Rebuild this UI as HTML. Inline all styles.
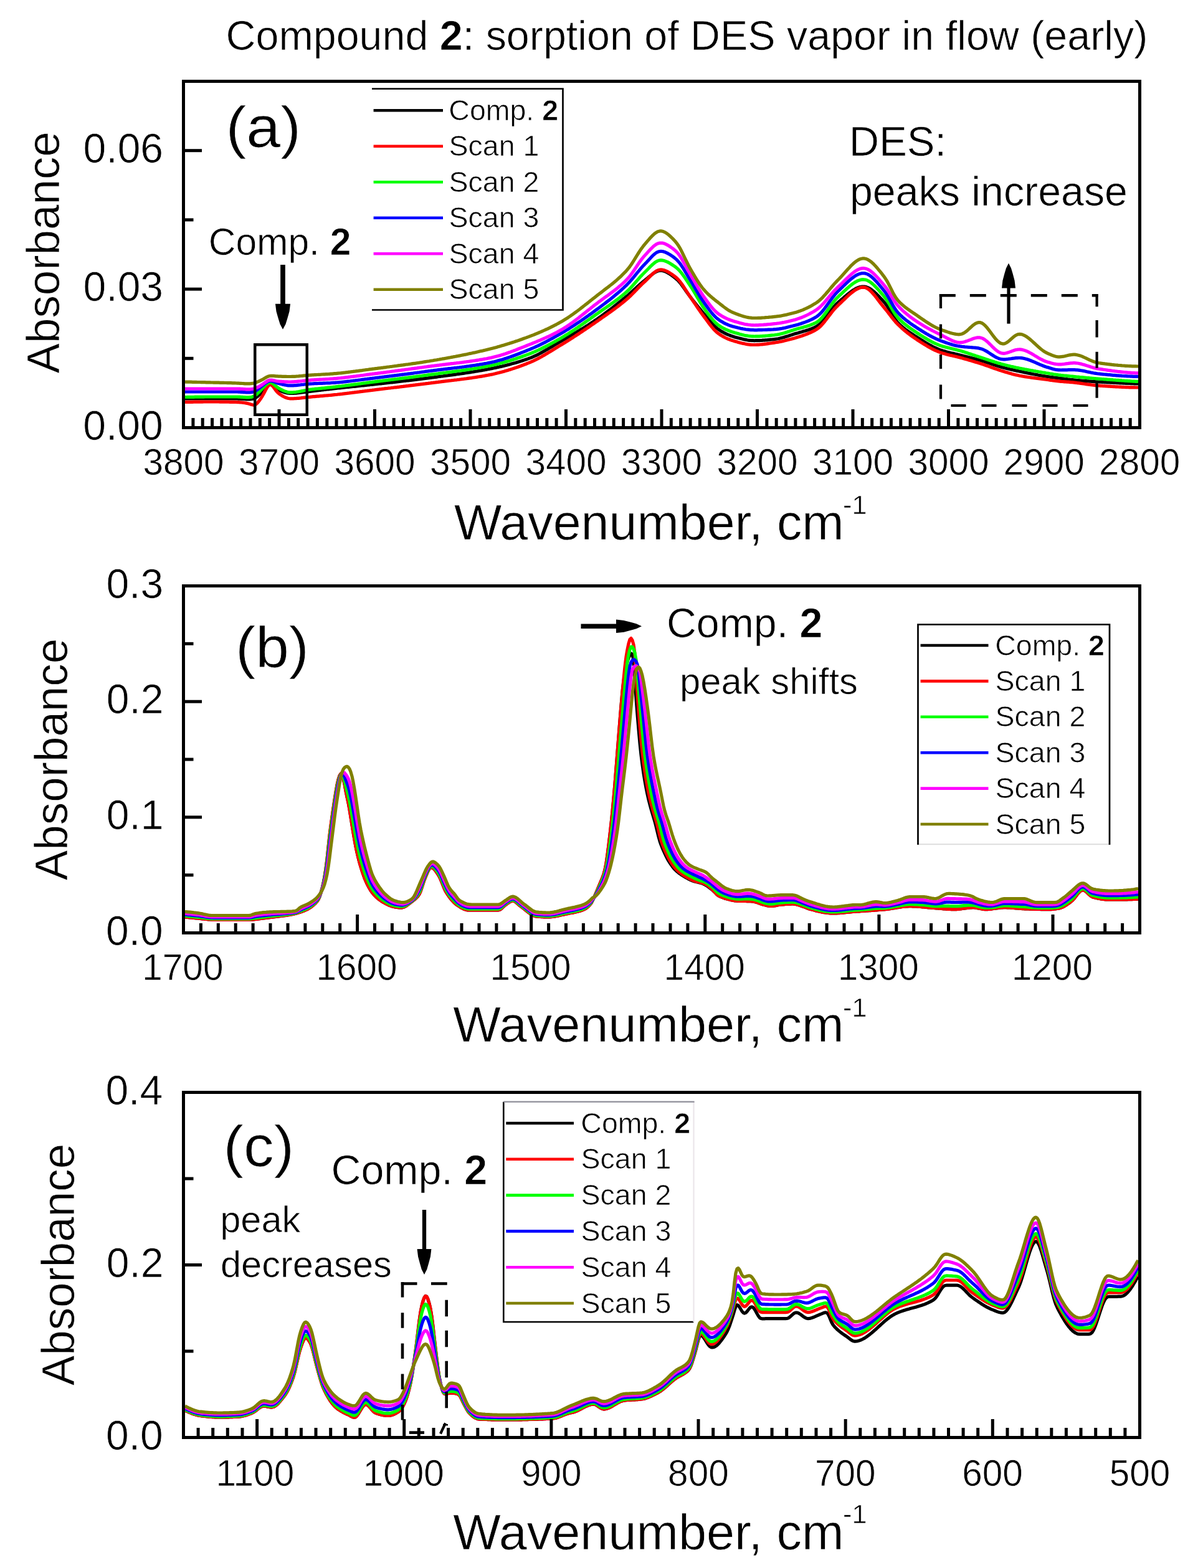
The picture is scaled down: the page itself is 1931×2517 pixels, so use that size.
<!DOCTYPE html><html><head><meta charset="utf-8"><title>Compound 2: sorption of DES vapor in flow (early)</title>
<style>html,body{margin:0;padding:0;background:#fff;width:1931px;height:2517px;overflow:hidden}svg{display:block}text{font-family:'Liberation Sans', Arial, sans-serif;fill:#000;stroke:#fff;stroke-width:0.7px}</style></head><body>
<svg width="1931" height="2517" viewBox="0 0 1931 2517">
<rect width="1931" height="2517" fill="#fff"/>
<text x="362.6" y="80" font-size="66.4">Compound <tspan font-weight="bold">2</tspan>: sorption of DES vapor in flow (early)</text>
<polyline points="297,640 299,640 301,640 303,640 305,640 307,640 309,640 311,640 313,640 315,640 317,640 319,640 321,640 323,640 325,640 327,640 329,640 331,640 333,640 335,640 337,640 339,640 341,640 343,640 345,640 347,640 349,640 351,640 353,640 355,640 357,640 359,640 361,640 363,640 365,640 367,640 369,640 371,640 373,640 375,640 377,640 379,640 381,640 383,640.1 385,640.2 387,640.3 389,640.4 391,640.6 393,640.7 395,640.8 397,640.9 399,640.9 401,640.9 403,640.7 405,640.4 407,639.9 409,639.2 411,638.1 413,636.7 415,634.9 417,633 419,630.9 421,628.6 423,626.2 425,623.7 427,621.2 429,618.9 431,617.3 433,616.4 435,616.4 437,617.4 439,619.1 441,621 443,622.9 445,624.5 447,625.8 449,626.8 451,627.7 453,628.5 455,629.3 457,629.9 459,630.4 461,630.9 463,631.2 465,631.3 467,631.4 469,631.4 471,631.3 473,631.2 475,631.1 477,630.9 479,630.7 481,630.4 483,630.2 485,629.9 487,629.7 489,629.4 491,629.1 493,628.9 495,628.6 497,628.4 499,628.1 501,627.9 503,627.7 505,627.4 507,627.2 509,627 511,626.7 513,626.5 515,626.3 517,626 519,625.8 521,625.5 523,625.3 525,625 527,624.8 529,624.6 531,624.3 533,624.1 535,623.9 537,623.7 539,623.4 541,623.2 543,623 545,622.8 547,622.6 549,622.4 551,622.2 553,621.9 555,621.7 557,621.5 559,621.3 561,621.1 563,620.9 565,620.7 567,620.5 569,620.3 571,620.1 573,619.9 575,619.7 577,619.5 579,619.2 581,619 583,618.8 585,618.6 587,618.4 589,618.2 591,618 593,617.8 595,617.5 597,617.3 599,617.1 601,616.9 603,616.7 605,616.4 607,616.2 609,616 611,615.8 613,615.6 615,615.3 617,615.1 619,614.9 621,614.7 623,614.5 625,614.2 627,614 629,613.8 631,613.6 633,613.3 635,613.1 637,612.9 639,612.7 641,612.4 643,612.2 645,612 647,611.7 649,611.5 651,611.3 653,611 655,610.8 657,610.6 659,610.3 661,610.1 663,609.9 665,609.6 667,609.4 669,609.1 671,608.9 673,608.7 675,608.4 677,608.2 679,607.9 681,607.7 683,607.4 685,607.1 687,606.9 689,606.6 691,606.4 693,606.1 695,605.8 697,605.6 699,605.3 701,605.1 703,604.8 705,604.5 707,604.3 709,604 711,603.8 713,603.5 715,603.2 717,603 719,602.7 721,602.4 723,602.2 725,601.9 727,601.6 729,601.4 731,601.1 733,600.8 735,600.5 737,600.3 739,600 741,599.7 743,599.4 745,599.1 747,598.8 749,598.5 751,598.2 753,597.9 755,597.6 757,597.3 759,597 761,596.6 763,596.3 765,596 767,595.6 769,595.3 771,595 773,594.6 775,594.2 777,593.9 779,593.5 781,593.1 783,592.8 785,592.4 787,592 789,591.6 791,591.2 793,590.8 795,590.4 797,589.9 799,589.5 801,589.1 803,588.6 805,588.2 807,587.7 809,587.2 811,586.7 813,586.2 815,585.7 817,585.2 819,584.7 821,584.1 823,583.6 825,583 827,582.5 829,581.9 831,581.3 833,580.7 835,580.1 837,579.4 839,578.8 841,578.1 843,577.4 845,576.8 847,576.1 849,575.3 851,574.6 853,573.8 855,573 857,572.1 859,571.2 861,570.3 863,569.3 865,568.3 867,567.2 869,566.1 871,565 873,563.9 875,562.8 877,561.6 879,560.5 881,559.3 883,558.1 885,556.9 887,555.7 889,554.5 891,553.3 893,552.1 895,550.9 897,549.8 899,548.6 901,547.4 903,546.3 905,545.1 907,544 909,542.8 911,541.7 913,540.5 915,539.3 917,538.2 919,537 921,535.8 923,534.6 925,533.5 927,532.3 929,531.1 931,529.8 933,528.6 935,527.4 937,526.2 939,524.9 941,523.6 943,522.4 945,521.1 947,519.8 949,518.5 951,517.2 953,515.9 955,514.5 957,513.2 959,511.8 961,510.4 963,509 965,507.6 967,506.1 969,504.7 971,503.2 973,501.7 975,500.2 977,498.7 979,497.2 981,495.6 983,494.1 985,492.5 987,490.9 989,489.3 991,487.7 993,486.1 995,484.5 997,482.9 999,481.3 1001,479.6 1003,478 1005,476.3 1007,474.7 1009,473 1011,471.2 1013,469.4 1015,467.6 1017,465.8 1019,463.9 1021,462.1 1023,460.2 1025,458.4 1027,456.6 1029,454.9 1031,453.2 1033,451.6 1035,450 1037,448.4 1039,446.8 1041,445.1 1043,443.4 1045,441.8 1047,440.2 1049,438.7 1051,437.4 1053,436.3 1055,435.4 1057,434.7 1059,434.4 1061,434.3 1063,434.5 1065,435 1067,435.6 1069,436.5 1071,437.5 1073,438.6 1075,439.8 1077,441.2 1079,442.6 1081,444 1083,445.6 1085,447.2 1087,449 1089,451 1091,453.3 1093,455.7 1095,458.4 1097,461.2 1099,464 1101,466.9 1103,469.8 1105,472.6 1107,475.3 1109,477.9 1111,480.5 1113,483 1115,485.5 1117,488 1119,490.5 1121,493 1123,495.4 1125,497.9 1127,500.3 1129,502.6 1131,505 1133,507.4 1135,509.8 1137,512.2 1139,514.6 1141,517 1143,519.2 1145,521.4 1147,523.4 1149,525.3 1151,527 1153,528.5 1155,529.9 1157,531.2 1159,532.4 1161,533.5 1163,534.6 1165,535.6 1167,536.6 1169,537.4 1171,538.2 1173,539 1175,539.6 1177,540.3 1179,540.9 1181,541.5 1183,542 1185,542.6 1187,543.1 1189,543.6 1191,544.1 1193,544.6 1195,545 1197,545.4 1199,545.8 1201,546.1 1203,546.3 1205,546.5 1207,546.7 1209,546.7 1211,546.8 1213,546.7 1215,546.7 1217,546.7 1219,546.6 1221,546.5 1223,546.4 1225,546.2 1227,546.1 1229,545.9 1231,545.8 1233,545.6 1235,545.4 1237,545.2 1239,545 1241,544.8 1243,544.6 1245,544.3 1247,544 1249,543.7 1251,543.3 1253,542.8 1255,542.3 1257,541.8 1259,541.2 1261,540.6 1263,540 1265,539.4 1267,538.7 1269,538.1 1271,537.4 1273,536.8 1275,536.1 1277,535.5 1279,534.9 1281,534.4 1283,533.8 1285,533.2 1287,532.7 1289,532.1 1291,531.5 1293,531 1295,530.3 1297,529.7 1299,529 1301,528.3 1303,527.6 1305,526.7 1307,525.9 1309,524.9 1311,523.8 1313,522.5 1315,520.9 1317,519.2 1319,517.1 1321,514.9 1323,512.5 1325,510 1327,507.4 1329,504.7 1331,502.1 1333,499.4 1335,496.8 1337,494.3 1339,491.9 1341,489.7 1343,487.7 1345,485.8 1347,484.1 1349,482.3 1351,480.6 1353,478.9 1355,477.1 1357,475.4 1359,473.7 1361,472.1 1363,470.5 1365,469 1367,467.5 1369,466.1 1371,464.9 1373,463.7 1375,462.7 1377,461.8 1379,461.1 1381,460.5 1383,460.2 1385,460 1387,460 1389,460.3 1391,460.8 1393,461.6 1395,462.6 1397,463.8 1399,465.1 1401,466.7 1403,468.3 1405,470.1 1407,472 1409,474 1411,476.1 1413,478.2 1415,480.3 1417,482.5 1419,484.8 1421,487.2 1423,489.9 1425,492.9 1427,496.2 1429,499.6 1431,503.1 1433,506.5 1435,509.8 1437,512.8 1439,515.4 1441,517.8 1443,519.9 1445,521.8 1447,523.6 1449,525.3 1451,526.9 1453,528.5 1455,530 1457,531.4 1459,532.8 1461,534.1 1463,535.5 1465,536.8 1467,538.1 1469,539.4 1471,540.6 1473,541.9 1475,543.2 1477,544.5 1479,545.8 1481,547 1483,548.3 1485,549.5 1487,550.7 1489,551.9 1491,553 1493,554.2 1495,555.2 1497,556.3 1499,557.3 1501,558.2 1503,559.2 1505,560 1507,560.8 1509,561.6 1511,562.3 1513,562.9 1515,563.6 1517,564.1 1519,564.7 1521,565.2 1523,565.7 1525,566.2 1527,566.7 1529,567.1 1531,567.6 1533,568.1 1535,568.5 1537,569 1539,569.5 1541,570 1543,570.5 1545,571 1547,571.5 1549,572 1551,572.5 1553,573 1555,573.5 1557,574 1559,574.5 1561,575.1 1563,575.6 1565,576.1 1567,576.6 1569,577.2 1571,577.7 1573,578.3 1575,578.9 1577,579.5 1579,580.1 1581,580.8 1583,581.4 1585,582.1 1587,582.7 1589,583.4 1591,584.1 1593,584.8 1595,585.4 1597,586.1 1599,586.7 1601,587.4 1603,588 1605,588.6 1607,589.2 1609,589.7 1611,590.2 1613,590.8 1615,591.3 1617,591.8 1619,592.2 1621,592.7 1623,593.2 1625,593.6 1627,594.1 1629,594.5 1631,594.9 1633,595.4 1635,595.8 1637,596.2 1639,596.6 1641,597 1643,597.5 1645,597.9 1647,598.3 1649,598.7 1651,599.1 1653,599.5 1655,599.9 1657,600.3 1659,600.7 1661,601 1663,601.4 1665,601.8 1667,602.2 1669,602.5 1671,602.9 1673,603.2 1675,603.5 1677,603.9 1679,604.2 1681,604.5 1683,604.8 1685,605.1 1687,605.3 1689,605.6 1691,605.9 1693,606.1 1695,606.4 1697,606.6 1699,606.9 1701,607.1 1703,607.4 1705,607.7 1707,607.9 1709,608.2 1711,608.5 1713,608.7 1715,609 1717,609.2 1719,609.5 1721,609.7 1723,609.9 1725,610.1 1727,610.3 1729,610.5 1731,610.6 1733,610.8 1735,611 1737,611.2 1739,611.3 1741,611.5 1743,611.6 1745,611.8 1747,611.9 1749,612.1 1751,612.2 1753,612.4 1755,612.5 1757,612.6 1759,612.8 1761,612.9 1763,613 1765,613.1 1767,613.2 1769,613.3 1771,613.5 1773,613.6 1775,613.7 1777,613.8 1779,613.9 1781,614 1783,614.1 1785,614.2 1787,614.3 1789,614.4 1791,614.5 1793,614.6 1795,614.7 1797,614.8 1799,614.9 1801,615 1803,615.1 1805,615.2 1807,615.3 1809,615.3 1811,615.4 1813,615.5 1815,615.6 1817,615.6 1819,615.7 1821,615.8 1823,615.8 1825,615.9 1827,615.9" fill="none" stroke="#000000" stroke-width="5.2" stroke-linejoin="round" stroke-linecap="butt"/>
<polyline points="297,645.5 299,645.4 301,645.4 303,645.4 305,645.3 307,645.3 309,645.3 311,645.2 313,645.2 315,645.2 317,645.1 319,645.1 321,645.1 323,645.1 325,645.1 327,645 329,645 331,645 333,645 335,645 337,645 339,645 341,645 343,645 345,645 347,645 349,645 351,645 353,645.1 355,645.1 357,645.1 359,645.1 361,645.1 363,645.2 365,645.2 367,645.2 369,645.3 371,645.3 373,645.3 375,645.4 377,645.4 379,645.5 381,645.6 383,645.7 385,645.8 387,646 389,646.2 391,646.5 393,646.8 395,647.1 397,647.5 399,648 401,648.5 403,649.2 405,649.8 407,650.1 409,649.8 411,648.8 413,647 415,644.7 417,642.1 419,639.2 421,636 423,632.5 425,628.7 427,624.9 429,621.5 431,618.9 433,617.6 435,617.6 437,619 439,621.4 441,624.2 443,627 445,629.3 447,631.2 449,632.8 451,634.1 453,635.4 455,636.5 457,637.5 459,638.3 461,639 463,639.5 465,639.8 467,639.9 469,639.9 471,639.8 473,639.7 475,639.6 477,639.4 479,639.3 481,639.1 483,638.9 485,638.6 487,638.4 489,638.2 491,638 493,637.7 495,637.5 497,637.3 499,637.1 501,636.9 503,636.7 505,636.6 507,636.4 509,636.2 511,636.1 513,635.9 515,635.7 517,635.6 519,635.4 521,635.2 523,635 525,634.8 527,634.7 529,634.5 531,634.3 533,634.1 535,633.9 537,633.7 539,633.5 541,633.3 543,633 545,632.8 547,632.6 549,632.4 551,632.1 553,631.9 555,631.7 557,631.4 559,631.2 561,630.9 563,630.7 565,630.4 567,630.2 569,629.9 571,629.7 573,629.4 575,629.2 577,628.9 579,628.6 581,628.4 583,628.1 585,627.9 587,627.6 589,627.4 591,627.1 593,626.9 595,626.6 597,626.4 599,626.1 601,625.9 603,625.6 605,625.4 607,625.2 609,624.9 611,624.7 613,624.4 615,624.2 617,623.9 619,623.7 621,623.5 623,623.2 625,623 627,622.8 629,622.5 631,622.3 633,622 635,621.8 637,621.6 639,621.3 641,621.1 643,620.8 645,620.6 647,620.4 649,620.1 651,619.9 653,619.6 655,619.4 657,619.1 659,618.9 661,618.7 663,618.4 665,618.2 667,617.9 669,617.7 671,617.4 673,617.2 675,616.9 677,616.7 679,616.4 681,616.2 683,615.9 685,615.6 687,615.4 689,615.1 691,614.9 693,614.6 695,614.4 697,614.1 699,613.9 701,613.6 703,613.4 705,613.1 707,612.9 709,612.6 711,612.4 713,612.2 715,611.9 717,611.7 719,611.4 721,611.2 723,611 725,610.7 727,610.5 729,610.2 731,610 733,609.8 735,609.5 737,609.3 739,609 741,608.7 743,608.5 745,608.2 747,608 749,607.7 751,607.4 753,607.1 755,606.8 757,606.6 759,606.3 761,606 763,605.7 765,605.4 767,605 769,604.7 771,604.4 773,604.1 775,603.7 777,603.4 779,603 781,602.6 783,602.3 785,601.9 787,601.5 789,601.1 791,600.7 793,600.2 795,599.8 797,599.3 799,598.8 801,598.3 803,597.8 805,597.3 807,596.7 809,596.2 811,595.6 813,595 815,594.4 817,593.8 819,593.2 821,592.6 823,591.9 825,591.2 827,590.6 829,589.9 831,589.2 833,588.5 835,587.8 837,587 839,586.3 841,585.5 843,584.8 845,584 847,583.2 849,582.4 851,581.6 853,580.7 855,579.8 857,578.9 859,577.9 861,576.9 863,575.9 865,574.9 867,573.8 869,572.7 871,571.5 873,570.4 875,569.2 877,568 879,566.9 881,565.6 883,564.4 885,563.2 887,562 889,560.7 891,559.5 893,558.3 895,557 897,555.8 899,554.6 901,553.4 903,552.2 905,551 907,549.7 909,548.5 911,547.2 913,546 915,544.7 917,543.4 919,542.2 921,540.9 923,539.6 925,538.3 927,537 929,535.7 931,534.4 933,533 935,531.7 937,530.4 939,529 941,527.7 943,526.3 945,525 947,523.6 949,522.2 951,520.8 953,519.5 955,518.1 957,516.7 959,515.3 961,513.9 963,512.5 965,511.1 967,509.7 969,508.3 971,506.9 973,505.5 975,504.1 977,502.7 979,501.3 981,499.9 983,498.4 985,496.9 987,495.5 989,494 991,492.5 993,490.9 995,489.4 997,487.8 999,486.2 1001,484.6 1003,482.9 1005,481.3 1007,479.5 1009,477.7 1011,475.9 1013,474 1015,472 1017,470 1019,467.9 1021,465.8 1023,463.8 1025,461.7 1027,459.7 1029,457.7 1031,455.7 1033,453.8 1035,452 1037,450.1 1039,448.1 1041,446.1 1043,444.1 1045,442.1 1047,440.2 1049,438.4 1051,436.8 1053,435.4 1055,434.3 1057,433.5 1059,433.1 1061,432.9 1063,433.1 1065,433.5 1067,434.1 1069,434.9 1071,435.8 1073,436.9 1075,438.1 1077,439.4 1079,440.7 1081,442.1 1083,443.6 1085,445.2 1087,447 1089,449.1 1091,451.4 1093,454 1095,456.8 1097,459.8 1099,462.9 1101,466 1103,469.1 1105,472.2 1107,475.2 1109,478.1 1111,481 1113,483.9 1115,486.9 1117,489.8 1119,492.8 1121,495.7 1123,498.6 1125,501.4 1127,504.2 1129,506.9 1131,509.6 1133,512.3 1135,515 1137,517.7 1139,520.3 1141,522.9 1143,525.4 1145,527.7 1147,529.9 1149,531.9 1151,533.7 1153,535.3 1155,536.7 1157,538 1159,539.3 1161,540.4 1163,541.5 1165,542.5 1167,543.4 1169,544.3 1171,545 1173,545.8 1175,546.4 1177,547.1 1179,547.7 1181,548.3 1183,548.8 1185,549.4 1187,549.9 1189,550.4 1191,550.9 1193,551.4 1195,551.8 1197,552.2 1199,552.6 1201,552.9 1203,553.1 1205,553.3 1207,553.5 1209,553.5 1211,553.5 1213,553.5 1215,553.4 1217,553.3 1219,553.2 1221,553 1223,552.8 1225,552.6 1227,552.4 1229,552.2 1231,551.9 1233,551.6 1235,551.3 1237,551 1239,550.7 1241,550.4 1243,550.1 1245,549.8 1247,549.5 1249,549.2 1251,548.8 1253,548.4 1255,548 1257,547.6 1259,547.1 1261,546.6 1263,546.1 1265,545.6 1267,545.1 1269,544.6 1271,544 1273,543.4 1275,542.9 1277,542.3 1279,541.7 1281,541.1 1283,540.5 1285,539.8 1287,539.2 1289,538.5 1291,537.8 1293,537.1 1295,536.3 1297,535.5 1299,534.7 1301,533.8 1303,532.9 1305,531.9 1307,530.9 1309,529.7 1311,528.5 1313,527.1 1315,525.5 1317,523.7 1319,521.6 1321,519.4 1323,517 1325,514.5 1327,512 1329,509.3 1331,506.7 1333,504.1 1335,501.5 1337,499 1339,496.6 1341,494.4 1343,492.3 1345,490.3 1347,488.4 1349,486.5 1351,484.6 1353,482.7 1355,480.8 1357,478.8 1359,476.9 1361,475.1 1363,473.2 1365,471.5 1367,469.8 1369,468.3 1371,466.8 1373,465.5 1375,464.3 1377,463.3 1379,462.4 1381,461.8 1383,461.3 1385,461.2 1387,461.3 1389,461.7 1391,462.5 1393,463.6 1395,465 1397,466.8 1399,468.7 1401,470.9 1403,473.2 1405,475.7 1407,478.2 1409,480.8 1411,483.5 1413,486.1 1415,488.7 1417,491.2 1419,493.6 1421,496 1423,498.5 1425,501 1427,503.6 1429,506.2 1431,508.8 1433,511.3 1435,513.8 1437,516.2 1439,518.4 1441,520.5 1443,522.4 1445,524.3 1447,526.2 1449,528 1451,529.7 1453,531.4 1455,533 1457,534.6 1459,536.1 1461,537.6 1463,539.1 1465,540.5 1467,541.9 1469,543.3 1471,544.6 1473,546 1475,547.3 1477,548.6 1479,549.9 1481,551.1 1483,552.4 1485,553.6 1487,554.8 1489,556 1491,557.1 1493,558.2 1495,559.3 1497,560.3 1499,561.3 1501,562.3 1503,563.2 1505,564 1507,564.8 1509,565.6 1511,566.3 1513,566.9 1515,567.5 1517,568.1 1519,568.7 1521,569.2 1523,569.7 1525,570.2 1527,570.6 1529,571.1 1531,571.5 1533,572 1535,572.5 1537,573 1539,573.5 1541,574 1543,574.6 1545,575.1 1547,575.7 1549,576.2 1551,576.8 1553,577.3 1555,577.9 1557,578.5 1559,579.1 1561,579.7 1563,580.3 1565,580.9 1567,581.5 1569,582.1 1571,582.7 1573,583.3 1575,584 1577,584.6 1579,585.3 1581,586 1583,586.7 1585,587.4 1587,588.1 1589,588.8 1591,589.6 1593,590.3 1595,591 1597,591.7 1599,592.4 1601,593.1 1603,593.8 1605,594.4 1607,595.1 1609,595.7 1611,596.3 1613,596.9 1615,597.5 1617,598.1 1619,598.7 1621,599.3 1623,599.8 1625,600.4 1627,600.9 1629,601.4 1631,601.9 1633,602.3 1635,602.8 1637,603.2 1639,603.5 1641,603.9 1643,604.2 1645,604.6 1647,604.9 1649,605.2 1651,605.5 1653,605.8 1655,606.1 1657,606.4 1659,606.6 1661,606.9 1663,607.2 1665,607.4 1667,607.7 1669,607.9 1671,608.2 1673,608.4 1675,608.7 1677,609 1679,609.2 1681,609.5 1683,609.8 1685,610.1 1687,610.3 1689,610.6 1691,610.9 1693,611.2 1695,611.4 1697,611.6 1699,611.9 1701,612.1 1703,612.3 1705,612.5 1707,612.6 1709,612.8 1711,612.9 1713,613.1 1715,613.2 1717,613.4 1719,613.6 1721,613.7 1723,613.9 1725,614.1 1727,614.3 1729,614.6 1731,614.8 1733,615.1 1735,615.4 1737,615.7 1739,616 1741,616.3 1743,616.6 1745,616.9 1747,617.2 1749,617.4 1751,617.7 1753,618 1755,618.2 1757,618.4 1759,618.6 1761,618.8 1763,619 1765,619.1 1767,619.3 1769,619.4 1771,619.6 1773,619.7 1775,619.8 1777,620 1779,620.1 1781,620.2 1783,620.3 1785,620.5 1787,620.6 1789,620.7 1791,620.8 1793,620.9 1795,621 1797,621.1 1799,621.2 1801,621.3 1803,621.4 1805,621.5 1807,621.6 1809,621.6 1811,621.7 1813,621.8 1815,621.8 1817,621.9 1819,621.9 1821,621.9 1823,622 1825,622 1827,622" fill="none" stroke="#ff0000" stroke-width="5.2" stroke-linejoin="round" stroke-linecap="butt"/>
<polyline points="297,637.5 299,637.5 301,637.4 303,637.4 305,637.4 307,637.3 309,637.3 311,637.3 313,637.2 315,637.2 317,637.2 319,637.2 321,637.1 323,637.1 325,637.1 327,637.1 329,637 331,637 333,637 335,637 337,637 339,637 341,637 343,637 345,637 347,637 349,637 351,637 353,637 355,637 357,637 359,637 361,637 363,637 365,637 367,637 369,637 371,637 373,637 375,637 377,637 379,637 381,637 383,637.1 385,637.2 387,637.3 389,637.4 391,637.6 393,637.7 395,637.8 397,637.9 399,637.9 401,637.7 403,637.4 405,636.9 407,636.1 409,635.1 411,633.7 413,632 415,630.1 417,628.1 419,626 421,623.9 423,621.8 425,619.7 427,617.7 429,616 431,614.7 433,614.1 435,614.2 437,615.1 439,616.6 441,618.3 443,620.1 445,621.6 447,623 449,624.1 451,625.2 453,626.2 455,627.1 457,627.9 459,628.6 461,629.2 463,629.6 465,629.8 467,629.9 469,629.8 471,629.7 473,629.5 475,629.3 477,629 479,628.7 481,628.4 483,628 485,627.6 487,627.2 489,626.8 491,626.5 493,626.1 495,625.8 497,625.4 499,625.2 501,624.9 503,624.7 505,624.4 507,624.2 509,624 511,623.8 513,623.6 515,623.4 517,623.2 519,623 521,622.8 523,622.6 525,622.4 527,622.2 529,622 531,621.8 533,621.6 535,621.4 537,621.2 539,620.9 541,620.7 543,620.4 545,620.2 547,620 549,619.7 551,619.5 553,619.2 555,618.9 557,618.7 559,618.4 561,618.2 563,617.9 565,617.6 567,617.4 569,617.1 571,616.8 573,616.6 575,616.3 577,616 579,615.8 581,615.5 583,615.2 585,615 587,614.7 589,614.4 591,614.2 593,613.9 595,613.6 597,613.4 599,613.1 601,612.9 603,612.6 605,612.4 607,612.1 609,611.9 611,611.6 613,611.4 615,611.1 617,610.8 619,610.6 621,610.3 623,610.1 625,609.8 627,609.6 629,609.3 631,609.1 633,608.9 635,608.6 637,608.4 639,608.1 641,607.9 643,607.6 645,607.4 647,607.1 649,606.9 651,606.6 653,606.3 655,606.1 657,605.8 659,605.6 661,605.3 663,605.1 665,604.8 667,604.6 669,604.3 671,604 673,603.8 675,603.5 677,603.3 679,603 681,602.7 683,602.5 685,602.2 687,601.9 689,601.6 691,601.4 693,601.1 695,600.8 697,600.6 699,600.3 701,600 703,599.8 705,599.5 707,599.2 709,599 711,598.7 713,598.5 715,598.2 717,597.9 719,597.7 721,597.4 723,597.1 725,596.9 727,596.6 729,596.4 731,596.1 733,595.8 735,595.5 737,595.3 739,595 741,594.7 743,594.4 745,594.1 747,593.9 749,593.6 751,593.3 753,593 755,592.7 757,592.3 759,592 761,591.7 763,591.4 765,591.1 767,590.7 769,590.4 771,590 773,589.7 775,589.3 777,588.9 779,588.6 781,588.2 783,587.8 785,587.4 787,587 789,586.6 791,586.1 793,585.7 795,585.2 797,584.8 799,584.3 801,583.8 803,583.3 805,582.7 807,582.2 809,581.6 811,581.1 813,580.5 815,579.9 817,579.3 819,578.7 821,578.1 823,577.5 825,576.8 827,576.2 829,575.5 831,574.8 833,574.1 835,573.5 837,572.8 839,572 841,571.3 843,570.6 845,569.9 847,569.1 849,568.4 851,567.6 853,566.8 855,566 857,565.2 859,564.3 861,563.4 863,562.5 865,561.6 867,560.6 869,559.7 871,558.7 873,557.7 875,556.7 877,555.6 879,554.6 881,553.5 883,552.5 885,551.4 887,550.3 889,549.2 891,548.1 893,547 895,545.8 897,544.7 899,543.6 901,542.4 903,541.2 905,540.1 907,538.8 909,537.6 911,536.4 913,535.1 915,533.8 917,532.5 919,531.2 921,529.9 923,528.6 925,527.2 927,525.9 929,524.5 931,523.1 933,521.7 935,520.3 937,518.9 939,517.5 941,516.1 943,514.7 945,513.3 947,511.8 949,510.4 951,509 953,507.6 955,506.1 957,504.7 959,503.3 961,501.9 963,500.5 965,499.1 967,497.7 969,496.3 971,494.9 973,493.6 975,492.2 977,490.8 979,489.4 981,487.9 983,486.5 985,485 987,483.6 989,482.1 991,480.6 993,479 995,477.5 997,475.9 999,474.2 1001,472.6 1003,470.9 1005,469.1 1007,467.3 1009,465.4 1011,463.4 1013,461.3 1015,459.1 1017,456.8 1019,454.5 1021,452.2 1023,449.9 1025,447.6 1027,445.3 1029,443.1 1031,441 1033,439 1035,437 1037,435 1039,433 1041,431 1043,428.9 1045,426.9 1047,425 1049,423.2 1051,421.6 1053,420.2 1055,419.1 1057,418.3 1059,417.9 1061,417.7 1063,417.9 1065,418.3 1067,418.8 1069,419.6 1071,420.4 1073,421.4 1075,422.5 1077,423.7 1079,425 1081,426.3 1083,427.7 1085,429.2 1087,430.8 1089,432.7 1091,434.8 1093,437.2 1095,439.7 1097,442.5 1099,445.3 1101,448.2 1103,451.2 1105,454.2 1107,457.2 1109,460.2 1111,463.3 1113,466.6 1115,470 1117,473.4 1119,476.9 1121,480.3 1123,483.7 1125,487 1127,490.2 1129,493.2 1131,496.1 1133,498.9 1135,501.7 1137,504.4 1139,507.1 1141,509.6 1143,512.1 1145,514.4 1147,516.6 1149,518.5 1151,520.3 1153,521.8 1155,523.2 1157,524.5 1159,525.7 1161,526.8 1163,527.8 1165,528.8 1167,529.7 1169,530.5 1171,531.3 1173,532 1175,532.7 1177,533.3 1179,533.9 1181,534.5 1183,535.1 1185,535.6 1187,536.2 1189,536.7 1191,537.2 1193,537.7 1195,538.2 1197,538.6 1199,538.9 1201,539.2 1203,539.5 1205,539.7 1207,539.8 1209,539.9 1211,540 1213,539.9 1215,539.9 1217,539.9 1219,539.8 1221,539.7 1223,539.6 1225,539.4 1227,539.3 1229,539.1 1231,539 1233,538.8 1235,538.6 1237,538.4 1239,538.2 1241,538 1243,537.8 1245,537.5 1247,537.2 1249,536.9 1251,536.5 1253,536 1255,535.5 1257,535 1259,534.4 1261,533.8 1263,533.2 1265,532.5 1267,531.9 1269,531.2 1271,530.6 1273,530 1275,529.3 1277,528.7 1279,528.1 1281,527.6 1283,527 1285,526.5 1287,525.9 1289,525.4 1291,524.8 1293,524.3 1295,523.7 1297,523 1299,522.4 1301,521.7 1303,520.9 1305,520.1 1307,519.2 1309,518.3 1311,517.2 1313,515.8 1315,514.3 1317,512.4 1319,510.3 1321,507.9 1323,505.4 1325,502.7 1327,500 1329,497.1 1331,494.3 1333,491.4 1335,488.6 1337,485.9 1339,483.4 1341,481 1343,478.8 1345,476.8 1347,474.9 1349,473 1351,471.2 1353,469.3 1355,467.4 1357,465.6 1359,463.7 1361,461.9 1363,460.2 1365,458.5 1367,456.9 1369,455.4 1371,454.1 1373,452.8 1375,451.7 1377,450.7 1379,449.9 1381,449.3 1383,448.9 1385,448.7 1387,448.8 1389,449.1 1391,449.6 1393,450.5 1395,451.6 1397,452.9 1399,454.4 1401,456.1 1403,457.9 1405,459.9 1407,462 1409,464.1 1411,466.4 1413,468.7 1415,471 1417,473.3 1419,475.7 1421,478.3 1423,481.1 1425,484.1 1427,487.5 1429,491 1431,494.5 1433,498 1435,501.3 1437,504.4 1439,507.1 1441,509.5 1443,511.7 1445,513.7 1447,515.6 1449,517.5 1451,519.2 1453,520.8 1455,522.4 1457,524 1459,525.4 1461,526.9 1463,528.3 1465,529.6 1467,531 1469,532.3 1471,533.7 1473,535 1475,536.3 1477,537.6 1479,538.9 1481,540.1 1483,541.4 1485,542.6 1487,543.8 1489,545 1491,546.1 1493,547.2 1495,548.3 1497,549.3 1499,550.3 1501,551.3 1503,552.2 1505,553 1507,553.8 1509,554.6 1511,555.3 1513,555.9 1515,556.5 1517,557.1 1519,557.6 1521,558.1 1523,558.6 1525,559.1 1527,559.6 1529,560 1531,560.5 1533,561 1535,561.4 1537,561.9 1539,562.5 1541,563 1543,563.6 1545,564.2 1547,564.8 1549,565.4 1551,566.1 1553,566.7 1555,567.4 1557,568 1559,568.7 1561,569.4 1563,570 1565,570.7 1567,571.4 1569,572 1571,572.7 1573,573.3 1575,574 1577,574.6 1579,575.3 1581,575.9 1583,576.6 1585,577.3 1587,577.9 1589,578.6 1591,579.3 1593,579.9 1595,580.5 1597,581.2 1599,581.8 1601,582.4 1603,583 1605,583.6 1607,584.2 1609,584.7 1611,585.2 1613,585.8 1615,586.3 1617,586.8 1619,587.2 1621,587.7 1623,588.2 1625,588.6 1627,589.1 1629,589.5 1631,590 1633,590.4 1635,590.8 1637,591.2 1639,591.6 1641,592 1643,592.4 1645,592.8 1647,593.1 1649,593.5 1651,593.9 1653,594.2 1655,594.6 1657,594.9 1659,595.3 1661,595.6 1663,596 1665,596.3 1667,596.7 1669,597 1671,597.3 1673,597.7 1675,598 1677,598.3 1679,598.7 1681,599 1683,599.3 1685,599.7 1687,600 1689,600.3 1691,600.7 1693,601 1695,601.3 1697,601.6 1699,601.9 1701,602.1 1703,602.4 1705,602.6 1707,602.8 1709,603 1711,603.2 1713,603.4 1715,603.6 1717,603.8 1719,604 1721,604.2 1723,604.4 1725,604.6 1727,604.8 1729,605 1731,605.2 1733,605.4 1735,605.5 1737,605.7 1739,605.9 1741,606.1 1743,606.3 1745,606.5 1747,606.6 1749,606.8 1751,607 1753,607.2 1755,607.3 1757,607.5 1759,607.7 1761,607.8 1763,608 1765,608.2 1767,608.3 1769,608.5 1771,608.6 1773,608.8 1775,608.9 1777,609.1 1779,609.3 1781,609.4 1783,609.6 1785,609.7 1787,609.9 1789,610 1791,610.2 1793,610.3 1795,610.4 1797,610.6 1799,610.7 1801,610.9 1803,611 1805,611.2 1807,611.3 1809,611.4 1811,611.6 1813,611.7 1815,611.8 1817,612 1819,612.1 1821,612.2 1823,612.3 1825,612.4 1827,612.5" fill="none" stroke="#00ff00" stroke-width="5.2" stroke-linejoin="round" stroke-linecap="butt"/>
<polyline points="297,629 299,629 301,629 303,629 305,629 307,629 309,629 311,629 313,629 315,629 317,629 319,629 321,629 323,629 325,629 327,629 329,629 331,629 333,629 335,629 337,629 339,629 341,629 343,629 345,629 347,629 349,629 351,629 353,629 355,629 357,629 359,629 361,629 363,629 365,629 367,629 369,629 371,629 373,629 375,629 377,629 379,629 381,629 383,629.1 385,629.2 387,629.3 389,629.4 391,629.6 393,629.7 395,629.8 397,629.9 399,629.9 401,629.9 403,629.7 405,629.4 407,628.9 409,628.2 411,627.2 413,625.8 415,624.2 417,622.6 419,620.9 421,619.2 423,617.6 425,616 427,614.5 429,613.2 431,612.2 433,611.7 435,611.6 437,611.9 439,612.6 441,613.3 443,614.1 445,614.9 447,615.5 449,616 451,616.6 453,617.1 455,617.5 457,617.9 459,618.3 461,618.6 463,618.8 465,618.9 467,618.9 469,618.9 471,618.8 473,618.7 475,618.6 477,618.4 479,618.2 481,618 483,617.7 485,617.5 487,617.3 489,617 491,616.8 493,616.6 495,616.4 497,616.2 499,616.1 501,616 503,615.8 505,615.7 507,615.7 509,615.6 511,615.5 513,615.4 515,615.3 517,615.3 519,615.2 521,615.1 523,615 525,614.9 527,614.9 529,614.8 531,614.7 533,614.5 535,614.4 537,614.3 539,614.1 541,614 543,613.8 545,613.7 547,613.5 549,613.3 551,613.1 553,612.9 555,612.7 557,612.4 559,612.2 561,612 563,611.7 565,611.5 567,611.2 569,611 571,610.7 573,610.5 575,610.2 577,610 579,609.7 581,609.4 583,609.2 585,608.9 587,608.6 589,608.4 591,608.1 593,607.9 595,607.6 597,607.4 599,607.1 601,606.9 603,606.6 605,606.4 607,606.2 609,605.9 611,605.7 613,605.4 615,605.2 617,604.9 619,604.7 621,604.4 623,604.2 625,603.9 627,603.7 629,603.4 631,603.2 633,602.9 635,602.7 637,602.4 639,602.2 641,601.9 643,601.7 645,601.4 647,601.1 649,600.9 651,600.6 653,600.4 655,600.1 657,599.8 659,599.6 661,599.3 663,599.1 665,598.8 667,598.5 669,598.3 671,598 673,597.8 675,597.5 677,597.2 679,597 681,596.7 683,596.4 685,596.2 687,595.9 689,595.6 691,595.4 693,595.1 695,594.9 697,594.6 699,594.3 701,594.1 703,593.8 705,593.6 707,593.4 709,593.1 711,592.9 713,592.6 715,592.4 717,592.2 719,591.9 721,591.7 723,591.5 725,591.2 727,591 729,590.7 731,590.5 733,590.3 735,590 737,589.8 739,589.5 741,589.3 743,589 745,588.8 747,588.5 749,588.2 751,588 753,587.7 755,587.4 757,587.1 759,586.8 761,586.5 763,586.2 765,585.9 767,585.6 769,585.3 771,584.9 773,584.6 775,584.2 777,583.9 779,583.5 781,583.2 783,582.8 785,582.4 787,582 789,581.6 791,581.1 793,580.7 795,580.2 797,579.7 799,579.1 801,578.6 803,578 805,577.5 807,576.9 809,576.2 811,575.6 813,575 815,574.3 817,573.6 819,572.9 821,572.2 823,571.5 825,570.8 827,570 829,569.3 831,568.5 833,567.8 835,567 837,566.2 839,565.4 841,564.6 843,563.8 845,563 847,562.2 849,561.4 851,560.6 853,559.7 855,558.9 857,558 859,557.1 861,556.2 863,555.3 865,554.3 867,553.3 869,552.3 871,551.3 873,550.3 875,549.3 877,548.3 879,547.2 881,546.1 883,545 885,544 887,542.9 889,541.7 891,540.6 893,539.5 895,538.4 897,537.2 899,536.1 901,534.9 903,533.7 905,532.6 907,531.4 909,530.1 911,528.9 913,527.7 915,526.4 917,525.1 919,523.9 921,522.6 923,521.3 925,519.9 927,518.6 929,517.3 931,515.9 933,514.6 935,513.2 937,511.8 939,510.4 941,509 943,507.6 945,506.2 947,504.7 949,503.3 951,501.8 953,500.4 955,498.9 957,497.4 959,496 961,494.5 963,493 965,491.5 967,490 969,488.5 971,487 973,485.4 975,483.9 977,482.3 979,480.8 981,479.2 983,477.6 985,475.9 987,474.3 989,472.6 991,470.9 993,469.2 995,467.5 997,465.7 999,463.9 1001,462.1 1003,460.2 1005,458.3 1007,456.3 1009,454.2 1011,452.1 1013,449.8 1015,447.5 1017,445.1 1019,442.6 1021,440.2 1023,437.7 1025,435.3 1027,432.9 1029,430.5 1031,428.3 1033,426.1 1035,424 1037,421.9 1039,419.7 1041,417.6 1043,415.4 1045,413.2 1047,411.1 1049,409.2 1051,407.5 1053,406 1055,404.8 1057,404 1059,403.5 1061,403.4 1063,403.5 1065,403.9 1067,404.5 1069,405.3 1071,406.3 1073,407.4 1075,408.6 1077,409.8 1079,411.2 1081,412.7 1083,414.2 1085,415.8 1087,417.7 1089,419.9 1091,422.3 1093,425.1 1095,428.1 1097,431.2 1099,434.5 1101,437.9 1103,441.2 1105,444.6 1107,447.9 1109,451.1 1111,454.4 1113,457.8 1115,461.2 1117,464.6 1119,468.1 1121,471.5 1123,474.8 1125,478 1127,481.2 1129,484.1 1131,487 1133,489.8 1135,492.6 1137,495.3 1139,498 1141,500.5 1143,503 1145,505.3 1147,507.4 1149,509.4 1151,511.2 1153,512.7 1155,514.1 1157,515.4 1159,516.6 1161,517.8 1163,518.8 1165,519.8 1167,520.7 1169,521.6 1171,522.4 1173,523 1175,523.7 1177,524.2 1179,524.8 1181,525.3 1183,525.8 1185,526.3 1187,526.7 1189,527.2 1191,527.6 1193,528 1195,528.3 1197,528.7 1199,529 1201,529.2 1203,529.4 1205,529.6 1207,529.7 1209,529.7 1211,529.8 1213,529.8 1215,529.8 1217,529.7 1219,529.7 1221,529.7 1223,529.6 1225,529.5 1227,529.5 1229,529.4 1231,529.3 1233,529.2 1235,529.2 1237,529.1 1239,529 1241,528.9 1243,528.7 1245,528.6 1247,528.4 1249,528.2 1251,527.9 1253,527.6 1255,527.3 1257,526.9 1259,526.5 1261,526.1 1263,525.6 1265,525.1 1267,524.6 1269,524.1 1271,523.6 1273,523.1 1275,522.5 1277,522 1279,521.4 1281,520.9 1283,520.3 1285,519.7 1287,519 1289,518.3 1291,517.6 1293,516.9 1295,516.1 1297,515.3 1299,514.5 1301,513.5 1303,512.6 1305,511.6 1307,510.5 1309,509.4 1311,508.1 1313,506.6 1315,504.9 1317,503 1319,500.9 1321,498.5 1323,496 1325,493.3 1327,490.6 1329,487.8 1331,485 1333,482.2 1335,479.4 1337,476.8 1339,474.3 1341,471.9 1343,469.8 1345,467.7 1347,465.8 1349,463.8 1351,461.9 1353,460 1355,458 1357,456.1 1359,454.2 1361,452.3 1363,450.5 1365,448.8 1367,447.1 1369,445.6 1371,444.1 1373,442.8 1375,441.6 1377,440.6 1379,439.8 1381,439.2 1383,438.7 1385,438.5 1387,438.6 1389,438.9 1391,439.5 1393,440.4 1395,441.5 1397,442.9 1399,444.4 1401,446.2 1403,448.1 1405,450.2 1407,452.3 1409,454.6 1411,456.9 1413,459.3 1415,461.6 1417,464.1 1419,466.6 1421,469.2 1423,472.1 1425,475.3 1427,478.7 1429,482.3 1431,486 1433,489.6 1435,493 1437,496.1 1439,498.9 1441,501.3 1443,503.6 1445,505.6 1447,507.5 1449,509.4 1451,511.1 1453,512.8 1455,514.4 1457,515.9 1459,517.4 1461,518.9 1463,520.3 1465,521.6 1467,523 1469,524.3 1471,525.6 1473,527 1475,528.3 1477,529.5 1479,530.8 1481,532.1 1483,533.3 1485,534.5 1487,535.7 1489,536.8 1491,538 1493,539.1 1495,540.1 1497,541.2 1499,542.2 1501,543.1 1503,544.1 1505,544.9 1507,545.8 1509,546.6 1511,547.4 1513,548.1 1515,548.8 1517,549.5 1519,550.2 1521,550.9 1523,551.6 1525,552.2 1527,552.8 1529,553.4 1531,553.9 1533,554.4 1535,554.9 1537,555.3 1539,555.6 1541,556 1543,556.2 1545,556.5 1547,556.7 1549,556.9 1551,557 1553,557.2 1555,557.3 1557,557.5 1559,557.6 1561,557.8 1563,558 1565,558.2 1567,558.4 1569,558.6 1571,558.9 1573,559.4 1575,559.9 1577,560.6 1579,561.5 1581,562.5 1583,563.6 1585,564.8 1587,566.1 1589,567.4 1591,568.7 1593,570 1595,571.3 1597,572.5 1599,573.6 1601,574.5 1603,575.4 1605,576 1607,576.5 1609,576.7 1611,576.8 1613,576.8 1615,576.7 1617,576.5 1619,576.2 1621,576 1623,575.7 1625,575.4 1627,575.2 1629,574.9 1631,574.7 1633,574.6 1635,574.5 1637,574.5 1639,574.7 1641,574.9 1643,575.2 1645,575.7 1647,576.2 1649,576.8 1651,577.5 1653,578.2 1655,579 1657,579.8 1659,580.7 1661,581.5 1663,582.4 1665,583.3 1667,584.2 1669,585.1 1671,585.9 1673,586.7 1675,587.5 1677,588.2 1679,588.9 1681,589.5 1683,590.1 1685,590.7 1687,591.3 1689,591.9 1691,592.5 1693,593 1695,593.4 1697,593.7 1699,593.8 1701,593.9 1703,594 1705,593.9 1707,593.9 1709,593.9 1711,593.8 1713,593.8 1715,593.7 1717,593.7 1719,593.7 1721,593.6 1723,593.6 1725,593.7 1727,593.8 1729,593.9 1731,594.1 1733,594.4 1735,594.7 1737,595 1739,595.4 1741,595.8 1743,596.2 1745,596.7 1747,597.1 1749,597.5 1751,598 1753,598.4 1755,598.8 1757,599.1 1759,599.4 1761,599.7 1763,600 1765,600.2 1767,600.4 1769,600.6 1771,600.8 1773,601 1775,601.2 1777,601.4 1779,601.6 1781,601.7 1783,601.9 1785,602.1 1787,602.3 1789,602.4 1791,602.6 1793,602.8 1795,602.9 1797,603.1 1799,603.2 1801,603.4 1803,603.5 1805,603.6 1807,603.7 1809,603.8 1811,604 1813,604 1815,604.1 1817,604.2 1819,604.3 1821,604.3 1823,604.4 1825,604.4 1827,604.5" fill="none" stroke="#0000ff" stroke-width="5.2" stroke-linejoin="round" stroke-linecap="butt"/>
<polyline points="297,624 299,624 301,624 303,624 305,624 307,624 309,624 311,624 313,624 315,624 317,624 319,624 321,624 323,624 325,624 327,624 329,624 331,624 333,624 335,624 337,624 339,624 341,624 343,624 345,624 347,624 349,624 351,624 353,624 355,624 357,624 359,624 361,624 363,624 365,624 367,624 369,624 371,624 373,624 375,624 377,624 379,624 381,624 383,624.1 385,624.2 387,624.3 389,624.4 391,624.6 393,624.7 395,624.8 397,624.9 399,624.9 401,624.8 403,624.7 405,624.4 407,624 409,623.5 411,622.8 413,621.9 415,620.9 417,619.7 419,618.5 421,617.2 423,615.8 425,614.4 427,613 429,611.7 431,610.7 433,610.1 435,610 437,610.2 439,610.6 441,611 443,611.5 445,611.9 447,612.1 449,612.3 451,612.4 453,612.6 455,612.7 457,612.8 459,612.9 461,612.9 463,613 465,613 467,613 469,612.9 471,612.8 473,612.7 475,612.6 477,612.4 479,612.2 481,612 483,611.8 485,611.6 487,611.3 489,611.1 491,610.9 493,610.7 495,610.5 497,610.3 499,610.1 501,609.9 503,609.8 505,609.7 507,609.6 509,609.4 511,609.3 513,609.2 515,609.1 517,609 519,608.9 521,608.8 523,608.7 525,608.6 527,608.5 529,608.3 531,608.2 533,608.1 535,607.9 537,607.7 539,607.6 541,607.4 543,607.2 545,607 547,606.8 549,606.6 551,606.4 553,606.1 555,605.9 557,605.7 559,605.4 561,605.2 563,604.9 565,604.7 567,604.4 569,604.1 571,603.9 573,603.6 575,603.3 577,603.1 579,602.8 581,602.5 583,602.3 585,602 587,601.7 589,601.4 591,601.2 593,600.9 595,600.6 597,600.4 599,600.1 601,599.9 603,599.6 605,599.4 607,599.1 609,598.8 611,598.6 613,598.3 615,598.1 617,597.8 619,597.6 621,597.3 623,597 625,596.8 627,596.5 629,596.2 631,596 633,595.7 635,595.4 637,595.2 639,594.9 641,594.6 643,594.4 645,594.1 647,593.8 649,593.6 651,593.3 653,593 655,592.8 657,592.5 659,592.2 661,591.9 663,591.7 665,591.4 667,591.1 669,590.9 671,590.6 673,590.3 675,590 677,589.8 679,589.5 681,589.2 683,589 685,588.7 687,588.4 689,588.1 691,587.9 693,587.6 695,587.3 697,587.1 699,586.8 701,586.6 703,586.3 705,586.1 707,585.8 709,585.6 711,585.3 713,585.1 715,584.9 717,584.6 719,584.4 721,584.2 723,583.9 725,583.7 727,583.5 729,583.2 731,583 733,582.7 735,582.5 737,582.3 739,582 741,581.8 743,581.5 745,581.2 747,581 749,580.7 751,580.5 753,580.2 755,579.9 757,579.6 759,579.3 761,579 763,578.7 765,578.4 767,578.1 769,577.8 771,577.4 773,577.1 775,576.8 777,576.4 779,576 781,575.7 783,575.3 785,574.9 787,574.5 789,574.1 791,573.6 793,573.1 795,572.6 797,572.1 799,571.6 801,571 803,570.4 805,569.8 807,569.2 809,568.5 811,567.9 813,567.2 815,566.5 817,565.8 819,565.1 821,564.3 823,563.6 825,562.8 827,562.1 829,561.3 831,560.5 833,559.7 835,558.9 837,558.2 839,557.4 841,556.6 843,555.8 845,555 847,554.2 849,553.4 851,552.6 853,551.8 855,551 857,550.2 859,549.4 861,548.6 863,547.7 865,546.9 867,546.1 869,545.2 871,544.3 873,543.4 875,542.5 877,541.6 879,540.7 881,539.8 883,538.8 885,537.9 887,536.9 889,535.9 891,534.8 893,533.8 895,532.7 897,531.6 899,530.5 901,529.4 903,528.2 905,527 907,525.7 909,524.5 911,523.1 913,521.8 915,520.4 917,519 919,517.5 921,516 923,514.6 925,513 927,511.5 929,510 931,508.4 933,506.8 935,505.2 937,503.7 939,502.1 941,500.5 943,498.9 945,497.3 947,495.7 949,494.1 951,492.5 953,490.9 955,489.3 957,487.8 959,486.3 961,484.7 963,483.3 965,481.8 967,480.3 969,478.9 971,477.4 973,476 975,474.6 977,473.1 979,471.7 981,470.2 983,468.7 985,467.2 987,465.6 989,464.1 991,462.5 993,460.8 995,459.1 997,457.4 999,455.6 1001,453.8 1003,451.9 1005,449.9 1007,447.8 1009,445.6 1011,443.2 1013,440.5 1015,437.8 1017,434.9 1019,432 1021,429 1023,426 1025,423 1027,420.1 1029,417.4 1031,414.8 1033,412.4 1035,410.1 1037,407.9 1039,405.7 1041,403.5 1043,401.4 1045,399.3 1047,397.3 1049,395.4 1051,393.8 1053,392.4 1055,391.3 1057,390.5 1059,390.1 1061,390 1063,390.1 1065,390.6 1067,391.2 1069,392.1 1071,393.1 1073,394.2 1075,395.5 1077,396.9 1079,398.3 1081,399.9 1083,401.5 1085,403.3 1087,405.3 1089,407.7 1091,410.5 1093,413.6 1095,416.9 1097,420.4 1099,424.1 1101,427.8 1103,431.5 1105,435.2 1107,438.7 1109,442.1 1111,445.6 1113,449 1115,452.4 1117,455.9 1119,459.3 1121,462.6 1123,465.9 1125,469.1 1127,472.2 1129,475.2 1131,478 1133,480.8 1135,483.6 1137,486.3 1139,488.9 1141,491.5 1143,493.9 1145,496.2 1147,498.3 1149,500.3 1151,502.1 1153,503.6 1155,505 1157,506.3 1159,507.5 1161,508.6 1163,509.7 1165,510.7 1167,511.6 1169,512.5 1171,513.2 1173,514 1175,514.6 1177,515.3 1179,515.9 1181,516.5 1183,517.1 1185,517.6 1187,518.2 1189,518.7 1191,519.2 1193,519.7 1195,520.2 1197,520.6 1199,520.9 1201,521.2 1203,521.5 1205,521.7 1207,521.8 1209,521.9 1211,522 1213,521.9 1215,521.9 1217,521.8 1219,521.7 1221,521.6 1223,521.5 1225,521.4 1227,521.2 1229,521.1 1231,520.9 1233,520.7 1235,520.5 1237,520.3 1239,520.1 1241,519.9 1243,519.7 1245,519.5 1247,519.2 1249,519 1251,518.7 1253,518.4 1255,518 1257,517.6 1259,517.3 1261,516.9 1263,516.4 1265,516 1267,515.5 1269,515 1271,514.5 1273,514 1275,513.4 1277,512.9 1279,512.3 1281,511.6 1283,511 1285,510.2 1287,509.5 1289,508.7 1291,507.8 1293,506.9 1295,506 1297,505 1299,504 1301,502.9 1303,501.8 1305,500.7 1307,499.5 1309,498.2 1311,496.9 1313,495.4 1315,493.8 1317,492 1319,490 1321,487.9 1323,485.7 1325,483.4 1327,481 1329,478.6 1331,476.2 1333,473.8 1335,471.5 1337,469.1 1339,466.9 1341,464.8 1343,462.8 1345,460.8 1347,459 1349,457.1 1351,455.1 1353,453.2 1355,451.2 1357,449.2 1359,447.2 1361,445.3 1363,443.4 1365,441.6 1367,439.8 1369,438.2 1371,436.6 1373,435.2 1375,434 1377,432.9 1379,432 1381,431.3 1383,430.9 1385,430.6 1387,430.7 1389,431 1391,431.6 1393,432.4 1395,433.5 1397,434.8 1399,436.3 1401,438 1403,439.9 1405,441.9 1407,443.9 1409,446.1 1411,448.3 1413,450.6 1415,452.9 1417,455.2 1419,457.6 1421,460.1 1423,462.8 1425,465.8 1427,469 1429,472.3 1431,475.7 1433,479.1 1435,482.3 1437,485.3 1439,488 1441,490.4 1443,492.6 1445,494.7 1447,496.7 1449,498.6 1451,500.4 1453,502.1 1455,503.8 1457,505.4 1459,507 1461,508.6 1463,510 1465,511.5 1467,512.9 1469,514.3 1471,515.6 1473,517 1475,518.3 1477,519.6 1479,520.8 1481,522 1483,523.2 1485,524.4 1487,525.6 1489,526.7 1491,527.8 1493,528.9 1495,529.9 1497,531 1499,532 1501,533 1503,534 1505,535 1507,536 1509,536.9 1511,537.9 1513,538.9 1515,540 1517,541 1519,542.1 1521,543.2 1523,544.2 1525,545.2 1527,546.2 1529,547 1531,547.8 1533,548.5 1535,549 1537,549.5 1539,549.7 1541,549.8 1543,549.7 1545,549.4 1547,549 1549,548.5 1551,547.8 1553,547.1 1555,546.3 1557,545.6 1559,544.8 1561,544 1563,543.3 1565,542.7 1567,542.3 1569,541.9 1571,541.8 1573,541.9 1575,542.4 1577,543.1 1579,544.1 1581,545.5 1583,547 1585,548.7 1587,550.6 1589,552.5 1591,554.5 1593,556.6 1595,558.5 1597,560.4 1599,562.1 1601,563.6 1603,565 1605,566 1607,566.7 1609,567.2 1611,567.3 1613,567.1 1615,566.8 1617,566.2 1619,565.6 1621,564.9 1623,564.2 1625,563.4 1627,562.7 1629,562.1 1631,561.5 1633,561.2 1635,561 1637,560.9 1639,561.1 1641,561.4 1643,561.9 1645,562.6 1647,563.3 1649,564.2 1651,565.1 1653,566.2 1655,567.3 1657,568.4 1659,569.6 1661,570.9 1663,572.1 1665,573.3 1667,574.5 1669,575.6 1671,576.7 1673,577.7 1675,578.7 1677,579.5 1679,580.3 1681,580.9 1683,581.5 1685,582.1 1687,582.7 1689,583.2 1691,583.7 1693,584.1 1695,584.5 1697,584.7 1699,584.8 1701,584.9 1703,584.8 1705,584.7 1707,584.5 1709,584.2 1711,583.9 1713,583.7 1715,583.4 1717,583.1 1719,582.9 1721,582.8 1723,582.7 1725,582.7 1727,582.8 1729,583 1731,583.3 1733,583.7 1735,584.1 1737,584.7 1739,585.2 1741,585.8 1743,586.4 1745,587.1 1747,587.7 1749,588.3 1751,589 1753,589.6 1755,590.2 1757,590.7 1759,591.2 1761,591.6 1763,592 1765,592.3 1767,592.6 1769,592.9 1771,593.2 1773,593.5 1775,593.8 1777,594.1 1779,594.4 1781,594.6 1783,594.9 1785,595.2 1787,595.5 1789,595.7 1791,596 1793,596.2 1795,596.5 1797,596.7 1799,596.9 1801,597.1 1803,597.3 1805,597.5 1807,597.7 1809,597.9 1811,598.1 1813,598.2 1815,598.3 1817,598.5 1819,598.6 1821,598.7 1823,598.8 1825,598.9 1827,598.9" fill="none" stroke="#ff00ff" stroke-width="5.2" stroke-linejoin="round" stroke-linecap="butt"/>
<polyline points="297,613 299,613.1 301,613.1 303,613.1 305,613.2 307,613.2 309,613.3 311,613.3 313,613.4 315,613.4 317,613.5 319,613.5 321,613.5 323,613.6 325,613.6 327,613.7 329,613.7 331,613.8 333,613.8 335,613.9 337,613.9 339,614 341,614 343,614.1 345,614.1 347,614.2 349,614.2 351,614.2 353,614.3 355,614.3 357,614.4 359,614.4 361,614.5 363,614.5 365,614.6 367,614.6 369,614.7 371,614.7 373,614.8 375,614.8 377,614.9 379,615 381,615.1 383,615.2 385,615.3 387,615.4 389,615.5 391,615.6 393,615.8 395,615.8 397,615.9 399,615.9 401,615.8 403,615.7 405,615.4 407,615.1 409,614.6 411,614 413,613.2 415,612.4 417,611.4 419,610.4 421,609.4 423,608.2 425,607 427,605.9 429,604.8 431,604 433,603.5 435,603.3 437,603.3 439,603.4 441,603.6 443,603.8 445,603.9 447,604.1 449,604.1 451,604.2 453,604.3 455,604.3 457,604.4 459,604.4 461,604.5 463,604.5 465,604.5 467,604.5 469,604.4 471,604.4 473,604.3 475,604.2 477,604 479,603.9 481,603.7 483,603.5 485,603.3 487,603.1 489,602.9 491,602.8 493,602.6 495,602.4 497,602.2 499,602.1 501,601.9 503,601.8 505,601.7 507,601.6 509,601.5 511,601.4 513,601.3 515,601.2 517,601 519,600.9 521,600.8 523,600.7 525,600.6 527,600.5 529,600.3 531,600.2 533,600.1 535,599.9 537,599.7 539,599.6 541,599.4 543,599.2 545,599 547,598.8 549,598.6 551,598.4 553,598.2 555,597.9 557,597.7 559,597.4 561,597.2 563,596.9 565,596.7 567,596.4 569,596.2 571,595.9 573,595.6 575,595.4 577,595.1 579,594.8 581,594.6 583,594.3 585,594 587,593.7 589,593.5 591,593.2 593,592.9 595,592.7 597,592.4 599,592.1 601,591.9 603,591.6 605,591.4 607,591.1 609,590.8 611,590.6 613,590.3 615,590.1 617,589.8 619,589.6 621,589.3 623,589 625,588.8 627,588.5 629,588.3 631,588 633,587.7 635,587.5 637,587.2 639,586.9 641,586.7 643,586.4 645,586.1 647,585.9 649,585.6 651,585.3 653,585 655,584.8 657,584.5 659,584.2 661,583.9 663,583.6 665,583.3 667,583.1 669,582.8 671,582.5 673,582.2 675,581.9 677,581.6 679,581.2 681,580.9 683,580.6 685,580.3 687,580 689,579.7 691,579.3 693,579 695,578.7 697,578.3 699,578 701,577.7 703,577.3 705,577 707,576.6 709,576.3 711,575.9 713,575.6 715,575.2 717,574.9 719,574.5 721,574.1 723,573.8 725,573.4 727,573 729,572.6 731,572.3 733,571.9 735,571.5 737,571.1 739,570.7 741,570.3 743,569.9 745,569.5 747,569.1 749,568.7 751,568.2 753,567.8 755,567.4 757,567 759,566.5 761,566.1 763,565.7 765,565.2 767,564.8 769,564.3 771,563.8 773,563.4 775,562.9 777,562.4 779,562 781,561.5 783,561 785,560.5 787,560 789,559.5 791,559 793,558.4 795,557.9 797,557.4 799,556.8 801,556.3 803,555.7 805,555.1 807,554.5 809,553.9 811,553.3 813,552.7 815,552.1 817,551.5 819,550.8 821,550.2 823,549.5 825,548.9 827,548.2 829,547.5 831,546.9 833,546.2 835,545.5 837,544.8 839,544 841,543.3 843,542.6 845,541.9 847,541.1 849,540.4 851,539.6 853,538.8 855,538.1 857,537.3 859,536.5 861,535.7 863,534.8 865,534 867,533.2 869,532.3 871,531.4 873,530.5 875,529.6 877,528.7 879,527.8 881,526.8 883,525.9 885,524.9 887,523.9 889,522.9 891,521.8 893,520.8 895,519.7 897,518.6 899,517.5 901,516.4 903,515.2 905,514 907,512.8 909,511.6 911,510.3 913,508.9 915,507.6 917,506.2 919,504.8 921,503.4 923,501.9 925,500.5 927,499 929,497.5 931,496 933,494.4 935,492.9 937,491.3 939,489.7 941,488.2 943,486.6 945,485 947,483.4 949,481.8 951,480.2 953,478.7 955,477.1 957,475.5 959,473.9 961,472.4 963,470.8 965,469.3 967,467.8 969,466.2 971,464.7 973,463.2 975,461.7 977,460.1 979,458.5 981,457 983,455.4 985,453.7 987,452.1 989,450.4 991,448.6 993,446.8 995,445 997,443.2 999,441.2 1001,439.2 1003,437.2 1005,435.1 1007,432.8 1009,430.4 1011,427.8 1013,425 1015,422 1017,418.9 1019,415.7 1021,412.4 1023,409.2 1025,406 1027,402.9 1029,399.9 1031,397.2 1033,394.5 1035,392.1 1037,389.8 1039,387.4 1041,385.1 1043,382.8 1045,380.6 1047,378.5 1049,376.6 1051,374.8 1053,373.4 1055,372.2 1057,371.4 1059,370.9 1061,370.9 1063,371.1 1065,371.8 1067,372.7 1069,373.8 1071,375.2 1073,376.8 1075,378.5 1077,380.4 1079,382.3 1081,384.4 1083,386.5 1085,388.8 1087,391.4 1089,394.3 1091,397.6 1093,401.3 1095,405.2 1097,409.3 1099,413.5 1101,417.6 1103,421.7 1105,425.7 1107,429.4 1109,433 1111,436.5 1113,439.9 1115,443.3 1117,446.6 1119,449.8 1121,453 1123,456 1125,458.8 1127,461.5 1129,464 1131,466.3 1133,468.5 1135,470.5 1137,472.5 1139,474.3 1141,476.1 1143,477.8 1145,479.4 1147,481 1149,482.6 1151,484.2 1153,485.7 1155,487.3 1157,488.9 1159,490.4 1161,492 1163,493.5 1165,495 1167,496.4 1169,497.7 1171,498.9 1173,500 1175,501 1177,501.8 1179,502.7 1181,503.5 1183,504.2 1185,505 1187,505.7 1189,506.4 1191,507.1 1193,507.7 1195,508.3 1197,508.8 1199,509.2 1201,509.6 1203,510 1205,510.2 1207,510.4 1209,510.5 1211,510.5 1213,510.5 1215,510.5 1217,510.4 1219,510.4 1221,510.3 1223,510.1 1225,510 1227,509.9 1229,509.7 1231,509.5 1233,509.4 1235,509.2 1237,509 1239,508.8 1241,508.6 1243,508.4 1245,508.2 1247,507.9 1249,507.7 1251,507.4 1253,507.1 1255,506.7 1257,506.3 1259,505.9 1261,505.5 1263,505.1 1265,504.6 1267,504.1 1269,503.6 1271,503.1 1273,502.6 1275,502 1277,501.5 1279,500.9 1281,500.2 1283,499.6 1285,498.8 1287,498.1 1289,497.3 1291,496.4 1293,495.5 1295,494.6 1297,493.7 1299,492.6 1301,491.6 1303,490.5 1305,489.3 1307,488.1 1309,486.9 1311,485.6 1313,484.1 1315,482.5 1317,480.7 1319,478.8 1321,476.8 1323,474.6 1325,472.4 1327,470 1329,467.7 1331,465.3 1333,462.9 1335,460.5 1337,458.2 1339,455.9 1341,453.7 1343,451.6 1345,449.5 1347,447.5 1349,445.4 1351,443.2 1353,441 1355,438.8 1357,436.6 1359,434.3 1361,432.1 1363,429.9 1365,427.7 1367,425.7 1369,423.8 1371,422 1373,420.3 1375,418.9 1377,417.6 1379,416.5 1381,415.7 1383,415.2 1385,414.9 1387,414.9 1389,415.2 1391,415.8 1393,416.7 1395,417.9 1397,419.3 1399,420.9 1401,422.7 1403,424.7 1405,426.8 1407,429 1409,431.4 1411,433.8 1413,436.2 1415,438.7 1417,441.3 1419,443.9 1421,446.8 1423,449.9 1425,453.4 1427,457.2 1429,461.2 1431,465.2 1433,469.2 1435,472.9 1437,476.3 1439,479.2 1441,481.8 1443,484.1 1445,486.1 1447,488 1449,489.8 1451,491.5 1453,493.1 1455,494.6 1457,496.1 1459,497.5 1461,498.9 1463,500.3 1465,501.6 1467,503 1469,504.3 1471,505.7 1473,507.1 1475,508.5 1477,509.9 1479,511.3 1481,512.6 1483,514 1485,515.4 1487,516.7 1489,518 1491,519.3 1493,520.5 1495,521.7 1497,522.9 1499,524 1501,525 1503,526 1505,526.9 1507,527.8 1509,528.6 1511,529.3 1513,530.1 1515,530.8 1517,531.5 1519,532.2 1521,532.9 1523,533.6 1525,534.2 1527,534.8 1529,535.3 1531,535.7 1533,536.1 1535,536.5 1537,536.7 1539,536.8 1541,536.7 1543,536.3 1545,535.7 1547,534.7 1549,533.4 1551,531.9 1553,530.2 1555,528.4 1557,526.5 1559,524.7 1561,522.9 1563,521.3 1565,519.9 1567,518.8 1569,518 1571,517.6 1573,517.6 1575,518.2 1577,519.2 1579,520.6 1581,522.4 1583,524.5 1585,526.8 1587,529.4 1589,532 1591,534.8 1593,537.5 1595,540.1 1597,542.7 1599,545 1601,547.1 1603,548.9 1605,550.3 1607,551.3 1609,551.8 1611,551.9 1613,551.4 1615,550.5 1617,549.3 1619,547.7 1621,546 1623,544.2 1625,542.5 1627,540.8 1629,539.2 1631,538 1633,537.1 1635,536.6 1637,536.4 1639,536.6 1641,537.1 1643,537.9 1645,538.8 1647,540 1649,541.3 1651,542.8 1653,544.4 1655,546.1 1657,547.9 1659,549.7 1661,551.5 1663,553.4 1665,555.2 1667,557.1 1669,558.8 1671,560.5 1673,562 1675,563.5 1677,564.8 1679,565.9 1681,566.9 1683,567.8 1685,568.7 1687,569.5 1689,570.3 1691,571.1 1693,571.7 1695,572.2 1697,572.6 1699,572.8 1701,572.8 1703,572.7 1705,572.4 1707,572.1 1709,571.7 1711,571.2 1713,570.8 1715,570.3 1717,569.9 1719,569.6 1721,569.3 1723,569.2 1725,569.2 1727,569.4 1729,569.7 1731,570.2 1733,570.7 1735,571.4 1737,572.2 1739,573.1 1741,574 1743,574.9 1745,575.9 1747,576.8 1749,577.8 1751,578.7 1753,579.5 1755,580.3 1757,581 1759,581.6 1761,582.1 1763,582.5 1765,582.8 1767,583.1 1769,583.4 1771,583.7 1773,583.9 1775,584.2 1777,584.4 1779,584.7 1781,584.9 1783,585.1 1785,585.4 1787,585.6 1789,585.8 1791,586 1793,586.2 1795,586.4 1797,586.5 1799,586.7 1801,586.9 1803,587 1805,587.1 1807,587.3 1809,587.4 1811,587.5 1813,587.6 1815,587.7 1817,587.8 1819,587.8 1821,587.9 1823,587.9 1825,588 1827,588" fill="none" stroke="#808000" stroke-width="5.2" stroke-linejoin="round" stroke-linecap="butt"/>
<line x1="1814.2" y1="686.5" x2="1814.2" y2="671" stroke="#000" stroke-width="5"/>
<line x1="1798.8" y1="686.5" x2="1798.8" y2="671" stroke="#000" stroke-width="5"/>
<line x1="1783.5" y1="686.5" x2="1783.5" y2="671" stroke="#000" stroke-width="5"/>
<line x1="1768.1" y1="686.5" x2="1768.1" y2="671" stroke="#000" stroke-width="5"/>
<line x1="1752.8" y1="686.5" x2="1752.8" y2="671" stroke="#000" stroke-width="5"/>
<line x1="1737.4" y1="686.5" x2="1737.4" y2="671" stroke="#000" stroke-width="5"/>
<line x1="1722.1" y1="686.5" x2="1722.1" y2="671" stroke="#000" stroke-width="5"/>
<line x1="1706.7" y1="686.5" x2="1706.7" y2="671" stroke="#000" stroke-width="5"/>
<line x1="1691.4" y1="686.5" x2="1691.4" y2="671" stroke="#000" stroke-width="5"/>
<line x1="1676" y1="686.5" x2="1676" y2="657" stroke="#000" stroke-width="5"/>
<line x1="1660.7" y1="686.5" x2="1660.7" y2="671" stroke="#000" stroke-width="5"/>
<line x1="1645.3" y1="686.5" x2="1645.3" y2="671" stroke="#000" stroke-width="5"/>
<line x1="1630" y1="686.5" x2="1630" y2="671" stroke="#000" stroke-width="5"/>
<line x1="1614.6" y1="686.5" x2="1614.6" y2="671" stroke="#000" stroke-width="5"/>
<line x1="1599.2" y1="686.5" x2="1599.2" y2="671" stroke="#000" stroke-width="5"/>
<line x1="1583.9" y1="686.5" x2="1583.9" y2="671" stroke="#000" stroke-width="5"/>
<line x1="1568.5" y1="686.5" x2="1568.5" y2="671" stroke="#000" stroke-width="5"/>
<line x1="1553.2" y1="686.5" x2="1553.2" y2="671" stroke="#000" stroke-width="5"/>
<line x1="1537.9" y1="686.5" x2="1537.9" y2="671" stroke="#000" stroke-width="5"/>
<line x1="1522.5" y1="686.5" x2="1522.5" y2="657" stroke="#000" stroke-width="5"/>
<line x1="1507.2" y1="686.5" x2="1507.2" y2="671" stroke="#000" stroke-width="5"/>
<line x1="1491.8" y1="686.5" x2="1491.8" y2="671" stroke="#000" stroke-width="5"/>
<line x1="1476.5" y1="686.5" x2="1476.5" y2="671" stroke="#000" stroke-width="5"/>
<line x1="1461.1" y1="686.5" x2="1461.1" y2="671" stroke="#000" stroke-width="5"/>
<line x1="1445.8" y1="686.5" x2="1445.8" y2="671" stroke="#000" stroke-width="5"/>
<line x1="1430.4" y1="686.5" x2="1430.4" y2="671" stroke="#000" stroke-width="5"/>
<line x1="1415" y1="686.5" x2="1415" y2="671" stroke="#000" stroke-width="5"/>
<line x1="1399.7" y1="686.5" x2="1399.7" y2="671" stroke="#000" stroke-width="5"/>
<line x1="1384.3" y1="686.5" x2="1384.3" y2="671" stroke="#000" stroke-width="5"/>
<line x1="1369" y1="686.5" x2="1369" y2="657" stroke="#000" stroke-width="5"/>
<line x1="1353.6" y1="686.5" x2="1353.6" y2="671" stroke="#000" stroke-width="5"/>
<line x1="1338.3" y1="686.5" x2="1338.3" y2="671" stroke="#000" stroke-width="5"/>
<line x1="1323" y1="686.5" x2="1323" y2="671" stroke="#000" stroke-width="5"/>
<line x1="1307.6" y1="686.5" x2="1307.6" y2="671" stroke="#000" stroke-width="5"/>
<line x1="1292.2" y1="686.5" x2="1292.2" y2="671" stroke="#000" stroke-width="5"/>
<line x1="1276.9" y1="686.5" x2="1276.9" y2="671" stroke="#000" stroke-width="5"/>
<line x1="1261.5" y1="686.5" x2="1261.5" y2="671" stroke="#000" stroke-width="5"/>
<line x1="1246.2" y1="686.5" x2="1246.2" y2="671" stroke="#000" stroke-width="5"/>
<line x1="1230.8" y1="686.5" x2="1230.8" y2="671" stroke="#000" stroke-width="5"/>
<line x1="1215.5" y1="686.5" x2="1215.5" y2="657" stroke="#000" stroke-width="5"/>
<line x1="1200.2" y1="686.5" x2="1200.2" y2="671" stroke="#000" stroke-width="5"/>
<line x1="1184.8" y1="686.5" x2="1184.8" y2="671" stroke="#000" stroke-width="5"/>
<line x1="1169.4" y1="686.5" x2="1169.4" y2="671" stroke="#000" stroke-width="5"/>
<line x1="1154.1" y1="686.5" x2="1154.1" y2="671" stroke="#000" stroke-width="5"/>
<line x1="1138.8" y1="686.5" x2="1138.8" y2="671" stroke="#000" stroke-width="5"/>
<line x1="1123.4" y1="686.5" x2="1123.4" y2="671" stroke="#000" stroke-width="5"/>
<line x1="1108.1" y1="686.5" x2="1108.1" y2="671" stroke="#000" stroke-width="5"/>
<line x1="1092.7" y1="686.5" x2="1092.7" y2="671" stroke="#000" stroke-width="5"/>
<line x1="1077.3" y1="686.5" x2="1077.3" y2="671" stroke="#000" stroke-width="5"/>
<line x1="1062" y1="686.5" x2="1062" y2="657" stroke="#000" stroke-width="5"/>
<line x1="1046.7" y1="686.5" x2="1046.7" y2="671" stroke="#000" stroke-width="5"/>
<line x1="1031.3" y1="686.5" x2="1031.3" y2="671" stroke="#000" stroke-width="5"/>
<line x1="1015.9" y1="686.5" x2="1015.9" y2="671" stroke="#000" stroke-width="5"/>
<line x1="1000.6" y1="686.5" x2="1000.6" y2="671" stroke="#000" stroke-width="5"/>
<line x1="985.2" y1="686.5" x2="985.2" y2="671" stroke="#000" stroke-width="5"/>
<line x1="969.9" y1="686.5" x2="969.9" y2="671" stroke="#000" stroke-width="5"/>
<line x1="954.5" y1="686.5" x2="954.5" y2="671" stroke="#000" stroke-width="5"/>
<line x1="939.2" y1="686.5" x2="939.2" y2="671" stroke="#000" stroke-width="5"/>
<line x1="923.8" y1="686.5" x2="923.8" y2="671" stroke="#000" stroke-width="5"/>
<line x1="908.5" y1="686.5" x2="908.5" y2="657" stroke="#000" stroke-width="5"/>
<line x1="893.1" y1="686.5" x2="893.1" y2="671" stroke="#000" stroke-width="5"/>
<line x1="877.8" y1="686.5" x2="877.8" y2="671" stroke="#000" stroke-width="5"/>
<line x1="862.5" y1="686.5" x2="862.5" y2="671" stroke="#000" stroke-width="5"/>
<line x1="847.1" y1="686.5" x2="847.1" y2="671" stroke="#000" stroke-width="5"/>
<line x1="831.8" y1="686.5" x2="831.8" y2="671" stroke="#000" stroke-width="5"/>
<line x1="816.4" y1="686.5" x2="816.4" y2="671" stroke="#000" stroke-width="5"/>
<line x1="801" y1="686.5" x2="801" y2="671" stroke="#000" stroke-width="5"/>
<line x1="785.7" y1="686.5" x2="785.7" y2="671" stroke="#000" stroke-width="5"/>
<line x1="770.4" y1="686.5" x2="770.4" y2="671" stroke="#000" stroke-width="5"/>
<line x1="755" y1="686.5" x2="755" y2="657" stroke="#000" stroke-width="5"/>
<line x1="739.6" y1="686.5" x2="739.6" y2="671" stroke="#000" stroke-width="5"/>
<line x1="724.3" y1="686.5" x2="724.3" y2="671" stroke="#000" stroke-width="5"/>
<line x1="709" y1="686.5" x2="709" y2="671" stroke="#000" stroke-width="5"/>
<line x1="693.6" y1="686.5" x2="693.6" y2="671" stroke="#000" stroke-width="5"/>
<line x1="678.2" y1="686.5" x2="678.2" y2="671" stroke="#000" stroke-width="5"/>
<line x1="662.9" y1="686.5" x2="662.9" y2="671" stroke="#000" stroke-width="5"/>
<line x1="647.5" y1="686.5" x2="647.5" y2="671" stroke="#000" stroke-width="5"/>
<line x1="632.2" y1="686.5" x2="632.2" y2="671" stroke="#000" stroke-width="5"/>
<line x1="616.8" y1="686.5" x2="616.8" y2="671" stroke="#000" stroke-width="5"/>
<line x1="601.5" y1="686.5" x2="601.5" y2="657" stroke="#000" stroke-width="5"/>
<line x1="586.1" y1="686.5" x2="586.1" y2="671" stroke="#000" stroke-width="5"/>
<line x1="570.8" y1="686.5" x2="570.8" y2="671" stroke="#000" stroke-width="5"/>
<line x1="555.5" y1="686.5" x2="555.5" y2="671" stroke="#000" stroke-width="5"/>
<line x1="540.1" y1="686.5" x2="540.1" y2="671" stroke="#000" stroke-width="5"/>
<line x1="524.8" y1="686.5" x2="524.8" y2="671" stroke="#000" stroke-width="5"/>
<line x1="509.4" y1="686.5" x2="509.4" y2="671" stroke="#000" stroke-width="5"/>
<line x1="494.1" y1="686.5" x2="494.1" y2="671" stroke="#000" stroke-width="5"/>
<line x1="478.7" y1="686.5" x2="478.7" y2="671" stroke="#000" stroke-width="5"/>
<line x1="463.4" y1="686.5" x2="463.4" y2="671" stroke="#000" stroke-width="5"/>
<line x1="448" y1="686.5" x2="448" y2="657" stroke="#000" stroke-width="5"/>
<line x1="432.6" y1="686.5" x2="432.6" y2="671" stroke="#000" stroke-width="5"/>
<line x1="417.3" y1="686.5" x2="417.3" y2="671" stroke="#000" stroke-width="5"/>
<line x1="402" y1="686.5" x2="402" y2="671" stroke="#000" stroke-width="5"/>
<line x1="386.6" y1="686.5" x2="386.6" y2="671" stroke="#000" stroke-width="5"/>
<line x1="371.2" y1="686.5" x2="371.2" y2="671" stroke="#000" stroke-width="5"/>
<line x1="355.9" y1="686.5" x2="355.9" y2="671" stroke="#000" stroke-width="5"/>
<line x1="340.6" y1="686.5" x2="340.6" y2="671" stroke="#000" stroke-width="5"/>
<line x1="325.2" y1="686.5" x2="325.2" y2="671" stroke="#000" stroke-width="5"/>
<line x1="309.9" y1="686.5" x2="309.9" y2="671" stroke="#000" stroke-width="5"/>
<line x1="294.5" y1="464.1" x2="324" y2="464.1" stroke="#000" stroke-width="5"/>
<line x1="294.5" y1="241.7" x2="324" y2="241.7" stroke="#000" stroke-width="5"/>
<line x1="294.5" y1="575.3" x2="310.5" y2="575.3" stroke="#000" stroke-width="5"/>
<line x1="294.5" y1="352.9" x2="310.5" y2="352.9" stroke="#000" stroke-width="5"/>
<rect x="294.5" y="130.5" width="1535" height="556" fill="none" stroke="#000" stroke-width="5"/>
<text x="1764.1" y="762" font-size="58.5">2800</text>
<text x="1610.6" y="762" font-size="58.5">2900</text>
<text x="1457.5" y="762" font-size="58.5">3000</text>
<text x="1304" y="762" font-size="58.5">3100</text>
<text x="1150.5" y="762" font-size="58.5">3200</text>
<text x="997" y="762" font-size="58.5">3300</text>
<text x="843.5" y="762" font-size="58.5">3400</text>
<text x="690" y="762" font-size="58.5">3500</text>
<text x="536.5" y="762" font-size="58.5">3600</text>
<text x="383" y="762" font-size="58.5">3700</text>
<text x="229.5" y="762" font-size="58.5">3800</text>
<text x="133.3" y="705.5" font-size="66">0.00</text>
<text x="133.6" y="483.1" font-size="66">0.03</text>
<text x="133.6" y="260.7" font-size="66">0.06</text>
<text transform="translate(94.6 407) rotate(-90)" x="-192.6" y="0" font-size="74" textLength="388.4" lengthAdjust="spacingAndGlyphs">Absorbance</text>
<text x="729.1" y="866" font-size="80.5" textLength="625.5" lengthAdjust="spacingAndGlyphs">Wavenumber, cm</text>
<text x="1353.1" y="824.8" font-size="43.3">-1</text>
<polyline points="297,1472 299,1472.2 301,1472.4 303,1472.6 305,1472.8 307,1473 309,1473.2 311,1473.4 313,1473.6 315,1473.8 317,1474 319,1474.2 321,1474.4 323,1474.6 325,1474.8 327,1475 329,1475.3 331,1475.5 333,1475.7 335,1475.9 337,1476 339,1476.2 341,1476.3 343,1476.4 345,1476.4 347,1476.4 349,1476.4 351,1476.4 353,1476.4 355,1476.4 357,1476.4 359,1476.4 361,1476.4 363,1476.4 365,1476.4 367,1476.4 369,1476.4 371,1476.4 373,1476.4 375,1476.4 377,1476.4 379,1476.4 381,1476.4 383,1476.4 385,1476.4 387,1476.4 389,1476.4 391,1476.4 393,1476.4 395,1476.4 397,1476.4 399,1476.4 401,1476.3 403,1476.2 405,1476.1 407,1475.9 409,1475.6 411,1475.4 413,1475.2 415,1474.9 417,1474.7 419,1474.4 421,1474.2 423,1474 425,1473.7 427,1473.5 429,1473.2 431,1473 433,1472.7 435,1472.5 437,1472.2 439,1471.9 441,1471.7 443,1471.4 445,1471.1 447,1470.9 449,1470.7 451,1470.4 453,1470.2 455,1469.9 457,1469.7 459,1469.4 461,1469.1 463,1468.8 465,1468.4 467,1468 469,1467.6 471,1467.2 473,1466.7 475,1466.2 477,1465.7 479,1465.1 481,1464.5 483,1463.8 485,1463.1 487,1462.3 489,1461.5 491,1460.6 493,1459.6 495,1458.6 497,1457.4 499,1456.1 501,1454.5 503,1452.9 505,1451.1 507,1449.1 509,1446.8 511,1443.8 513,1439.4 515,1433.5 517,1426.3 519,1417.9 521,1407.5 523,1394.7 525,1379 527,1360 529,1341.6 531,1325.9 533,1311.5 535,1297.6 537,1284.4 539,1271.7 541,1260.2 543,1251.5 545,1245.2 547,1242.3 549,1244.1 551,1249.5 553,1258.4 555,1269.5 557,1279.1 559,1288.3 561,1299 563,1311.5 565,1324.2 567,1336.3 569,1347.9 571,1358.7 573,1368.2 575,1376.7 577,1384.3 579,1391.3 581,1397.7 583,1403.7 585,1409.2 587,1414 589,1418.3 591,1422.3 593,1426 595,1429.3 597,1432.2 599,1434.7 601,1436.9 603,1439 605,1440.9 607,1442.6 609,1444.2 611,1445.6 613,1447 615,1448.2 617,1449.3 619,1450.4 621,1451.4 623,1452.4 625,1453.3 627,1454 629,1454.7 631,1455.3 633,1455.7 635,1456.1 637,1456.4 639,1456.6 641,1456.8 643,1457 645,1456.9 647,1456.5 649,1455.8 651,1454.7 653,1453.5 655,1452 657,1450.4 659,1448.9 661,1447.3 663,1445.8 665,1444.2 667,1442.5 669,1440.5 671,1438.2 673,1435.3 675,1430.9 677,1425 679,1418.6 681,1412.7 683,1407.7 685,1402.9 687,1398.4 689,1394.8 691,1392.7 693,1392.4 695,1393.4 697,1395.2 699,1397.7 701,1400.5 703,1403.5 705,1406.8 707,1410.9 709,1415.8 711,1420.9 713,1425.8 715,1430.1 717,1433.5 719,1436.5 721,1439.4 723,1442.1 725,1444.5 727,1446.8 729,1448.9 731,1450.7 733,1452.3 735,1453.6 737,1454.9 739,1456.2 741,1457.4 743,1458.4 745,1459.4 747,1460.1 749,1460.6 751,1460.9 753,1461 755,1461 757,1461 759,1461 761,1461 763,1461 765,1461 767,1461 769,1461 771,1461 773,1461 775,1461 777,1461 779,1461 781,1461 783,1461 785,1461 787,1461 789,1461 791,1461 793,1461 795,1461 797,1461 799,1461 801,1460.7 803,1459.8 805,1458.3 807,1456.4 809,1454.5 811,1452.8 813,1451.3 815,1449.9 817,1448.5 819,1447.3 821,1446.4 823,1446.1 825,1446.5 827,1447.5 829,1449 831,1450.8 833,1452.6 835,1454.2 837,1455.7 839,1457.2 841,1458.7 843,1460.4 845,1462 847,1463.6 849,1465.2 851,1466.6 853,1467.9 855,1469 857,1470 859,1470.6 861,1471 863,1471.2 865,1471.3 867,1471.5 869,1471.6 871,1471.7 873,1471.8 875,1471.9 877,1472 879,1472 881,1472 883,1471.9 885,1471.7 887,1471.5 889,1471.2 891,1470.9 893,1470.5 895,1470.1 897,1469.7 899,1469.2 901,1468.8 903,1468.3 905,1467.9 907,1467.4 909,1467 911,1466.6 913,1466.2 915,1465.8 917,1465.5 919,1465.1 921,1464.7 923,1464.2 925,1463.8 927,1463.3 929,1462.8 931,1462.2 933,1461.5 935,1460.8 937,1460 939,1459 941,1457.7 943,1456.1 945,1454.3 947,1452.2 949,1449.7 951,1445.9 953,1441.7 955,1437.3 957,1432.7 959,1428 961,1423.2 963,1418.4 965,1413.7 967,1408.9 969,1403.3 971,1396 973,1385.9 975,1372.5 977,1356.8 979,1340 981,1322.3 983,1303 985,1281.8 987,1258.7 989,1233.5 991,1207.9 993,1182.4 995,1157.3 997,1132.8 999,1110.2 1001,1093.3 1003,1080.3 1005,1070 1007,1062.3 1009,1056.1 1011,1051.3 1013,1048.9 1015,1050.4 1017,1060.4 1019,1087.8 1021,1120.8 1023,1146.5 1025,1170.3 1027,1192.8 1029,1211.8 1031,1227.5 1033,1241.3 1035,1253.6 1037,1264.6 1039,1274.5 1041,1283.3 1043,1291.2 1045,1298.5 1047,1305.4 1049,1312 1051,1318.7 1053,1326.3 1055,1334.7 1057,1342.9 1059,1350.1 1061,1355.9 1063,1360.9 1065,1365.5 1067,1369.9 1069,1374.1 1071,1378.1 1073,1381.6 1075,1384.8 1077,1387.8 1079,1390.6 1081,1393.2 1083,1395.4 1085,1397.4 1087,1399.2 1089,1400.8 1091,1402.3 1093,1403.7 1095,1405 1097,1406.3 1099,1407.5 1101,1408.7 1103,1409.8 1105,1410.9 1107,1411.9 1109,1412.9 1111,1413.7 1113,1414.4 1115,1415 1117,1415.5 1119,1416 1121,1416.4 1123,1416.9 1125,1417.4 1127,1418.1 1129,1418.9 1131,1419.9 1133,1421 1135,1422.2 1137,1423.6 1139,1425.1 1141,1426.7 1143,1428.3 1145,1430.1 1147,1432 1149,1434 1151,1436.2 1153,1437.6 1155,1438.7 1157,1439.6 1159,1440.4 1161,1441.2 1163,1441.9 1165,1442.5 1167,1443 1169,1443.5 1171,1444.1 1173,1444.6 1175,1445 1177,1445.4 1179,1445.8 1181,1446 1183,1446.2 1185,1446.3 1187,1446.3 1189,1446.4 1191,1446.4 1193,1446.5 1195,1446.5 1197,1446.5 1199,1446.6 1201,1446.6 1203,1446.6 1205,1446.7 1207,1446.8 1209,1447 1211,1447.4 1213,1448 1215,1448.6 1217,1449.3 1219,1450.1 1221,1450.8 1223,1451.4 1225,1452 1227,1452.5 1229,1453.1 1231,1453.6 1233,1454 1235,1454.3 1237,1454.5 1239,1454.4 1241,1454.2 1243,1453.9 1245,1453.6 1247,1453.2 1249,1452.8 1251,1452.5 1253,1452.2 1255,1452 1257,1451.8 1259,1451.7 1261,1451.5 1263,1451.4 1265,1451.2 1267,1451.1 1269,1451.1 1271,1451 1273,1451 1275,1451.2 1277,1451.5 1279,1451.9 1281,1452.5 1283,1453.1 1285,1453.8 1287,1454.5 1289,1455.2 1291,1455.9 1293,1456.6 1295,1457.5 1297,1458.3 1299,1459 1301,1459.6 1303,1460.1 1305,1460.6 1307,1461.1 1309,1461.7 1311,1462.2 1313,1462.6 1315,1463.1 1317,1463.5 1319,1464 1321,1464.4 1323,1464.7 1325,1465 1327,1465.3 1329,1465.5 1331,1465.7 1333,1465.9 1335,1466 1337,1466 1339,1466 1341,1465.9 1343,1465.8 1345,1465.7 1347,1465.6 1349,1465.5 1351,1465.3 1353,1465.1 1355,1464.9 1357,1464.7 1359,1464.5 1361,1464.3 1363,1464.1 1365,1463.9 1367,1463.7 1369,1463.5 1371,1463.3 1373,1463.1 1375,1463 1377,1462.9 1379,1462.8 1381,1462.6 1383,1462.5 1385,1462.4 1387,1462.2 1389,1462.1 1391,1462 1393,1461.8 1395,1461.7 1397,1461.6 1399,1461.4 1401,1461.3 1403,1461.1 1405,1461 1407,1460.8 1409,1460.7 1411,1460.5 1413,1460.4 1415,1460.2 1417,1460 1419,1459.8 1421,1459.6 1423,1459.4 1425,1459.2 1427,1458.9 1429,1458.6 1431,1458.3 1433,1458 1435,1457.7 1437,1457.4 1439,1457 1441,1456.7 1443,1456.4 1445,1456.1 1447,1455.8 1449,1455.5 1451,1455.3 1453,1455.1 1455,1454.9 1457,1454.8 1459,1454.7 1461,1454.7 1463,1454.7 1465,1454.8 1467,1454.8 1469,1454.9 1471,1455 1473,1455.2 1475,1455.3 1477,1455.5 1479,1455.6 1481,1455.8 1483,1456 1485,1456.2 1487,1456.4 1489,1456.6 1491,1456.8 1493,1457 1495,1457.2 1497,1457.3 1499,1457.5 1501,1457.7 1503,1457.8 1505,1458 1507,1458.1 1509,1458.3 1511,1458.5 1513,1458.6 1515,1458.8 1517,1459 1519,1459.1 1521,1459.3 1523,1459.4 1525,1459.5 1527,1459.6 1529,1459.7 1531,1459.7 1533,1459.7 1535,1459.6 1537,1459.5 1539,1459.3 1541,1459 1543,1458.8 1545,1458.5 1547,1458.2 1549,1457.9 1551,1457.6 1553,1457.4 1555,1457.1 1557,1456.9 1559,1456.8 1561,1456.7 1563,1456.7 1565,1456.9 1567,1457.2 1569,1457.6 1571,1458 1573,1458.4 1575,1458.8 1577,1459.2 1579,1459.5 1581,1459.7 1583,1459.7 1585,1459.6 1587,1459.5 1589,1459.3 1591,1459.1 1593,1458.8 1595,1458.5 1597,1458.3 1599,1458 1601,1457.7 1603,1457.4 1605,1457.2 1607,1457 1609,1456.8 1611,1456.7 1613,1456.7 1615,1456.7 1617,1456.8 1619,1456.9 1621,1457 1623,1457.1 1625,1457.3 1627,1457.5 1629,1457.7 1631,1457.8 1633,1458 1635,1458.2 1637,1458.3 1639,1458.5 1641,1458.6 1643,1458.7 1645,1458.8 1647,1458.8 1649,1458.9 1651,1459 1653,1459.1 1655,1459.1 1657,1459.2 1659,1459.3 1661,1459.3 1663,1459.4 1665,1459.4 1667,1459.5 1669,1459.5 1671,1459.6 1673,1459.6 1675,1459.6 1677,1459.7 1679,1459.7 1681,1459.7 1683,1459.7 1685,1459.7 1687,1459.6 1689,1459.4 1691,1459.3 1693,1459 1695,1458.8 1697,1458.5 1699,1458.2 1701,1457.8 1703,1457.2 1705,1456.4 1707,1455.4 1709,1454.3 1711,1453 1713,1451.7 1715,1450.3 1717,1448.8 1719,1447.3 1721,1445.7 1723,1443.7 1725,1441.3 1727,1438.6 1729,1436 1731,1433.5 1733,1431.4 1735,1429.8 1737,1428.9 1739,1428.9 1741,1429.6 1743,1431 1745,1432.8 1747,1434.8 1749,1436.7 1751,1438.3 1753,1439.5 1755,1440.2 1757,1440.8 1759,1441.3 1761,1441.7 1763,1442.1 1765,1442.5 1767,1442.9 1769,1443.2 1771,1443.4 1773,1443.6 1775,1443.8 1777,1443.9 1779,1444 1781,1444 1783,1444 1785,1444 1787,1444 1789,1444 1791,1444 1793,1444 1795,1444 1797,1444 1799,1443.9 1801,1443.9 1803,1443.9 1805,1443.9 1807,1443.8 1809,1443.8 1811,1443.7 1813,1443.7 1815,1443.6 1817,1443.6 1819,1443.5 1821,1443.4 1823,1443.3 1825,1443.2 1827,1443.1" fill="none" stroke="#000000" stroke-width="5.2" stroke-linejoin="round" stroke-linecap="butt"/>
<polyline points="297,1472 299,1472.2 301,1472.4 303,1472.6 305,1472.8 307,1473 309,1473.2 311,1473.4 313,1473.6 315,1473.8 317,1474 319,1474.2 321,1474.4 323,1474.6 325,1474.8 327,1475 329,1475.3 331,1475.5 333,1475.7 335,1475.9 337,1476 339,1476.2 341,1476.3 343,1476.4 345,1476.4 347,1476.4 349,1476.4 351,1476.4 353,1476.4 355,1476.4 357,1476.4 359,1476.4 361,1476.4 363,1476.4 365,1476.4 367,1476.4 369,1476.4 371,1476.4 373,1476.4 375,1476.4 377,1476.4 379,1476.4 381,1476.4 383,1476.4 385,1476.4 387,1476.4 389,1476.4 391,1476.4 393,1476.4 395,1476.4 397,1476.4 399,1476.4 401,1476.3 403,1476.2 405,1476.1 407,1475.9 409,1475.6 411,1475.4 413,1475.2 415,1474.9 417,1474.7 419,1474.4 421,1474.2 423,1474 425,1473.7 427,1473.5 429,1473.2 431,1473 433,1472.7 435,1472.5 437,1472.2 439,1471.9 441,1471.7 443,1471.4 445,1471.1 447,1470.9 449,1470.7 451,1470.4 453,1470.2 455,1469.9 457,1469.7 459,1469.4 461,1469.1 463,1468.8 465,1468.4 467,1468 469,1467.6 471,1467.2 473,1466.7 475,1466.2 477,1465.7 479,1465.1 481,1464.5 483,1463.8 485,1463.1 487,1462.3 489,1461.5 491,1460.6 493,1459.6 495,1458.6 497,1457.4 499,1456.1 501,1454.5 503,1452.9 505,1451.1 507,1449.1 509,1446.8 511,1443.8 513,1439.4 515,1433.5 517,1426.3 519,1417.9 521,1407.5 523,1394.7 525,1379 527,1360 529,1341.6 531,1325.9 533,1311.5 535,1297.6 537,1284.4 539,1271.7 541,1260.2 543,1251.5 545,1245.2 547,1242.3 549,1244.1 551,1249.5 553,1258.4 555,1269.5 557,1279.1 559,1288.3 561,1299 563,1311.5 565,1324.2 567,1336.3 569,1347.9 571,1358.7 573,1368.2 575,1376.7 577,1384.3 579,1391.3 581,1397.7 583,1403.7 585,1409.2 587,1414 589,1418.3 591,1422.3 593,1426 595,1429.3 597,1432.2 599,1434.7 601,1436.9 603,1439 605,1440.9 607,1442.6 609,1444.2 611,1445.6 613,1447 615,1448.2 617,1449.3 619,1450.4 621,1451.4 623,1452.4 625,1453.3 627,1454 629,1454.7 631,1455.3 633,1455.7 635,1456.1 637,1456.4 639,1456.6 641,1456.8 643,1457 645,1456.9 647,1456.5 649,1455.8 651,1454.7 653,1453.5 655,1452 657,1450.4 659,1448.9 661,1447.3 663,1445.8 665,1444.2 667,1442.5 669,1440.5 671,1438.2 673,1435.3 675,1430.9 677,1425 679,1418.6 681,1412.7 683,1407.7 685,1402.9 687,1398.4 689,1394.8 691,1392.7 693,1392.4 695,1393.4 697,1395.2 699,1397.7 701,1400.5 703,1403.5 705,1406.8 707,1410.9 709,1415.8 711,1420.9 713,1425.8 715,1430.1 717,1433.5 719,1436.5 721,1439.4 723,1442.1 725,1444.5 727,1446.8 729,1448.9 731,1450.7 733,1452.3 735,1453.6 737,1454.9 739,1456.2 741,1457.4 743,1458.4 745,1459.4 747,1460.1 749,1460.6 751,1460.9 753,1461 755,1461 757,1461 759,1461 761,1461 763,1461 765,1461 767,1461 769,1461 771,1461 773,1461 775,1461 777,1461 779,1461 781,1461 783,1461 785,1461 787,1461 789,1461 791,1461 793,1461 795,1461 797,1461 799,1461 801,1460.7 803,1459.8 805,1458.3 807,1456.4 809,1454.5 811,1452.8 813,1451.3 815,1449.9 817,1448.5 819,1447.3 821,1446.4 823,1446.1 825,1446.5 827,1447.5 829,1449 831,1450.8 833,1452.6 835,1454.2 837,1455.7 839,1457.2 841,1458.7 843,1460.4 845,1462 847,1463.6 849,1465.2 851,1466.6 853,1467.9 855,1469 857,1470 859,1470.6 861,1471 863,1471.2 865,1471.3 867,1471.5 869,1471.6 871,1471.7 873,1471.8 875,1471.9 877,1472 879,1472 881,1472 883,1471.9 885,1471.7 887,1471.5 889,1471.2 891,1470.9 893,1470.5 895,1470.1 897,1469.7 899,1469.2 901,1468.8 903,1468.3 905,1467.9 907,1467.4 909,1467 911,1466.6 913,1466.2 915,1465.8 917,1465.5 919,1465.1 921,1464.7 923,1464.2 925,1463.8 927,1463.3 929,1462.8 931,1462.2 933,1461.5 935,1460.8 937,1460 939,1459 941,1457.7 943,1456.1 945,1454.3 947,1452.2 949,1449.7 951,1445.9 953,1441.7 955,1437.3 957,1432.7 959,1428 961,1423.2 963,1418.4 965,1413.7 967,1408.9 969,1403.3 971,1396 973,1385.9 975,1372.5 977,1356.8 979,1340 981,1322.3 983,1303 985,1281.8 987,1258.7 989,1233.5 991,1207.9 993,1182.4 995,1157.4 997,1133.5 999,1110.9 1001,1089.9 1003,1070.5 1005,1054.5 1007,1042.7 1009,1033 1011,1026.5 1013,1024.6 1015,1027.6 1017,1034.9 1019,1049.2 1021,1080.1 1023,1113.1 1025,1140 1027,1164.4 1029,1187.4 1031,1207.5 1033,1223.8 1035,1238 1037,1250.6 1039,1262 1041,1272.1 1043,1281.2 1045,1289.3 1047,1296.7 1049,1303.7 1051,1310.4 1053,1317 1055,1324.3 1057,1332.5 1059,1340.9 1061,1348.4 1063,1354.5 1065,1359.7 1067,1364.4 1069,1368.9 1071,1373.1 1073,1377.1 1075,1380.8 1077,1384 1079,1387.1 1081,1390 1083,1392.6 1085,1394.9 1087,1396.9 1089,1398.8 1091,1400.4 1093,1401.9 1095,1403.4 1097,1404.7 1099,1406 1101,1407.2 1103,1408.4 1105,1409.5 1107,1410.6 1109,1411.7 1111,1412.7 1113,1413.5 1115,1414.3 1117,1414.9 1119,1415.4 1121,1415.8 1123,1416.3 1125,1416.7 1127,1417.3 1129,1417.9 1131,1418.8 1133,1419.8 1135,1421 1137,1422.4 1139,1424 1141,1425.7 1143,1427.6 1145,1429.6 1147,1431.7 1149,1433.9 1151,1436.1 1153,1437.6 1155,1438.7 1157,1439.6 1159,1440.4 1161,1441.2 1163,1441.9 1165,1442.5 1167,1443 1169,1443.5 1171,1444.1 1173,1444.6 1175,1445 1177,1445.4 1179,1445.8 1181,1446 1183,1446.2 1185,1446.3 1187,1446.3 1189,1446.4 1191,1446.4 1193,1446.5 1195,1446.5 1197,1446.5 1199,1446.6 1201,1446.6 1203,1446.6 1205,1446.7 1207,1446.8 1209,1447 1211,1447.4 1213,1448 1215,1448.6 1217,1449.3 1219,1450.1 1221,1450.8 1223,1451.4 1225,1452 1227,1452.5 1229,1453.1 1231,1453.6 1233,1454 1235,1454.3 1237,1454.5 1239,1454.4 1241,1454.2 1243,1453.9 1245,1453.6 1247,1453.2 1249,1452.8 1251,1452.5 1253,1452.2 1255,1452 1257,1451.8 1259,1451.7 1261,1451.5 1263,1451.4 1265,1451.2 1267,1451.1 1269,1451.1 1271,1451 1273,1451 1275,1451.2 1277,1451.5 1279,1451.9 1281,1452.5 1283,1453.1 1285,1453.8 1287,1454.5 1289,1455.2 1291,1455.9 1293,1456.6 1295,1457.5 1297,1458.3 1299,1459 1301,1459.6 1303,1460.1 1305,1460.6 1307,1461.1 1309,1461.7 1311,1462.2 1313,1462.6 1315,1463.1 1317,1463.5 1319,1464 1321,1464.4 1323,1464.7 1325,1465 1327,1465.3 1329,1465.5 1331,1465.7 1333,1465.9 1335,1466 1337,1466 1339,1466 1341,1465.9 1343,1465.8 1345,1465.7 1347,1465.6 1349,1465.5 1351,1465.3 1353,1465.1 1355,1464.9 1357,1464.7 1359,1464.5 1361,1464.3 1363,1464.1 1365,1463.9 1367,1463.7 1369,1463.5 1371,1463.3 1373,1463.1 1375,1463 1377,1462.9 1379,1462.8 1381,1462.6 1383,1462.5 1385,1462.4 1387,1462.2 1389,1462.1 1391,1462 1393,1461.8 1395,1461.7 1397,1461.6 1399,1461.4 1401,1461.3 1403,1461.1 1405,1461 1407,1460.8 1409,1460.7 1411,1460.5 1413,1460.4 1415,1460.2 1417,1460 1419,1459.8 1421,1459.6 1423,1459.4 1425,1459.2 1427,1458.9 1429,1458.6 1431,1458.3 1433,1458 1435,1457.7 1437,1457.4 1439,1457 1441,1456.7 1443,1456.4 1445,1456.1 1447,1455.8 1449,1455.5 1451,1455.3 1453,1455.1 1455,1454.9 1457,1454.8 1459,1454.7 1461,1454.7 1463,1454.7 1465,1454.8 1467,1454.8 1469,1454.9 1471,1455 1473,1455.2 1475,1455.3 1477,1455.5 1479,1455.6 1481,1455.8 1483,1456 1485,1456.2 1487,1456.4 1489,1456.6 1491,1456.8 1493,1457 1495,1457.2 1497,1457.3 1499,1457.5 1501,1457.7 1503,1457.8 1505,1458 1507,1458.1 1509,1458.3 1511,1458.5 1513,1458.6 1515,1458.8 1517,1459 1519,1459.1 1521,1459.3 1523,1459.4 1525,1459.5 1527,1459.6 1529,1459.7 1531,1459.7 1533,1459.7 1535,1459.6 1537,1459.5 1539,1459.3 1541,1459 1543,1458.8 1545,1458.5 1547,1458.2 1549,1457.9 1551,1457.6 1553,1457.4 1555,1457.1 1557,1456.9 1559,1456.8 1561,1456.7 1563,1456.7 1565,1456.9 1567,1457.2 1569,1457.6 1571,1458 1573,1458.4 1575,1458.8 1577,1459.2 1579,1459.5 1581,1459.7 1583,1459.7 1585,1459.6 1587,1459.5 1589,1459.3 1591,1459.1 1593,1458.8 1595,1458.5 1597,1458.3 1599,1458 1601,1457.7 1603,1457.4 1605,1457.2 1607,1457 1609,1456.8 1611,1456.7 1613,1456.7 1615,1456.7 1617,1456.8 1619,1456.9 1621,1457 1623,1457.1 1625,1457.3 1627,1457.5 1629,1457.7 1631,1457.8 1633,1458 1635,1458.2 1637,1458.3 1639,1458.5 1641,1458.6 1643,1458.7 1645,1458.8 1647,1458.8 1649,1458.9 1651,1459 1653,1459.1 1655,1459.1 1657,1459.2 1659,1459.3 1661,1459.3 1663,1459.4 1665,1459.4 1667,1459.5 1669,1459.5 1671,1459.6 1673,1459.6 1675,1459.6 1677,1459.7 1679,1459.7 1681,1459.7 1683,1459.7 1685,1459.7 1687,1459.6 1689,1459.4 1691,1459.3 1693,1459 1695,1458.8 1697,1458.5 1699,1458.2 1701,1457.8 1703,1457.2 1705,1456.4 1707,1455.4 1709,1454.3 1711,1453 1713,1451.7 1715,1450.3 1717,1448.8 1719,1447.3 1721,1445.7 1723,1443.7 1725,1441.3 1727,1438.6 1729,1436 1731,1433.5 1733,1431.4 1735,1429.8 1737,1428.9 1739,1428.9 1741,1429.6 1743,1431 1745,1432.8 1747,1434.8 1749,1436.7 1751,1438.3 1753,1439.5 1755,1440.2 1757,1440.8 1759,1441.3 1761,1441.7 1763,1442.1 1765,1442.5 1767,1442.9 1769,1443.2 1771,1443.4 1773,1443.6 1775,1443.8 1777,1443.9 1779,1444 1781,1444 1783,1444 1785,1444 1787,1444 1789,1444 1791,1444 1793,1444 1795,1444 1797,1444 1799,1443.9 1801,1443.9 1803,1443.9 1805,1443.9 1807,1443.8 1809,1443.8 1811,1443.7 1813,1443.7 1815,1443.6 1817,1443.6 1819,1443.5 1821,1443.4 1823,1443.3 1825,1443.2 1827,1443.1" fill="none" stroke="#ff0000" stroke-width="5.2" stroke-linejoin="round" stroke-linecap="butt"/>
<polyline points="297,1470.3 299,1470.5 301,1470.7 303,1470.9 305,1471.1 307,1471.3 309,1471.5 311,1471.7 313,1471.9 315,1472.1 317,1472.3 319,1472.5 321,1472.7 323,1473 325,1473.2 327,1473.5 329,1473.8 331,1474 333,1474.3 335,1474.5 337,1474.7 339,1474.8 341,1474.9 343,1475 345,1475 347,1475 349,1475 351,1475 353,1475 355,1475 357,1475 359,1475 361,1475 363,1475 365,1475 367,1475 369,1475 371,1475 373,1475 375,1475 377,1475 379,1475 381,1475 383,1475 385,1475 387,1475 389,1475 391,1475 393,1475 395,1475 397,1475 399,1475 401,1474.9 403,1474.8 405,1474.5 407,1474.2 409,1473.9 411,1473.6 413,1473.3 415,1473.1 417,1472.8 419,1472.6 421,1472.3 423,1472.1 425,1471.9 427,1471.7 429,1471.4 431,1471.2 433,1471 435,1470.7 437,1470.5 439,1470.3 441,1470.1 443,1469.8 445,1469.6 447,1469.4 449,1469.2 451,1469 453,1468.8 455,1468.6 457,1468.4 459,1468.2 461,1467.9 463,1467.6 465,1467.3 467,1467 469,1466.7 471,1466.3 473,1465.9 475,1465.4 477,1464.7 479,1463.9 481,1463.1 483,1462.3 485,1461.5 487,1460.7 489,1459.8 491,1459 493,1458 495,1457 497,1455.8 499,1454.5 501,1453 503,1451.4 505,1449.7 507,1447.8 509,1445.6 511,1442.7 513,1438.7 515,1433.4 517,1426.9 519,1419.3 521,1409.8 523,1398.1 525,1383.9 527,1366.3 529,1348.7 531,1332.9 533,1318.1 535,1303.8 537,1290 539,1276.8 541,1264.8 543,1255.4 545,1247.8 547,1243.3 549,1243.2 551,1246.5 553,1253.1 555,1261.7 557,1269.3 559,1276.9 561,1286.1 563,1297 565,1308.5 567,1320.1 569,1331.7 571,1342.9 573,1353.3 575,1362.8 577,1371.5 579,1379.3 581,1386.4 583,1393 585,1399.1 587,1404.6 589,1409.6 591,1414.3 593,1418.7 595,1422.8 597,1426.3 599,1429.2 601,1431.8 603,1434.1 605,1436.3 607,1438.3 609,1440.2 611,1441.9 613,1443.5 615,1444.9 617,1446.3 619,1447.5 621,1448.7 623,1449.8 625,1450.8 627,1451.8 629,1452.6 631,1453.2 633,1453.7 635,1454.1 637,1454.5 639,1454.8 641,1455.1 643,1455.2 645,1455.2 647,1454.9 649,1454.3 651,1453.4 653,1452.2 655,1450.9 657,1449.5 659,1448 661,1446.5 663,1444.9 665,1443 667,1440.9 669,1438.4 671,1435.6 673,1432.3 675,1427.9 677,1422.3 679,1416.3 681,1410.6 683,1405.7 685,1401 687,1396.8 689,1393.3 691,1391.1 693,1390.6 695,1391.3 697,1392.9 699,1395.1 701,1397.8 703,1400.6 705,1403.7 707,1407.6 709,1412.3 711,1417.3 713,1422.1 715,1426.4 717,1430.1 719,1433.4 721,1436.5 723,1439.2 725,1441.7 727,1443.9 729,1446 731,1448 733,1449.8 735,1451.5 737,1452.9 739,1454.2 741,1455.4 743,1456.4 745,1457.4 747,1458.1 749,1458.7 751,1459 753,1459.1 755,1459.2 757,1459.2 759,1459.2 761,1459.2 763,1459.2 765,1459.2 767,1459.2 769,1459.2 771,1459.2 773,1459.2 775,1459.2 777,1459.2 779,1459.2 781,1459.2 783,1459.2 785,1459.2 787,1459.2 789,1459.2 791,1459.2 793,1459.2 795,1459.2 797,1459.2 799,1459.2 801,1458.9 803,1458.1 805,1456.7 807,1454.9 809,1453 811,1451.3 813,1449.9 815,1448.5 817,1447.1 819,1445.9 821,1445 823,1444.7 825,1445.1 827,1446.1 829,1447.5 831,1449.2 833,1450.9 835,1452.6 837,1454.2 839,1455.7 841,1457.2 843,1458.8 845,1460.4 847,1462 849,1463.6 851,1465.1 853,1466.4 855,1467.6 857,1468.5 859,1469.2 861,1469.6 863,1469.8 865,1469.9 867,1470.1 869,1470.2 871,1470.3 873,1470.4 875,1470.5 877,1470.6 879,1470.6 881,1470.6 883,1470.5 885,1470.3 887,1470.1 889,1469.8 891,1469.5 893,1469.1 895,1468.6 897,1468.2 899,1467.7 901,1467.2 903,1466.8 905,1466.3 907,1465.8 909,1465.4 911,1465 913,1464.6 915,1464.2 917,1463.8 919,1463.4 921,1463 923,1462.6 925,1462.2 927,1461.7 929,1461.1 931,1460.5 933,1459.9 935,1459.2 937,1458.4 939,1457.4 941,1456.1 943,1454.6 945,1452.9 947,1450.9 949,1448.5 951,1445.1 953,1441.8 955,1438.2 957,1434.4 959,1430.4 961,1426.2 963,1421.7 965,1417.2 967,1412.6 969,1407.5 971,1401.6 973,1394 975,1383.9 977,1371.3 979,1356.9 981,1341.4 983,1324.7 985,1306.2 987,1286.1 989,1264.9 991,1242.6 993,1219.3 995,1195.5 997,1171.5 999,1147.9 1001,1125.1 1003,1103.1 1005,1081.4 1007,1062.8 1009,1050.8 1011,1042.6 1013,1038.2 1015,1038.4 1017,1041.9 1019,1048.1 1021,1059 1023,1081.2 1025,1106.3 1027,1129.3 1029,1151.4 1031,1173.4 1033,1194.4 1035,1212.3 1037,1227.1 1039,1240 1041,1251.7 1043,1262.5 1045,1272.4 1047,1281.6 1049,1290 1051,1297.7 1053,1304.7 1055,1311.2 1057,1317.6 1059,1324.7 1061,1332.7 1063,1340.8 1065,1348 1067,1353.9 1069,1359 1071,1363.7 1073,1368.1 1075,1372.3 1077,1376.2 1079,1379.7 1081,1382.9 1083,1385.8 1085,1388.5 1087,1391 1089,1393.3 1091,1395.2 1093,1396.9 1095,1398.5 1097,1399.9 1099,1401.2 1101,1402.4 1103,1403.6 1105,1404.8 1107,1405.9 1109,1406.9 1111,1408 1113,1408.9 1115,1409.9 1117,1410.8 1119,1411.6 1121,1412.4 1123,1413 1125,1413.7 1127,1414.3 1129,1415.1 1131,1415.9 1133,1416.9 1135,1418 1137,1419.3 1139,1420.8 1141,1422.3 1143,1424.1 1145,1425.9 1147,1427.8 1149,1429.9 1151,1432 1153,1433.6 1155,1434.8 1157,1435.8 1159,1436.8 1161,1437.7 1163,1438.4 1165,1439.1 1167,1439.7 1169,1440.3 1171,1440.9 1173,1441.4 1175,1441.9 1177,1442.3 1179,1442.7 1181,1442.9 1183,1443.1 1185,1443.1 1187,1443.2 1189,1443.1 1191,1443.1 1193,1443 1195,1443 1197,1442.9 1199,1442.9 1201,1442.9 1203,1443 1205,1443.1 1207,1443.3 1209,1443.6 1211,1444 1213,1444.6 1215,1445.2 1217,1445.9 1219,1446.7 1221,1447.4 1223,1448.1 1225,1448.8 1227,1449.4 1229,1450 1231,1450.5 1233,1450.8 1235,1451.1 1237,1451.1 1239,1451.1 1241,1450.9 1243,1450.6 1245,1450.3 1247,1450 1249,1449.7 1251,1449.4 1253,1449.1 1255,1448.9 1257,1448.8 1259,1448.7 1261,1448.5 1263,1448.4 1265,1448.3 1267,1448.3 1269,1448.2 1271,1448.2 1273,1448.2 1275,1448.3 1277,1448.7 1279,1449.2 1281,1449.8 1283,1450.5 1285,1451.3 1287,1452.1 1289,1452.8 1291,1453.5 1293,1454.3 1295,1455.1 1297,1455.9 1299,1456.6 1301,1457.2 1303,1457.7 1305,1458.3 1307,1458.8 1309,1459.4 1311,1459.9 1313,1460.4 1315,1460.9 1317,1461.4 1319,1461.8 1321,1462.2 1323,1462.6 1325,1463 1327,1463.3 1329,1463.5 1331,1463.7 1333,1463.9 1335,1464 1337,1464 1339,1464 1341,1463.9 1343,1463.8 1345,1463.7 1347,1463.6 1349,1463.4 1351,1463.2 1353,1463 1355,1462.8 1357,1462.6 1359,1462.4 1361,1462.1 1363,1461.9 1365,1461.7 1367,1461.5 1369,1461.3 1371,1461.2 1373,1461 1375,1460.9 1377,1460.8 1379,1460.7 1381,1460.6 1383,1460.5 1385,1460.3 1387,1460.1 1389,1459.9 1391,1459.7 1393,1459.5 1395,1459.3 1397,1459.1 1399,1458.9 1401,1458.7 1403,1458.5 1405,1458.3 1407,1458.2 1409,1458.1 1411,1458 1413,1458 1415,1457.9 1417,1457.9 1419,1457.8 1421,1457.6 1423,1457.4 1425,1457.2 1427,1456.9 1429,1456.6 1431,1456.3 1433,1455.9 1435,1455.5 1437,1455.2 1439,1454.8 1441,1454.4 1443,1454.1 1445,1453.7 1447,1453.3 1449,1452.9 1451,1452.6 1453,1452.3 1455,1452 1457,1451.8 1459,1451.7 1461,1451.7 1463,1451.7 1465,1451.7 1467,1451.8 1469,1451.8 1471,1451.9 1473,1452 1475,1452.1 1477,1452.3 1479,1452.4 1481,1452.6 1483,1452.7 1485,1452.9 1487,1453.1 1489,1453.4 1491,1453.6 1493,1453.9 1495,1454.1 1497,1454.3 1499,1454.5 1501,1454.6 1503,1454.7 1505,1454.7 1507,1454.7 1509,1454.6 1511,1454.5 1513,1454.4 1515,1454.4 1517,1454.3 1519,1454.3 1521,1454.3 1523,1454.4 1525,1454.5 1527,1454.6 1529,1454.6 1531,1454.7 1533,1454.7 1535,1454.7 1537,1454.6 1539,1454.5 1541,1454.3 1543,1454.1 1545,1453.9 1547,1453.7 1549,1453.6 1551,1453.4 1553,1453.2 1555,1453.1 1557,1453.1 1559,1453.1 1561,1453.2 1563,1453.4 1565,1453.8 1567,1454.2 1569,1454.7 1571,1455.2 1573,1455.7 1575,1456.1 1577,1456.5 1579,1456.9 1581,1457.1 1583,1457.2 1585,1457.2 1587,1457.2 1589,1457.1 1591,1457 1593,1456.8 1595,1456.5 1597,1456.2 1599,1455.8 1601,1455.4 1603,1455 1605,1454.7 1607,1454.3 1609,1454.1 1611,1453.9 1613,1453.9 1615,1453.9 1617,1453.9 1619,1454 1621,1454.1 1623,1454.2 1625,1454.3 1627,1454.5 1629,1454.6 1631,1454.8 1633,1454.9 1635,1455.1 1637,1455.2 1639,1455.3 1641,1455.4 1643,1455.5 1645,1455.6 1647,1455.7 1649,1455.9 1651,1456.1 1653,1456.3 1655,1456.6 1657,1456.8 1659,1457 1661,1457.1 1663,1457.2 1665,1457.3 1667,1457.3 1669,1457.3 1671,1457.4 1673,1457.4 1675,1457.4 1677,1457.5 1679,1457.5 1681,1457.5 1683,1457.5 1685,1457.4 1687,1457.4 1689,1457.3 1691,1457.1 1693,1456.9 1695,1456.7 1697,1456.4 1699,1455.9 1701,1455.3 1703,1454.6 1705,1453.7 1707,1452.6 1709,1451.4 1711,1450.1 1713,1448.6 1715,1447.2 1717,1445.6 1719,1444.1 1721,1442.5 1723,1440.5 1725,1438.2 1727,1435.7 1729,1433.2 1731,1430.9 1733,1428.9 1735,1427.5 1737,1426.7 1739,1426.6 1741,1427.4 1743,1428.7 1745,1430.5 1747,1432.4 1749,1434.2 1751,1435.8 1753,1437 1755,1437.6 1757,1438.1 1759,1438.6 1761,1439 1763,1439.4 1765,1439.8 1767,1440.1 1769,1440.4 1771,1440.7 1773,1440.9 1775,1441 1777,1441.1 1779,1441.2 1781,1441.2 1783,1441.2 1785,1441.2 1787,1441.2 1789,1441.2 1791,1441.2 1793,1441.2 1795,1441.1 1797,1441.1 1799,1441.1 1801,1441 1803,1441 1805,1440.9 1807,1440.9 1809,1440.8 1811,1440.7 1813,1440.7 1815,1440.6 1817,1440.5 1819,1440.3 1821,1440.2 1823,1440.1 1825,1439.9 1827,1439.8" fill="none" stroke="#00ff00" stroke-width="5.2" stroke-linejoin="round" stroke-linecap="butt"/>
<polyline points="297,1468.2 299,1468.4 301,1468.6 303,1468.8 305,1469 307,1469.2 309,1469.4 311,1469.6 313,1469.8 315,1470 317,1470.2 319,1470.5 321,1470.7 323,1471 325,1471.3 327,1471.6 329,1471.9 331,1472.2 333,1472.5 335,1472.8 337,1473 339,1473.2 341,1473.2 343,1473.3 345,1473.3 347,1473.3 349,1473.3 351,1473.3 353,1473.3 355,1473.3 357,1473.3 359,1473.3 361,1473.3 363,1473.3 365,1473.3 367,1473.3 369,1473.3 371,1473.3 373,1473.3 375,1473.3 377,1473.3 379,1473.3 381,1473.3 383,1473.3 385,1473.3 387,1473.3 389,1473.3 391,1473.3 393,1473.3 395,1473.3 397,1473.3 399,1473.3 401,1473.2 403,1472.9 405,1472.5 407,1472.1 409,1471.7 411,1471.3 413,1471 415,1470.8 417,1470.5 419,1470.3 421,1470 423,1469.8 425,1469.6 427,1469.4 429,1469.2 431,1469 433,1468.8 435,1468.6 437,1468.4 439,1468.2 441,1468 443,1467.9 445,1467.7 447,1467.6 449,1467.4 451,1467.3 453,1467.1 455,1467 457,1466.8 459,1466.6 461,1466.4 463,1466.2 465,1466 467,1465.8 469,1465.5 471,1465.2 473,1464.9 475,1464.4 477,1463.6 479,1462.5 481,1461.4 483,1460.3 485,1459.5 487,1458.6 489,1457.8 491,1457 493,1456 495,1455 497,1453.8 499,1452.6 501,1451.2 503,1449.6 505,1448 507,1446.1 509,1444 511,1441.3 513,1437.8 515,1433.1 517,1427.6 519,1421 521,1412.8 523,1402.5 525,1389.9 527,1374.1 529,1357.5 531,1341.5 533,1326.3 535,1311.5 537,1297.1 539,1283.3 541,1270.7 543,1260.2 545,1251 547,1244.6 549,1242.2 551,1242.9 553,1246.6 555,1252.1 557,1257.1 559,1262.7 561,1269.9 563,1278.9 565,1289 567,1300 569,1311.5 571,1323.2 573,1334.6 575,1345.5 577,1355.6 579,1364.4 581,1372.3 583,1379.7 585,1386.6 587,1392.9 589,1398.7 591,1404.3 593,1409.7 595,1414.6 597,1418.8 599,1422.3 601,1425.4 603,1428.1 605,1430.6 607,1433 609,1435.2 611,1437.2 613,1439.1 615,1440.9 617,1442.5 619,1443.9 621,1445.3 623,1446.6 625,1447.8 627,1448.9 629,1449.8 631,1450.6 633,1451.2 635,1451.7 637,1452.1 639,1452.5 641,1452.8 643,1453 645,1453.1 647,1452.9 649,1452.5 651,1451.7 653,1450.7 655,1449.6 657,1448.3 659,1446.9 661,1445.4 663,1443.7 665,1441.5 667,1438.9 669,1435.8 671,1432.4 673,1428.6 675,1424.1 677,1418.9 679,1413.3 681,1407.9 683,1403.1 685,1398.7 687,1394.7 689,1391.5 691,1389.2 693,1388.4 695,1388.8 697,1390 699,1392 701,1394.3 703,1396.8 705,1399.7 707,1403.4 709,1407.9 711,1412.8 713,1417.5 715,1421.9 717,1425.9 719,1429.6 721,1432.9 723,1435.7 725,1438.1 727,1440.3 729,1442.5 731,1444.6 733,1446.8 735,1448.8 737,1450.4 739,1451.7 741,1452.9 743,1453.9 745,1454.9 747,1455.6 749,1456.2 751,1456.6 753,1456.8 755,1456.9 757,1456.9 759,1456.9 761,1457 763,1457 765,1457 767,1457 769,1457 771,1457 773,1457 775,1457 777,1457 779,1457 781,1457 783,1457 785,1457 787,1457 789,1457 791,1457 793,1457 795,1457 797,1456.9 799,1456.9 801,1456.7 803,1455.9 805,1454.6 807,1452.9 809,1451.2 811,1449.6 813,1448.2 815,1446.8 817,1445.4 819,1444.2 821,1443.3 823,1443 825,1443.3 827,1444.2 829,1445.5 831,1447.2 833,1448.9 835,1450.6 837,1452.2 839,1453.8 841,1455.4 843,1456.9 845,1458.5 847,1460.1 849,1461.6 851,1463.2 853,1464.5 855,1465.7 857,1466.7 859,1467.4 861,1467.8 863,1468 865,1468.2 867,1468.4 869,1468.5 871,1468.6 873,1468.7 875,1468.8 877,1468.8 879,1468.8 881,1468.8 883,1468.7 885,1468.6 887,1468.3 889,1468 891,1467.6 893,1467.2 895,1466.8 897,1466.3 899,1465.8 901,1465.3 903,1464.8 905,1464.3 907,1463.9 909,1463.4 911,1463 913,1462.6 915,1462.2 917,1461.8 919,1461.4 921,1461 923,1460.6 925,1460.1 927,1459.6 929,1459.1 931,1458.5 933,1457.9 935,1457.2 937,1456.4 939,1455.4 941,1454.2 943,1452.7 945,1451.1 947,1449.2 949,1447 951,1444.1 953,1441.6 955,1438.9 957,1435.9 959,1432.5 961,1428.9 963,1425 965,1421 967,1416.7 969,1412 971,1406.7 973,1400.5 975,1393 977,1383.5 979,1372 981,1359 983,1344.9 985,1329.7 987,1312.4 989,1293.4 991,1273.7 993,1253.8 995,1233.4 997,1212.1 999,1189.8 1001,1166.9 1003,1144.2 1005,1121.8 1007,1101.2 1009,1082.9 1011,1069.5 1013,1063.2 1015,1059.9 1017,1058.7 1019,1059.5 1021,1061.7 1023,1066.5 1025,1078.7 1027,1098.1 1029,1117.3 1031,1136.4 1033,1155.9 1035,1176.2 1037,1195.8 1039,1212.5 1041,1226.4 1043,1238.6 1045,1249.6 1047,1259.9 1049,1269.8 1051,1279.3 1053,1288.4 1055,1296.6 1057,1303.8 1059,1310.2 1061,1316.3 1063,1323 1065,1330.6 1067,1338.4 1069,1345.5 1071,1351.5 1073,1356.7 1075,1361.5 1077,1365.9 1079,1370.1 1081,1374 1083,1377.5 1085,1380.7 1087,1383.6 1089,1386.2 1091,1388.6 1093,1390.8 1095,1392.7 1097,1394.4 1099,1395.9 1101,1397.2 1103,1398.4 1105,1399.5 1107,1400.6 1109,1401.7 1111,1402.7 1113,1403.7 1115,1404.6 1117,1405.5 1119,1406.4 1121,1407.4 1123,1408.3 1125,1409.2 1127,1410.2 1129,1411.1 1131,1412.1 1133,1413.2 1135,1414.3 1137,1415.6 1139,1416.9 1141,1418.4 1143,1420 1145,1421.7 1147,1423.5 1149,1425.3 1151,1427 1153,1428.5 1155,1429.8 1157,1431.1 1159,1432.2 1161,1433.3 1163,1434.2 1165,1434.9 1167,1435.6 1169,1436.3 1171,1436.9 1173,1437.5 1175,1438 1177,1438.4 1179,1438.8 1181,1439.1 1183,1439.2 1185,1439.2 1187,1439.2 1189,1439.1 1191,1438.9 1193,1438.8 1195,1438.6 1197,1438.5 1199,1438.4 1201,1438.4 1203,1438.4 1205,1438.6 1207,1438.8 1209,1439.2 1211,1439.7 1213,1440.3 1215,1441 1217,1441.7 1219,1442.4 1221,1443.2 1223,1444 1225,1444.8 1227,1445.5 1229,1446.1 1231,1446.6 1233,1446.8 1235,1446.9 1237,1447 1239,1446.9 1241,1446.7 1243,1446.5 1245,1446.2 1247,1445.9 1249,1445.7 1251,1445.4 1253,1445.2 1255,1445.1 1257,1445 1259,1444.9 1261,1444.8 1263,1444.8 1265,1444.7 1267,1444.6 1269,1444.6 1271,1444.6 1273,1444.6 1275,1444.8 1277,1445.2 1279,1445.8 1281,1446.5 1283,1447.3 1285,1448.1 1287,1449 1289,1449.8 1291,1450.5 1293,1451.3 1295,1452.1 1297,1452.9 1299,1453.6 1301,1454.2 1303,1454.8 1305,1455.4 1307,1455.9 1309,1456.5 1311,1457.1 1313,1457.6 1315,1458.1 1317,1458.7 1319,1459.1 1321,1459.6 1323,1460 1325,1460.4 1327,1460.7 1329,1461 1331,1461.2 1333,1461.4 1335,1461.5 1337,1461.5 1339,1461.5 1341,1461.4 1343,1461.3 1345,1461.2 1347,1461 1349,1460.8 1351,1460.6 1353,1460.4 1355,1460.2 1357,1459.9 1359,1459.7 1361,1459.5 1363,1459.2 1365,1459 1367,1458.8 1369,1458.6 1371,1458.5 1373,1458.4 1375,1458.3 1377,1458.2 1379,1458.2 1381,1458.1 1383,1458 1385,1457.8 1387,1457.5 1389,1457.2 1391,1456.9 1393,1456.6 1395,1456.3 1397,1455.9 1399,1455.6 1401,1455.4 1403,1455.2 1405,1455 1407,1454.9 1409,1454.9 1411,1454.9 1413,1455 1415,1455.1 1417,1455.2 1419,1455.2 1421,1455.1 1423,1455 1425,1454.7 1427,1454.4 1429,1454.1 1431,1453.7 1433,1453.3 1435,1452.9 1437,1452.4 1439,1452 1441,1451.6 1443,1451.2 1445,1450.7 1447,1450.2 1449,1449.7 1451,1449.2 1453,1448.8 1455,1448.4 1457,1448.1 1459,1448 1461,1447.9 1463,1447.9 1465,1447.9 1467,1447.9 1469,1448 1471,1448 1473,1448.1 1475,1448.2 1477,1448.3 1479,1448.4 1481,1448.5 1483,1448.6 1485,1448.8 1487,1449.1 1489,1449.4 1491,1449.7 1493,1450 1495,1450.2 1497,1450.5 1499,1450.7 1501,1450.8 1503,1450.8 1505,1450.7 1507,1450.4 1509,1450 1511,1449.6 1513,1449.2 1515,1448.8 1517,1448.4 1519,1448.2 1521,1448.1 1523,1448.2 1525,1448.2 1527,1448.3 1529,1448.4 1531,1448.4 1533,1448.5 1535,1448.5 1537,1448.5 1539,1448.4 1541,1448.4 1543,1448.3 1545,1448.2 1547,1448.2 1549,1448.1 1551,1448.1 1553,1448.1 1555,1448.2 1557,1448.3 1559,1448.5 1561,1448.9 1563,1449.3 1565,1449.9 1567,1450.5 1569,1451.1 1571,1451.7 1573,1452.2 1575,1452.7 1577,1453.2 1579,1453.6 1581,1453.9 1583,1454.1 1585,1454.3 1587,1454.4 1589,1454.4 1591,1454.3 1593,1454.2 1595,1453.9 1597,1453.6 1599,1453.1 1601,1452.6 1603,1452 1605,1451.5 1607,1451 1609,1450.7 1611,1450.4 1613,1450.3 1615,1450.3 1617,1450.4 1619,1450.4 1621,1450.5 1623,1450.6 1625,1450.6 1627,1450.7 1629,1450.8 1631,1450.9 1633,1451 1635,1451.1 1637,1451.2 1639,1451.3 1641,1451.4 1643,1451.4 1645,1451.5 1647,1451.8 1649,1452.1 1651,1452.5 1653,1452.9 1655,1453.4 1657,1453.8 1659,1454.1 1661,1454.4 1663,1454.5 1665,1454.6 1667,1454.6 1669,1454.6 1671,1454.6 1673,1454.7 1675,1454.7 1677,1454.7 1679,1454.7 1681,1454.7 1683,1454.7 1685,1454.7 1687,1454.6 1689,1454.6 1691,1454.5 1693,1454.3 1695,1454.1 1697,1453.7 1699,1453.1 1701,1452.3 1703,1451.4 1705,1450.2 1707,1449 1709,1447.8 1711,1446.4 1713,1444.8 1715,1443.3 1717,1441.7 1719,1440.1 1721,1438.4 1723,1436.5 1725,1434.4 1727,1432.1 1729,1429.8 1731,1427.7 1733,1425.9 1735,1424.6 1737,1423.9 1739,1423.9 1741,1424.6 1743,1425.9 1745,1427.5 1747,1429.3 1749,1431.1 1751,1432.6 1753,1433.7 1755,1434.4 1757,1434.8 1759,1435.3 1761,1435.7 1763,1436 1765,1436.4 1767,1436.7 1769,1437 1771,1437.2 1773,1437.4 1775,1437.5 1777,1437.6 1779,1437.7 1781,1437.7 1783,1437.7 1785,1437.7 1787,1437.7 1789,1437.7 1791,1437.6 1793,1437.6 1795,1437.6 1797,1437.5 1799,1437.5 1801,1437.4 1803,1437.4 1805,1437.3 1807,1437.2 1809,1437.1 1811,1437 1813,1436.9 1815,1436.7 1817,1436.6 1819,1436.4 1821,1436.2 1823,1436 1825,1435.8 1827,1435.6" fill="none" stroke="#0000ff" stroke-width="5.2" stroke-linejoin="round" stroke-linecap="butt"/>
<polyline points="297,1466.2 299,1466.4 301,1466.6 303,1466.8 305,1467 307,1467.2 309,1467.4 311,1467.6 313,1467.8 315,1468.1 317,1468.3 319,1468.5 321,1468.8 323,1469.1 325,1469.5 327,1469.8 329,1470.2 331,1470.6 333,1470.9 335,1471.2 337,1471.5 339,1471.6 341,1471.7 343,1471.7 345,1471.7 347,1471.7 349,1471.7 351,1471.7 353,1471.7 355,1471.7 357,1471.7 359,1471.7 361,1471.7 363,1471.7 365,1471.7 367,1471.7 369,1471.7 371,1471.7 373,1471.7 375,1471.7 377,1471.7 379,1471.7 381,1471.7 383,1471.7 385,1471.7 387,1471.7 389,1471.7 391,1471.7 393,1471.7 395,1471.7 397,1471.7 399,1471.7 401,1471.6 403,1471.2 405,1470.7 407,1470.1 409,1469.6 411,1469.2 413,1468.9 415,1468.6 417,1468.4 419,1468.1 421,1467.9 423,1467.7 425,1467.5 427,1467.3 429,1467.1 431,1466.9 433,1466.8 435,1466.6 437,1466.5 439,1466.3 441,1466.2 443,1466.1 445,1466 447,1465.9 449,1465.8 451,1465.7 453,1465.6 455,1465.5 457,1465.3 459,1465.2 461,1465.1 463,1464.9 465,1464.8 467,1464.6 469,1464.4 471,1464.2 473,1463.9 475,1463.4 477,1462.5 479,1461.2 481,1459.8 483,1458.6 485,1457.6 487,1456.8 489,1455.9 491,1455.1 493,1454.2 495,1453.2 497,1452 499,1450.8 501,1449.5 503,1448 505,1446.4 507,1444.6 509,1442.6 511,1440.1 513,1436.9 515,1433 517,1428.2 519,1422.6 521,1415.5 523,1406.5 525,1395.4 527,1381.3 529,1365.6 531,1349.4 533,1333.9 535,1318.6 537,1303.5 539,1289.2 541,1276.1 543,1264.6 545,1254 547,1245.7 549,1241.2 551,1239.5 553,1240.6 555,1243.2 557,1245.9 559,1249.7 561,1255 563,1262.2 565,1271.1 567,1281.4 569,1292.9 571,1305.1 573,1317.5 575,1329.6 577,1340.9 579,1350.6 581,1359.3 583,1367.4 585,1375 587,1382.1 589,1388.7 591,1395.1 593,1401.4 595,1407.1 597,1412 599,1416 601,1419.5 603,1422.6 605,1425.4 607,1428.1 609,1430.6 611,1432.9 613,1435.1 615,1437.1 617,1439 619,1440.6 621,1442.2 623,1443.7 625,1445 627,1446.3 629,1447.4 631,1448.2 633,1448.9 635,1449.5 637,1450 639,1450.4 641,1450.8 643,1451 645,1451.2 647,1451.1 649,1450.8 651,1450.2 653,1449.3 655,1448.3 657,1447.1 659,1445.8 661,1444.4 663,1442.7 665,1440.2 667,1437 669,1433.4 671,1429.4 673,1425.2 675,1420.7 677,1415.8 679,1410.6 681,1405.5 683,1400.8 685,1396.5 687,1392.8 689,1389.8 691,1387.5 693,1386.3 695,1386.4 697,1387.4 699,1389 701,1391.1 703,1393.4 705,1396.1 707,1399.6 709,1403.9 711,1408.6 713,1413.2 715,1417.6 717,1422 719,1426 721,1429.5 723,1432.4 725,1434.8 727,1437 729,1439.2 731,1441.5 733,1444 735,1446.3 737,1448.1 739,1449.4 741,1450.6 743,1451.6 745,1452.6 747,1453.3 749,1454 751,1454.4 753,1454.7 755,1454.8 757,1454.9 759,1454.9 761,1454.9 763,1454.9 765,1454.9 767,1454.9 769,1454.9 771,1454.9 773,1454.9 775,1454.9 777,1454.9 779,1454.9 781,1454.9 783,1454.9 785,1454.9 787,1454.9 789,1454.9 791,1454.9 793,1454.9 795,1454.9 797,1454.9 799,1454.9 801,1454.7 803,1453.9 805,1452.7 807,1451.1 809,1449.4 811,1447.9 813,1446.6 815,1445.2 817,1443.8 819,1442.6 821,1441.7 823,1441.4 825,1441.7 827,1442.5 829,1443.8 831,1445.3 833,1447 835,1448.8 837,1450.4 839,1452.1 841,1453.7 843,1455.1 845,1456.7 847,1458.3 849,1459.9 851,1461.4 853,1462.8 855,1464.1 857,1465.1 859,1465.8 861,1466.2 863,1466.4 865,1466.6 867,1466.7 869,1466.9 871,1467 873,1467.1 875,1467.2 877,1467.2 879,1467.2 881,1467.2 883,1467.1 885,1466.9 887,1466.7 889,1466.4 891,1466 893,1465.5 895,1465.1 897,1464.6 899,1464.1 901,1463.5 903,1463 905,1462.5 907,1462 909,1461.6 911,1461.1 913,1460.7 915,1460.3 917,1459.9 919,1459.5 921,1459.1 923,1458.7 925,1458.2 927,1457.7 929,1457.2 931,1456.6 933,1456 935,1455.3 937,1454.5 939,1453.6 941,1452.4 943,1451 945,1449.4 947,1447.6 949,1445.5 951,1443 953,1441.2 955,1439.3 957,1436.9 959,1434.1 961,1431.1 963,1427.8 965,1424.3 967,1420.6 969,1416.5 971,1411.8 973,1406.3 975,1400 977,1392.7 979,1383.8 981,1373.6 983,1362 985,1349.4 987,1335.7 989,1320.1 991,1302.3 993,1283.6 995,1265.2 997,1247 999,1228.5 1001,1208.9 1003,1187.9 1005,1166.1 1007,1144.2 1009,1122.2 1011,1102.4 1013,1086.3 1015,1075.4 1017,1071 1019,1069.3 1021,1068.9 1023,1070 1025,1072.4 1027,1078.2 1029,1091 1031,1106.3 1033,1122.4 1035,1139.2 1037,1156.8 1039,1175.6 1041,1194.2 1043,1210.4 1045,1223.6 1047,1235.2 1049,1245.8 1051,1255.7 1053,1265.3 1055,1275 1057,1284.7 1059,1293.8 1061,1301.6 1063,1308.2 1065,1314.1 1067,1320.2 1069,1327.1 1071,1334.6 1073,1341.7 1075,1347.9 1077,1353.3 1079,1358.3 1081,1362.9 1083,1367.1 1085,1371 1087,1374.6 1089,1377.9 1091,1380.8 1093,1383.4 1095,1385.8 1097,1387.9 1099,1389.9 1101,1391.5 1103,1392.9 1105,1394.2 1107,1395.3 1109,1396.3 1111,1397.3 1113,1398.3 1115,1399.2 1117,1400.1 1119,1401 1121,1401.8 1123,1402.6 1125,1403.5 1127,1404.5 1129,1405.6 1131,1406.9 1133,1408.2 1135,1409.6 1137,1411.1 1139,1412.5 1141,1414 1143,1415.5 1145,1417.1 1147,1418.7 1149,1420.4 1151,1422.2 1153,1423.8 1155,1425.3 1157,1426.7 1159,1428 1161,1429.2 1163,1430.2 1165,1431.1 1167,1431.8 1169,1432.5 1171,1433.2 1173,1433.8 1175,1434.4 1177,1434.9 1179,1435.2 1181,1435.5 1183,1435.6 1185,1435.6 1187,1435.5 1189,1435.3 1191,1435.1 1193,1434.8 1195,1434.6 1197,1434.4 1199,1434.2 1201,1434.2 1203,1434.3 1205,1434.5 1207,1434.8 1209,1435.2 1211,1435.7 1213,1436.4 1215,1437.1 1217,1437.8 1219,1438.5 1221,1439.3 1223,1440.2 1225,1441.1 1227,1441.9 1229,1442.6 1231,1443 1233,1443.1 1235,1443.2 1237,1443.1 1239,1443 1241,1442.9 1243,1442.7 1245,1442.4 1247,1442.2 1249,1442 1251,1441.8 1253,1441.7 1255,1441.6 1257,1441.5 1259,1441.5 1261,1441.4 1263,1441.4 1265,1441.4 1267,1441.3 1269,1441.3 1271,1441.3 1273,1441.3 1275,1441.5 1277,1442 1279,1442.6 1281,1443.4 1283,1444.3 1285,1445.2 1287,1446.1 1289,1447 1291,1447.8 1293,1448.6 1295,1449.4 1297,1450.2 1299,1450.9 1301,1451.5 1303,1452.1 1305,1452.7 1307,1453.3 1309,1453.9 1311,1454.5 1313,1455.1 1315,1455.6 1317,1456.2 1319,1456.7 1321,1457.1 1323,1457.6 1325,1458 1327,1458.3 1329,1458.6 1331,1458.9 1333,1459 1335,1459.1 1337,1459.2 1339,1459.2 1341,1459.1 1343,1459 1345,1458.8 1347,1458.7 1349,1458.5 1351,1458.2 1353,1458 1355,1457.8 1357,1457.5 1359,1457.3 1361,1457 1363,1456.8 1365,1456.6 1367,1456.4 1369,1456.2 1371,1456 1373,1455.9 1375,1455.9 1377,1455.8 1379,1455.8 1381,1455.8 1383,1455.6 1385,1455.4 1387,1455.1 1389,1454.7 1391,1454.3 1393,1453.9 1395,1453.5 1397,1453.1 1399,1452.7 1401,1452.4 1403,1452.1 1405,1451.9 1407,1451.9 1409,1451.9 1411,1452.1 1413,1452.3 1415,1452.5 1417,1452.7 1419,1452.8 1421,1452.8 1423,1452.7 1425,1452.4 1427,1452.1 1429,1451.8 1431,1451.3 1433,1450.9 1435,1450.4 1437,1449.9 1439,1449.5 1441,1449 1443,1448.5 1445,1448 1447,1447.4 1449,1446.7 1451,1446.1 1453,1445.6 1455,1445.1 1457,1444.7 1459,1444.5 1461,1444.4 1463,1444.4 1465,1444.4 1467,1444.4 1469,1444.4 1471,1444.5 1473,1444.5 1475,1444.6 1477,1444.6 1479,1444.7 1481,1444.7 1483,1444.8 1485,1445 1487,1445.3 1489,1445.7 1491,1446 1493,1446.4 1495,1446.7 1497,1447 1499,1447.2 1501,1447.3 1503,1447.3 1505,1447 1507,1446.5 1509,1445.8 1511,1445.1 1513,1444.4 1515,1443.6 1517,1443.1 1519,1442.6 1521,1442.4 1523,1442.4 1525,1442.5 1527,1442.5 1529,1442.6 1531,1442.7 1533,1442.7 1535,1442.8 1537,1442.9 1539,1442.9 1541,1442.9 1543,1442.9 1545,1443 1547,1443 1549,1443.1 1551,1443.2 1553,1443.4 1555,1443.6 1557,1443.8 1559,1444.3 1561,1444.8 1563,1445.5 1565,1446.3 1567,1447.1 1569,1447.8 1571,1448.5 1573,1449.1 1575,1449.6 1577,1450.1 1579,1450.6 1581,1451 1583,1451.3 1585,1451.6 1587,1451.8 1589,1451.9 1591,1451.9 1593,1451.8 1595,1451.6 1597,1451.1 1599,1450.6 1601,1449.9 1603,1449.2 1605,1448.6 1607,1448 1609,1447.5 1611,1447.2 1613,1447.1 1615,1447.1 1617,1447.1 1619,1447.1 1621,1447.1 1623,1447.2 1625,1447.2 1627,1447.3 1629,1447.4 1631,1447.4 1633,1447.5 1635,1447.5 1637,1447.6 1639,1447.6 1641,1447.7 1643,1447.7 1645,1447.9 1647,1448.2 1649,1448.6 1651,1449.2 1653,1449.8 1655,1450.4 1657,1451 1659,1451.5 1661,1451.8 1663,1452 1665,1452.1 1667,1452.1 1669,1452.1 1671,1452.1 1673,1452.1 1675,1452.1 1677,1452.1 1679,1452.1 1681,1452.2 1683,1452.2 1685,1452.1 1687,1452.1 1689,1452.1 1691,1452 1693,1451.9 1695,1451.7 1697,1451.3 1699,1450.5 1701,1449.5 1703,1448.4 1705,1447.1 1707,1445.8 1709,1444.4 1711,1442.9 1713,1441.3 1715,1439.7 1717,1438 1719,1436.4 1721,1434.7 1723,1432.9 1725,1430.9 1727,1428.7 1729,1426.7 1731,1424.8 1733,1423.2 1735,1422 1737,1421.3 1739,1421.3 1741,1422 1743,1423.3 1745,1424.8 1747,1426.6 1749,1428.3 1751,1429.7 1753,1430.8 1755,1431.4 1757,1431.8 1759,1432.2 1761,1432.6 1763,1432.9 1765,1433.3 1767,1433.5 1769,1433.8 1771,1434 1773,1434.2 1775,1434.3 1777,1434.4 1779,1434.5 1781,1434.5 1783,1434.5 1785,1434.5 1787,1434.4 1789,1434.4 1791,1434.4 1793,1434.4 1795,1434.3 1797,1434.3 1799,1434.2 1801,1434.1 1803,1434 1805,1433.9 1807,1433.8 1809,1433.7 1811,1433.5 1813,1433.4 1815,1433.2 1817,1433 1819,1432.8 1821,1432.6 1823,1432.3 1825,1432 1827,1431.8" fill="none" stroke="#ff00ff" stroke-width="5.2" stroke-linejoin="round" stroke-linecap="butt"/>
<polyline points="297,1463.5 299,1463.7 301,1463.8 303,1464 305,1464.2 307,1464.4 309,1464.6 311,1464.9 313,1465.1 315,1465.3 317,1465.6 319,1465.9 321,1466.2 323,1466.5 325,1466.9 327,1467.4 329,1467.9 331,1468.3 333,1468.7 335,1469.1 337,1469.3 339,1469.5 341,1469.5 343,1469.5 345,1469.5 347,1469.5 349,1469.5 351,1469.5 353,1469.5 355,1469.5 357,1469.5 359,1469.5 361,1469.5 363,1469.5 365,1469.5 367,1469.5 369,1469.5 371,1469.5 373,1469.5 375,1469.5 377,1469.5 379,1469.5 381,1469.5 383,1469.5 385,1469.5 387,1469.5 389,1469.5 391,1469.5 393,1469.5 395,1469.5 397,1469.5 399,1469.5 401,1469.4 403,1468.9 405,1468.2 407,1467.4 409,1466.8 411,1466.3 413,1466 415,1465.7 417,1465.4 419,1465.2 421,1464.9 423,1464.7 425,1464.5 427,1464.4 429,1464.2 431,1464.1 433,1463.9 435,1463.8 437,1463.8 439,1463.7 441,1463.6 443,1463.6 445,1463.5 447,1463.5 449,1463.5 451,1463.4 453,1463.4 455,1463.4 457,1463.3 459,1463.3 461,1463.2 463,1463.1 465,1463.1 467,1463 469,1462.9 471,1462.7 473,1462.6 475,1462.1 477,1461 479,1459.3 481,1457.5 483,1456.1 485,1455 487,1454.1 489,1453.3 491,1452.5 493,1451.6 495,1450.6 497,1449.5 499,1448.3 501,1447.1 503,1445.7 505,1444.2 507,1442.5 509,1440.5 511,1438.3 513,1435.7 515,1432.7 517,1429.1 519,1424.9 521,1419.3 523,1412.1 525,1403.1 527,1391.3 529,1376.9 531,1360.5 533,1344.4 535,1328.5 537,1312.5 539,1297.4 541,1283.6 543,1270.8 545,1258.2 547,1247.3 549,1239.8 551,1234.9 553,1232.2 555,1230.8 557,1230.3 559,1231.5 561,1234.3 563,1239.1 565,1246.1 567,1255.6 569,1267 571,1279.9 573,1293.6 575,1307.5 577,1320.4 579,1331.5 581,1341.3 583,1350.4 585,1359 587,1367.1 589,1374.8 591,1382.4 593,1389.8 595,1396.6 597,1402.4 599,1407.2 601,1411.2 603,1414.9 605,1418.2 607,1421.2 609,1424.2 611,1426.9 613,1429.6 615,1432 617,1434.1 619,1436 621,1437.8 623,1439.5 625,1441.2 627,1442.6 629,1443.9 631,1444.9 633,1445.7 635,1446.3 637,1446.9 639,1447.5 641,1447.9 643,1448.3 645,1448.5 647,1448.6 649,1448.4 651,1448 653,1447.4 655,1446.6 657,1445.6 659,1444.4 661,1443.1 663,1441.2 665,1438.3 667,1434.4 669,1430 671,1425.2 673,1420.4 675,1415.8 677,1411.4 679,1406.8 681,1402.1 683,1397.5 685,1393.5 687,1390.2 689,1387.5 691,1385.1 693,1383.5 695,1383.1 697,1383.7 699,1385 701,1386.7 703,1388.7 705,1391 707,1394.3 709,1398.3 711,1402.8 713,1407.2 715,1411.8 717,1416.5 719,1421.1 721,1424.9 723,1427.8 725,1430.2 727,1432.4 729,1434.6 731,1437.1 733,1440.1 735,1442.9 737,1444.9 739,1446.2 741,1447.4 743,1448.4 745,1449.4 747,1450.2 749,1450.9 751,1451.4 753,1451.8 755,1451.9 757,1452 759,1452 761,1452 763,1452 765,1452 767,1452 769,1452 771,1452 773,1452 775,1452 777,1452 779,1452 781,1452 783,1452 785,1452 787,1452 789,1452 791,1452 793,1452 795,1452 797,1452 799,1452 801,1451.8 803,1451.1 805,1450 807,1448.6 809,1447.1 811,1445.6 813,1444.4 815,1443 817,1441.6 819,1440.3 821,1439.5 823,1439.1 825,1439.4 827,1440.1 829,1441.3 831,1442.7 833,1444.4 835,1446.2 837,1448 839,1449.7 841,1451.3 843,1452.7 845,1454.2 847,1455.8 849,1457.4 851,1458.9 853,1460.4 855,1461.7 857,1462.8 859,1463.5 861,1464 863,1464.2 865,1464.4 867,1464.5 869,1464.6 871,1464.8 873,1464.8 875,1464.9 877,1465 879,1465 881,1465 883,1464.9 885,1464.7 887,1464.4 889,1464.1 891,1463.6 893,1463.2 895,1462.7 897,1462.2 899,1461.6 901,1461.1 903,1460.5 905,1460 907,1459.5 909,1459 911,1458.6 913,1458.1 915,1457.7 917,1457.3 919,1456.9 921,1456.5 923,1456.1 925,1455.6 927,1455.1 929,1454.6 931,1454 933,1453.4 935,1452.7 937,1452 939,1451.1 941,1449.9 943,1448.6 945,1447.1 947,1445.4 949,1443.5 951,1441.3 953,1440.2 955,1439.1 957,1437.4 959,1435.4 961,1433 963,1430.3 965,1427.4 967,1424.3 969,1421.1 971,1417.5 973,1412.9 975,1407.4 977,1401.2 979,1394.3 981,1386.5 983,1377.7 985,1367.9 987,1357.2 989,1345.5 991,1332.5 993,1317.3 995,1299.9 997,1282.1 999,1265.2 1001,1249.1 1003,1232.9 1005,1215.8 1007,1197 1009,1176.9 1011,1156.1 1013,1134.8 1015,1114 1017,1097.2 1019,1084.9 1021,1077.1 1023,1072.5 1025,1070.7 1027,1072.6 1029,1077.4 1031,1084.4 1033,1094.4 1035,1106.2 1037,1119.3 1039,1133.6 1041,1148.7 1043,1165.1 1045,1182.7 1047,1199.5 1049,1213.7 1051,1225.5 1053,1235.9 1055,1245.5 1057,1254.6 1059,1263.8 1061,1273.5 1063,1283.7 1065,1293.6 1067,1301.8 1069,1308.3 1071,1314 1073,1319.7 1075,1326.2 1077,1333.1 1079,1339.8 1081,1345.8 1083,1351.2 1085,1356.2 1087,1360.8 1089,1365.1 1091,1368.9 1093,1372.5 1095,1375.7 1097,1378.5 1099,1381 1101,1383.3 1103,1385.3 1105,1387.1 1107,1388.7 1109,1389.9 1111,1391 1113,1392 1115,1392.9 1117,1393.7 1119,1394.5 1121,1395.3 1123,1396.1 1125,1396.8 1127,1397.5 1129,1398.2 1131,1399.1 1133,1400.1 1135,1401.6 1137,1403.4 1139,1405.5 1141,1407.5 1143,1409.4 1145,1411.1 1147,1412.6 1149,1414.1 1151,1415.7 1153,1417.3 1155,1419 1157,1420.6 1159,1422.2 1161,1423.6 1163,1424.8 1165,1425.8 1167,1426.6 1169,1427.3 1171,1428.1 1173,1428.8 1175,1429.4 1177,1429.9 1179,1430.3 1181,1430.6 1183,1430.7 1185,1430.6 1187,1430.4 1189,1430.1 1191,1429.7 1193,1429.3 1195,1429 1197,1428.6 1199,1428.4 1201,1428.3 1203,1428.4 1205,1428.7 1207,1429.1 1209,1429.6 1211,1430.2 1213,1430.9 1215,1431.6 1217,1432.3 1219,1433 1221,1433.9 1223,1434.9 1225,1436 1227,1436.9 1229,1437.6 1231,1437.9 1233,1438 1235,1437.9 1237,1437.8 1239,1437.7 1241,1437.5 1243,1437.3 1245,1437.2 1247,1437 1249,1436.9 1251,1436.8 1253,1436.7 1255,1436.7 1257,1436.7 1259,1436.7 1261,1436.7 1263,1436.7 1265,1436.7 1267,1436.7 1269,1436.7 1271,1436.7 1273,1436.7 1275,1437 1277,1437.5 1279,1438.2 1281,1439.1 1283,1440.1 1285,1441.2 1287,1442.2 1289,1443.1 1291,1444 1293,1444.8 1295,1445.6 1297,1446.4 1299,1447.1 1301,1447.7 1303,1448.3 1305,1449 1307,1449.6 1309,1450.2 1311,1450.9 1313,1451.5 1315,1452.1 1317,1452.7 1319,1453.2 1321,1453.7 1323,1454.2 1325,1454.7 1327,1455 1329,1455.4 1331,1455.6 1333,1455.8 1335,1455.9 1337,1456 1339,1456 1341,1455.9 1343,1455.8 1345,1455.6 1347,1455.4 1349,1455.2 1351,1454.9 1353,1454.7 1355,1454.4 1357,1454.1 1359,1453.8 1361,1453.6 1363,1453.3 1365,1453.1 1367,1452.9 1369,1452.7 1371,1452.6 1373,1452.5 1375,1452.5 1377,1452.5 1379,1452.6 1381,1452.6 1383,1452.4 1385,1452.1 1387,1451.7 1389,1451.2 1391,1450.7 1393,1450.1 1395,1449.6 1397,1449 1399,1448.6 1401,1448.1 1403,1447.8 1405,1447.7 1407,1447.6 1409,1447.8 1411,1448.1 1413,1448.5 1415,1448.9 1417,1449.3 1419,1449.5 1421,1449.6 1423,1449.5 1425,1449.2 1427,1448.9 1429,1448.5 1431,1448.1 1433,1447.5 1435,1447 1437,1446.5 1439,1445.9 1441,1445.4 1443,1444.8 1445,1444.2 1447,1443.4 1449,1442.6 1451,1441.8 1453,1441.1 1455,1440.5 1457,1440 1459,1439.7 1461,1439.5 1463,1439.5 1465,1439.5 1467,1439.5 1469,1439.5 1471,1439.5 1473,1439.5 1475,1439.5 1477,1439.5 1479,1439.5 1481,1439.5 1483,1439.6 1485,1439.8 1487,1440.1 1489,1440.5 1491,1440.9 1493,1441.4 1495,1441.8 1497,1442.1 1499,1442.4 1501,1442.5 1503,1442.3 1505,1441.8 1507,1441 1509,1440 1511,1438.8 1513,1437.6 1515,1436.5 1517,1435.6 1519,1434.9 1521,1434.5 1523,1434.4 1525,1434.4 1527,1434.5 1529,1434.6 1531,1434.7 1533,1434.8 1535,1434.9 1537,1435 1539,1435.2 1541,1435.3 1543,1435.5 1545,1435.7 1547,1435.9 1549,1436.2 1551,1436.5 1553,1436.8 1555,1437.2 1557,1437.7 1559,1438.4 1561,1439.2 1563,1440.2 1565,1441.3 1567,1442.3 1569,1443.2 1571,1444 1573,1444.7 1575,1445.3 1577,1445.8 1579,1446.4 1581,1446.9 1583,1447.4 1585,1447.8 1587,1448.1 1589,1448.4 1591,1448.5 1593,1448.5 1595,1448.3 1597,1447.8 1599,1447.1 1601,1446.3 1603,1445.4 1605,1444.5 1607,1443.7 1609,1443.1 1611,1442.7 1613,1442.5 1615,1442.5 1617,1442.5 1619,1442.5 1621,1442.5 1623,1442.5 1625,1442.5 1627,1442.5 1629,1442.5 1631,1442.5 1633,1442.5 1635,1442.5 1637,1442.5 1639,1442.5 1641,1442.5 1643,1442.5 1645,1442.7 1647,1443.1 1649,1443.8 1651,1444.6 1653,1445.5 1655,1446.3 1657,1447.2 1659,1447.8 1661,1448.3 1663,1448.6 1665,1448.6 1667,1448.6 1669,1448.6 1671,1448.6 1673,1448.6 1675,1448.6 1677,1448.6 1679,1448.6 1681,1448.6 1683,1448.6 1685,1448.6 1687,1448.6 1689,1448.6 1691,1448.6 1693,1448.6 1695,1448.4 1697,1447.9 1699,1446.9 1701,1445.7 1703,1444.2 1705,1442.7 1707,1441.2 1709,1439.8 1711,1438.2 1713,1436.5 1715,1434.7 1717,1432.9 1719,1431.2 1721,1429.6 1723,1427.8 1725,1426 1727,1424.1 1729,1422.3 1731,1420.7 1733,1419.3 1735,1418.3 1737,1417.8 1739,1417.8 1741,1418.5 1743,1419.6 1745,1421.1 1747,1422.7 1749,1424.3 1751,1425.7 1753,1426.6 1755,1427.2 1757,1427.6 1759,1428 1761,1428.3 1763,1428.6 1765,1428.9 1767,1429.2 1769,1429.4 1771,1429.6 1773,1429.7 1775,1429.9 1777,1429.9 1779,1430 1781,1430 1783,1430 1785,1430 1787,1430 1789,1429.9 1791,1429.9 1793,1429.8 1795,1429.8 1797,1429.7 1799,1429.6 1801,1429.5 1803,1429.4 1805,1429.2 1807,1429.1 1809,1428.9 1811,1428.7 1813,1428.5 1815,1428.3 1817,1428 1819,1427.8 1821,1427.5 1823,1427.1 1825,1426.8 1827,1426.5" fill="none" stroke="#808000" stroke-width="5.2" stroke-linejoin="round" stroke-linecap="butt"/>
<line x1="1801.6" y1="1497.5" x2="1801.6" y2="1482" stroke="#000" stroke-width="5"/>
<line x1="1773.7" y1="1497.5" x2="1773.7" y2="1482" stroke="#000" stroke-width="5"/>
<line x1="1745.8" y1="1497.5" x2="1745.8" y2="1482" stroke="#000" stroke-width="5"/>
<line x1="1717.9" y1="1497.5" x2="1717.9" y2="1482" stroke="#000" stroke-width="5"/>
<line x1="1690" y1="1497.5" x2="1690" y2="1468" stroke="#000" stroke-width="5"/>
<line x1="1662" y1="1497.5" x2="1662" y2="1482" stroke="#000" stroke-width="5"/>
<line x1="1634.1" y1="1497.5" x2="1634.1" y2="1482" stroke="#000" stroke-width="5"/>
<line x1="1606.2" y1="1497.5" x2="1606.2" y2="1482" stroke="#000" stroke-width="5"/>
<line x1="1578.3" y1="1497.5" x2="1578.3" y2="1482" stroke="#000" stroke-width="5"/>
<line x1="1550.4" y1="1497.5" x2="1550.4" y2="1482" stroke="#000" stroke-width="5"/>
<line x1="1522.5" y1="1497.5" x2="1522.5" y2="1482" stroke="#000" stroke-width="5"/>
<line x1="1494.6" y1="1497.5" x2="1494.6" y2="1482" stroke="#000" stroke-width="5"/>
<line x1="1466.7" y1="1497.5" x2="1466.7" y2="1482" stroke="#000" stroke-width="5"/>
<line x1="1438.8" y1="1497.5" x2="1438.8" y2="1482" stroke="#000" stroke-width="5"/>
<line x1="1410.9" y1="1497.5" x2="1410.9" y2="1468" stroke="#000" stroke-width="5"/>
<line x1="1383" y1="1497.5" x2="1383" y2="1482" stroke="#000" stroke-width="5"/>
<line x1="1355" y1="1497.5" x2="1355" y2="1482" stroke="#000" stroke-width="5"/>
<line x1="1327.1" y1="1497.5" x2="1327.1" y2="1482" stroke="#000" stroke-width="5"/>
<line x1="1299.2" y1="1497.5" x2="1299.2" y2="1482" stroke="#000" stroke-width="5"/>
<line x1="1271.3" y1="1497.5" x2="1271.3" y2="1482" stroke="#000" stroke-width="5"/>
<line x1="1243.4" y1="1497.5" x2="1243.4" y2="1482" stroke="#000" stroke-width="5"/>
<line x1="1215.5" y1="1497.5" x2="1215.5" y2="1482" stroke="#000" stroke-width="5"/>
<line x1="1187.6" y1="1497.5" x2="1187.6" y2="1482" stroke="#000" stroke-width="5"/>
<line x1="1159.7" y1="1497.5" x2="1159.7" y2="1482" stroke="#000" stroke-width="5"/>
<line x1="1131.8" y1="1497.5" x2="1131.8" y2="1468" stroke="#000" stroke-width="5"/>
<line x1="1103.9" y1="1497.5" x2="1103.9" y2="1482" stroke="#000" stroke-width="5"/>
<line x1="1076" y1="1497.5" x2="1076" y2="1482" stroke="#000" stroke-width="5"/>
<line x1="1048" y1="1497.5" x2="1048" y2="1482" stroke="#000" stroke-width="5"/>
<line x1="1020.1" y1="1497.5" x2="1020.1" y2="1482" stroke="#000" stroke-width="5"/>
<line x1="992.2" y1="1497.5" x2="992.2" y2="1482" stroke="#000" stroke-width="5"/>
<line x1="964.3" y1="1497.5" x2="964.3" y2="1482" stroke="#000" stroke-width="5"/>
<line x1="936.4" y1="1497.5" x2="936.4" y2="1482" stroke="#000" stroke-width="5"/>
<line x1="908.5" y1="1497.5" x2="908.5" y2="1482" stroke="#000" stroke-width="5"/>
<line x1="880.6" y1="1497.5" x2="880.6" y2="1482" stroke="#000" stroke-width="5"/>
<line x1="852.7" y1="1497.5" x2="852.7" y2="1468" stroke="#000" stroke-width="5"/>
<line x1="824.8" y1="1497.5" x2="824.8" y2="1482" stroke="#000" stroke-width="5"/>
<line x1="796.9" y1="1497.5" x2="796.9" y2="1482" stroke="#000" stroke-width="5"/>
<line x1="769" y1="1497.5" x2="769" y2="1482" stroke="#000" stroke-width="5"/>
<line x1="741" y1="1497.5" x2="741" y2="1482" stroke="#000" stroke-width="5"/>
<line x1="713.1" y1="1497.5" x2="713.1" y2="1482" stroke="#000" stroke-width="5"/>
<line x1="685.2" y1="1497.5" x2="685.2" y2="1482" stroke="#000" stroke-width="5"/>
<line x1="657.3" y1="1497.5" x2="657.3" y2="1482" stroke="#000" stroke-width="5"/>
<line x1="629.4" y1="1497.5" x2="629.4" y2="1482" stroke="#000" stroke-width="5"/>
<line x1="601.5" y1="1497.5" x2="601.5" y2="1482" stroke="#000" stroke-width="5"/>
<line x1="573.6" y1="1497.5" x2="573.6" y2="1468" stroke="#000" stroke-width="5"/>
<line x1="545.7" y1="1497.5" x2="545.7" y2="1482" stroke="#000" stroke-width="5"/>
<line x1="517.8" y1="1497.5" x2="517.8" y2="1482" stroke="#000" stroke-width="5"/>
<line x1="489.9" y1="1497.5" x2="489.9" y2="1482" stroke="#000" stroke-width="5"/>
<line x1="462" y1="1497.5" x2="462" y2="1482" stroke="#000" stroke-width="5"/>
<line x1="434" y1="1497.5" x2="434" y2="1482" stroke="#000" stroke-width="5"/>
<line x1="406.1" y1="1497.5" x2="406.1" y2="1482" stroke="#000" stroke-width="5"/>
<line x1="378.2" y1="1497.5" x2="378.2" y2="1482" stroke="#000" stroke-width="5"/>
<line x1="350.3" y1="1497.5" x2="350.3" y2="1482" stroke="#000" stroke-width="5"/>
<line x1="322.4" y1="1497.5" x2="322.4" y2="1482" stroke="#000" stroke-width="5"/>
<line x1="294.5" y1="1311.8" x2="324" y2="1311.8" stroke="#000" stroke-width="5"/>
<line x1="294.5" y1="1126.2" x2="324" y2="1126.2" stroke="#000" stroke-width="5"/>
<line x1="294.5" y1="1404.7" x2="310.5" y2="1404.7" stroke="#000" stroke-width="5"/>
<line x1="294.5" y1="1219" x2="310.5" y2="1219" stroke="#000" stroke-width="5"/>
<line x1="294.5" y1="1033.3" x2="310.5" y2="1033.3" stroke="#000" stroke-width="5"/>
<rect x="294.5" y="940.5" width="1535" height="557" fill="none" stroke="#000" stroke-width="5"/>
<text x="1623.8" y="1573" font-size="58.5">1200</text>
<text x="1344.7" y="1573" font-size="58.5">1300</text>
<text x="1065.6" y="1573" font-size="58.5">1400</text>
<text x="786.5" y="1573" font-size="58.5">1500</text>
<text x="507.4" y="1573" font-size="58.5">1600</text>
<text x="228.3" y="1573" font-size="58.5">1700</text>
<text x="170" y="1516.5" font-size="66">0.0</text>
<text x="170.7" y="1330.8" font-size="66">0.1</text>
<text x="170.8" y="1145.2" font-size="66">0.2</text>
<text x="170.4" y="959.5" font-size="66">0.3</text>
<text transform="translate(108.2 1220.6) rotate(-90)" x="-192.6" y="0" font-size="74" textLength="388.4" lengthAdjust="spacingAndGlyphs">Absorbance</text>
<text x="727.3" y="1671.5" font-size="80.5" textLength="627.3" lengthAdjust="spacingAndGlyphs">Wavenumber, cm</text>
<text x="1353.1" y="1632" font-size="43.3">-1</text>
<polyline points="297,2264.3 299,2265 301,2265.9 303,2266.8 305,2267.6 307,2268.5 309,2269.2 311,2270 313,2270.6 315,2271.2 317,2271.7 319,2272.1 321,2272.5 323,2272.8 325,2273 327,2273.3 329,2273.5 331,2273.7 333,2273.9 335,2274.1 337,2274.3 339,2274.5 341,2274.6 343,2274.7 345,2274.8 347,2274.9 349,2275 351,2275 353,2275 355,2275 357,2275 359,2274.9 361,2274.9 363,2274.9 365,2274.8 367,2274.8 369,2274.7 371,2274.6 373,2274.6 375,2274.5 377,2274.4 379,2274.3 381,2274.2 383,2274.1 385,2273.9 387,2273.6 389,2273.3 391,2272.8 393,2272.3 395,2271.7 397,2271 399,2270.3 401,2269.6 403,2268.8 405,2267.9 407,2266.9 409,2265.6 411,2264.1 413,2262.5 415,2260.9 417,2259.4 419,2258.2 421,2257.5 423,2257.1 425,2257.2 427,2257.5 429,2257.9 431,2258.3 433,2258.7 435,2258.9 437,2258.8 439,2258.3 441,2257.3 443,2256 445,2254.3 447,2252.3 449,2250.1 451,2247.7 453,2245.2 455,2242.6 457,2239.9 459,2237 461,2233.6 463,2229.7 465,2225.3 467,2220.6 469,2215.4 471,2209.6 473,2202.6 475,2194.2 477,2185.1 479,2176.3 481,2168.6 483,2162.2 485,2156.6 487,2151.7 489,2148.6 491,2147.7 493,2148.6 495,2150.7 497,2153.7 499,2157.6 501,2163.3 503,2170.6 505,2178.8 507,2187.1 509,2194.9 511,2202.2 513,2209.4 515,2216.3 517,2222.5 519,2227.7 521,2232.1 523,2236.2 525,2239.9 527,2243.4 529,2246.7 531,2249.7 533,2252.4 535,2254.9 537,2257.1 539,2259.1 541,2260.8 543,2262.3 545,2263.6 547,2264.9 549,2266 551,2267.1 553,2268.1 555,2269.1 557,2270.1 559,2271 561,2272 563,2273.1 565,2274.2 567,2275 569,2275.3 571,2274.5 573,2272.6 575,2269.8 577,2266.5 579,2263.1 581,2259.8 583,2257 585,2255.1 587,2254.4 589,2254.9 591,2256.2 593,2258.3 595,2260.6 597,2263.1 599,2265.3 601,2267 603,2268.1 605,2268.9 607,2269.5 609,2270.2 611,2270.7 613,2271.2 615,2271.6 617,2272 619,2272.2 621,2272.4 623,2272.4 625,2272.3 627,2272 629,2271.5 631,2270.8 633,2269.9 635,2268.9 637,2267.8 639,2266.6 641,2265 643,2262.9 645,2260.1 647,2256.8 649,2253 651,2248.3 653,2242.7 655,2236.2 657,2228.7 659,2219.8 661,2209.1 663,2196.7 665,2183.1 667,2168.9 669,2153.5 671,2136.7 673,2120.3 675,2106.5 677,2096.4 679,2088.7 681,2083 683,2080.4 685,2081.4 687,2085.7 689,2092.4 691,2101.2 693,2113.4 695,2129.4 697,2147.3 699,2164.7 701,2181.4 703,2197.1 705,2210.3 707,2220.3 709,2228.2 711,2234 713,2237 715,2237.7 717,2237.3 719,2236.8 721,2236.3 723,2236.1 725,2236.1 727,2236.2 729,2236.5 731,2236.8 733,2237.2 735,2237.9 737,2239.3 739,2242.1 741,2246.1 743,2250.3 745,2254.3 747,2258.1 749,2261.9 751,2265.2 753,2267.8 755,2269.9 757,2271.7 759,2273.4 761,2274.9 763,2276.1 765,2277 767,2277.7 769,2278 771,2278.1 773,2278.2 775,2278.3 777,2278.4 779,2278.5 781,2278.5 783,2278.6 785,2278.7 787,2278.7 789,2278.8 791,2278.8 793,2278.8 795,2278.9 797,2278.9 799,2278.9 801,2279 803,2279 805,2279 807,2279 809,2279 811,2279 813,2279 815,2279 817,2279 819,2279 821,2279 823,2279 825,2278.9 827,2278.9 829,2278.9 831,2278.9 833,2278.8 835,2278.8 837,2278.8 839,2278.7 841,2278.7 843,2278.7 845,2278.6 847,2278.6 849,2278.5 851,2278.5 853,2278.4 855,2278.4 857,2278.3 859,2278.2 861,2278.2 863,2278.1 865,2278 867,2277.9 869,2277.9 871,2277.8 873,2277.7 875,2277.6 877,2277.5 879,2277.4 881,2277.3 883,2277.2 885,2277.1 887,2276.9 889,2276.7 891,2276.4 893,2275.9 895,2275.3 897,2274.6 899,2273.8 901,2273.1 903,2272.2 905,2271.4 907,2270.6 909,2269.9 911,2269.2 913,2268.6 915,2268 917,2267.6 919,2267.2 921,2266.7 923,2266 925,2265.3 927,2264.4 929,2263.4 931,2262.4 933,2261.4 935,2260.3 937,2259.2 939,2258.2 941,2257.3 943,2256.4 945,2255.6 947,2255 949,2254.5 951,2254.2 953,2254.1 955,2254.5 957,2255.4 959,2256.6 961,2258 963,2259.4 965,2260.6 967,2261.5 969,2261.9 971,2261.8 973,2261.4 975,2260.8 977,2260.1 979,2259.1 981,2258.1 983,2257 985,2255.8 987,2254.6 989,2253.4 991,2252.2 993,2251.2 995,2250.2 997,2249.4 999,2248.7 1001,2248.2 1003,2247.9 1005,2247.7 1007,2247.5 1009,2247.4 1011,2247.3 1013,2247.1 1015,2247 1017,2246.9 1019,2246.8 1021,2246.7 1023,2246.6 1025,2246.4 1027,2246.3 1029,2246 1031,2245.7 1033,2245.4 1035,2244.9 1037,2244.3 1039,2243.6 1041,2242.8 1043,2242 1045,2241.1 1047,2240.2 1049,2239.2 1051,2238.2 1053,2237.1 1055,2236.1 1057,2235 1059,2233.8 1061,2232.5 1063,2231 1065,2229.4 1067,2227.8 1069,2226 1071,2224.2 1073,2222.4 1075,2220.6 1077,2218.8 1079,2217.1 1081,2215.4 1083,2213.8 1085,2212.3 1087,2211.1 1089,2209.9 1091,2208.8 1093,2207.8 1095,2206.7 1097,2205.6 1099,2204.3 1101,2202.9 1103,2201.4 1105,2199.4 1107,2196.7 1109,2192.5 1111,2186.8 1113,2180.3 1115,2173.5 1117,2166.3 1119,2158.4 1121,2150.4 1123,2144.9 1125,2143.4 1127,2144.4 1129,2146.6 1131,2149.4 1133,2152.6 1135,2155.9 1137,2158.7 1139,2161 1141,2162.4 1143,2162.9 1145,2162.7 1147,2162 1149,2160.8 1151,2159.3 1153,2157.4 1155,2155.2 1157,2152.7 1159,2150.1 1161,2147.2 1163,2144.2 1165,2141.1 1167,2137.6 1169,2133.4 1171,2128.3 1173,2122.5 1175,2116.5 1177,2110.2 1179,2103.2 1181,2097.3 1183,2094.7 1185,2095.5 1187,2098.2 1189,2101.5 1191,2104.8 1193,2107.2 1195,2108.1 1197,2107.4 1199,2105.4 1201,2102.7 1203,2100.1 1205,2098.3 1207,2097.8 1209,2098.9 1211,2101.4 1213,2104.8 1215,2108.5 1217,2112 1219,2114.8 1221,2116.3 1223,2116.8 1225,2116.8 1227,2116.8 1229,2116.7 1231,2116.7 1233,2116.7 1235,2116.7 1237,2116.7 1239,2116.7 1241,2116.7 1243,2116.7 1245,2116.7 1247,2116.7 1249,2116.7 1251,2116.7 1253,2116.7 1255,2116.7 1257,2116.7 1259,2116.7 1261,2116.7 1263,2116.5 1265,2116 1267,2114.8 1269,2113.1 1271,2111.2 1273,2109.4 1275,2107.9 1277,2107.1 1279,2107 1281,2107.5 1283,2108.6 1285,2109.9 1287,2111.4 1289,2113 1291,2114.4 1293,2115.5 1295,2116.3 1297,2116.6 1299,2116.5 1301,2116.1 1303,2115.5 1305,2114.8 1307,2114 1309,2113.1 1311,2112.2 1313,2111.3 1315,2110.5 1317,2109.7 1319,2108.9 1321,2108 1323,2107.3 1325,2106.8 1327,2107.2 1329,2109.3 1331,2113.3 1333,2118.2 1335,2122.9 1337,2126.4 1339,2129 1341,2131.2 1343,2133.2 1345,2135 1347,2136.7 1349,2138.3 1351,2139.8 1353,2141.3 1355,2142.7 1357,2144 1359,2145.4 1361,2146.9 1363,2148.4 1365,2150 1367,2151.4 1369,2152.5 1371,2153.1 1373,2153.2 1375,2153 1377,2152.6 1379,2152 1381,2151.3 1383,2150.5 1385,2149.5 1387,2148.4 1389,2147.2 1391,2145.8 1393,2144.4 1395,2142.9 1397,2141.3 1399,2139.7 1401,2138 1403,2136.2 1405,2134.5 1407,2132.7 1409,2130.8 1411,2129 1413,2127.2 1415,2125.4 1417,2123.6 1419,2121.8 1421,2120.1 1423,2118.4 1425,2116.8 1427,2115.3 1429,2113.8 1431,2112.5 1433,2111.2 1435,2110.1 1437,2109 1439,2108.1 1441,2107.2 1443,2106.4 1445,2105.6 1447,2104.9 1449,2104.2 1451,2103.5 1453,2102.9 1455,2102.3 1457,2101.7 1459,2101.2 1461,2100.6 1463,2100.1 1465,2099.6 1467,2099 1469,2098.5 1471,2097.9 1473,2097.3 1475,2096.7 1477,2096.1 1479,2095.5 1481,2094.8 1483,2094.1 1485,2093.3 1487,2092.5 1489,2091.6 1491,2090.7 1493,2089.7 1495,2088.6 1497,2087.5 1499,2086.1 1501,2084.3 1503,2081.9 1505,2078.8 1507,2075.5 1509,2072.2 1511,2069.1 1513,2066.4 1515,2064.5 1517,2063.5 1519,2063.2 1521,2063.2 1523,2063.1 1525,2063.1 1527,2063.1 1529,2063.1 1531,2063.1 1533,2063.1 1535,2063.1 1537,2063.2 1539,2063.8 1541,2064.7 1543,2066 1545,2067.6 1547,2069.5 1549,2071.5 1551,2073.6 1553,2075.7 1555,2077.8 1557,2079.8 1559,2081.5 1561,2083 1563,2084.5 1565,2085.9 1567,2087.3 1569,2088.6 1571,2090 1573,2091.3 1575,2092.7 1577,2094 1579,2095.2 1581,2096.4 1583,2097.6 1585,2098.7 1587,2099.7 1589,2100.7 1591,2101.6 1593,2102.4 1595,2103.2 1597,2104 1599,2104.8 1601,2105.6 1603,2106.3 1605,2106.8 1607,2107.2 1609,2107.4 1611,2107.2 1613,2106.3 1615,2104.6 1617,2102.3 1619,2099.3 1621,2095.9 1623,2092.1 1625,2088 1627,2083.7 1629,2079.4 1631,2075 1633,2070.7 1635,2066.4 1637,2061.5 1639,2056 1641,2049.8 1643,2043.1 1645,2036.1 1647,2029 1649,2022.1 1651,2015.4 1653,2009.2 1655,2003.8 1657,1999.2 1659,1995.7 1661,1993.5 1663,1992.8 1665,1993.9 1667,1996.8 1669,2001.3 1671,2007.1 1673,2013.6 1675,2020.6 1677,2027.6 1679,2034.4 1681,2041.3 1683,2048.8 1685,2056.9 1687,2065.4 1689,2073.8 1691,2081.7 1693,2088.6 1695,2094.3 1697,2098.8 1699,2102.7 1701,2106.4 1703,2110.1 1705,2113.6 1707,2117 1709,2120.3 1711,2123.4 1713,2126.3 1715,2129 1717,2131.4 1719,2133.7 1721,2135.7 1723,2137.4 1725,2138.9 1727,2140 1729,2140.9 1731,2141.4 1733,2141.6 1735,2141.7 1737,2141.6 1739,2141.6 1741,2141.6 1743,2141.6 1745,2141.6 1747,2141.6 1749,2141.4 1751,2140.7 1753,2138.8 1755,2135.6 1757,2131.3 1759,2126.2 1761,2120.5 1763,2114.4 1765,2108.2 1767,2102.1 1769,2096.4 1771,2091.4 1773,2087.1 1775,2084 1777,2082.2 1779,2081.5 1781,2081.3 1783,2081.3 1785,2081.3 1787,2081.3 1789,2081.3 1791,2081.3 1793,2081.3 1795,2081.2 1797,2081.2 1799,2081.1 1801,2080.8 1803,2080.1 1805,2079 1807,2077.6 1809,2075.7 1811,2073.6 1813,2071.2 1815,2068.4 1817,2065.5 1819,2062.3 1821,2058.9 1823,2055.4 1825,2051.8 1827,2048.9" fill="none" stroke="#000000" stroke-width="5.2" stroke-linejoin="round" stroke-linecap="butt"/>
<polyline points="297,2264.3 299,2265 301,2265.9 303,2266.8 305,2267.6 307,2268.5 309,2269.2 311,2270 313,2270.6 315,2271.2 317,2271.7 319,2272.1 321,2272.5 323,2272.8 325,2273 327,2273.3 329,2273.5 331,2273.7 333,2273.9 335,2274.1 337,2274.3 339,2274.5 341,2274.6 343,2274.7 345,2274.8 347,2274.9 349,2275 351,2275 353,2275 355,2275 357,2275 359,2274.9 361,2274.9 363,2274.9 365,2274.8 367,2274.8 369,2274.7 371,2274.6 373,2274.6 375,2274.5 377,2274.4 379,2274.3 381,2274.2 383,2274.1 385,2273.9 387,2273.6 389,2273.3 391,2272.8 393,2272.3 395,2271.7 397,2271 399,2270.3 401,2269.6 403,2268.8 405,2267.9 407,2266.9 409,2265.6 411,2264.1 413,2262.5 415,2260.9 417,2259.4 419,2258.2 421,2257.5 423,2257.1 425,2257.2 427,2257.5 429,2257.9 431,2258.3 433,2258.7 435,2258.9 437,2258.8 439,2258.3 441,2257.3 443,2256 445,2254.3 447,2252.3 449,2250.1 451,2247.7 453,2245.2 455,2242.6 457,2239.9 459,2237 461,2233.6 463,2229.7 465,2225.3 467,2220.6 469,2215.4 471,2209.6 473,2202.6 475,2194.2 477,2185.1 479,2176.3 481,2168.6 483,2162.2 485,2156.6 487,2151.7 489,2148.6 491,2147.7 493,2148.6 495,2150.7 497,2153.7 499,2157.6 501,2163.3 503,2170.6 505,2178.8 507,2187.1 509,2194.9 511,2202.2 513,2209.4 515,2216.3 517,2222.5 519,2227.7 521,2232.1 523,2236.2 525,2239.9 527,2243.4 529,2246.7 531,2249.7 533,2252.4 535,2254.9 537,2257.1 539,2259.1 541,2260.8 543,2262.3 545,2263.6 547,2264.9 549,2266 551,2267.1 553,2268.1 555,2269.1 557,2270.1 559,2271 561,2272 563,2273.1 565,2274.2 567,2275 569,2275.3 571,2274.5 573,2272.6 575,2269.8 577,2266.5 579,2263.1 581,2259.8 583,2257 585,2255.1 587,2254.4 589,2254.9 591,2256.2 593,2258.3 595,2260.6 597,2263.1 599,2265.3 601,2267 603,2268.1 605,2268.9 607,2269.5 609,2270.2 611,2270.7 613,2271.2 615,2271.6 617,2272 619,2272.2 621,2272.4 623,2272.4 625,2272.3 627,2272 629,2271.5 631,2270.8 633,2269.9 635,2268.9 637,2267.8 639,2266.6 641,2265 643,2262.9 645,2260.1 647,2256.8 649,2253 651,2248.3 653,2242.7 655,2236.2 657,2228.7 659,2219.8 661,2209.1 663,2196.7 665,2183.1 667,2168.9 669,2153.5 671,2136.7 673,2120.3 675,2106.5 677,2096.4 679,2088.7 681,2083 683,2080.4 685,2081.4 687,2085.7 689,2092.4 691,2101.2 693,2113.4 695,2129.4 697,2147.3 699,2164.7 701,2181.4 703,2197.1 705,2210.3 707,2220.3 709,2228.2 711,2234 713,2237 715,2237.7 717,2237.3 719,2236.8 721,2236.3 723,2236.1 725,2236.1 727,2236.2 729,2236.5 731,2236.8 733,2237.2 735,2237.9 737,2239.3 739,2242.1 741,2246.1 743,2250.3 745,2254.3 747,2258.1 749,2261.9 751,2265.2 753,2267.8 755,2269.9 757,2271.7 759,2273.4 761,2274.9 763,2276.1 765,2277 767,2277.7 769,2278 771,2278.1 773,2278.2 775,2278.3 777,2278.4 779,2278.5 781,2278.5 783,2278.6 785,2278.7 787,2278.7 789,2278.8 791,2278.8 793,2278.8 795,2278.9 797,2278.9 799,2278.9 801,2279 803,2279 805,2279 807,2279 809,2279 811,2279 813,2279 815,2279 817,2279 819,2279 821,2279 823,2279 825,2278.9 827,2278.9 829,2278.9 831,2278.9 833,2278.8 835,2278.8 837,2278.8 839,2278.7 841,2278.7 843,2278.7 845,2278.6 847,2278.6 849,2278.5 851,2278.5 853,2278.4 855,2278.4 857,2278.3 859,2278.2 861,2278.2 863,2278.1 865,2278 867,2277.9 869,2277.9 871,2277.8 873,2277.7 875,2277.6 877,2277.5 879,2277.4 881,2277.3 883,2277.2 885,2277.1 887,2276.9 889,2276.7 891,2276.4 893,2275.9 895,2275.3 897,2274.6 899,2273.8 901,2273.1 903,2272.2 905,2271.4 907,2270.6 909,2269.9 911,2269.2 913,2268.6 915,2268 917,2267.6 919,2267.2 921,2266.7 923,2266 925,2265.3 927,2264.4 929,2263.4 931,2262.4 933,2261.4 935,2260.3 937,2259.2 939,2258.2 941,2257.3 943,2256.4 945,2255.6 947,2255 949,2254.5 951,2254.2 953,2254.1 955,2254.5 957,2255.4 959,2256.6 961,2258 963,2259.4 965,2260.6 967,2261.5 969,2261.9 971,2261.8 973,2261.4 975,2260.8 977,2260.1 979,2259.1 981,2258.1 983,2257 985,2255.8 987,2254.6 989,2253.4 991,2252.2 993,2251.2 995,2250.2 997,2249.4 999,2248.7 1001,2248.2 1003,2247.9 1005,2247.7 1007,2247.5 1009,2247.4 1011,2247.3 1013,2247.1 1015,2247 1017,2246.9 1019,2246.8 1021,2246.7 1023,2246.6 1025,2246.4 1027,2246.3 1029,2246 1031,2245.7 1033,2245.4 1035,2244.9 1037,2244.3 1039,2243.6 1041,2242.8 1043,2242 1045,2241.1 1047,2240.2 1049,2239.2 1051,2238.2 1053,2237.1 1055,2236.1 1057,2235 1059,2233.8 1061,2232.5 1063,2231 1065,2229.4 1067,2227.8 1069,2226 1071,2224.2 1073,2222.4 1075,2220.6 1077,2218.8 1079,2217.1 1081,2215.4 1083,2213.8 1085,2212.3 1087,2211.1 1089,2209.9 1091,2208.8 1093,2207.8 1095,2206.7 1097,2205.6 1099,2204.3 1101,2202.8 1103,2201.1 1105,2198.9 1107,2196 1109,2191.6 1111,2185.7 1113,2179 1115,2172 1117,2164.6 1119,2156.5 1121,2148.3 1123,2142.6 1125,2140.9 1127,2141.7 1129,2143.7 1131,2146.3 1133,2149.1 1135,2152 1137,2154.6 1139,2156.5 1141,2157.6 1143,2157.7 1145,2157.2 1147,2156.1 1149,2154.6 1151,2152.8 1153,2150.6 1155,2148 1157,2145.2 1159,2142.2 1161,2139.1 1163,2135.8 1165,2132.3 1167,2128.6 1169,2124.1 1171,2118.6 1173,2112.6 1175,2106.2 1177,2099.6 1179,2092.4 1181,2086.3 1183,2083.8 1185,2084.6 1187,2087.3 1189,2090.7 1191,2094 1193,2096.4 1195,2097.4 1197,2096.7 1199,2094.7 1201,2092.1 1203,2089.6 1205,2087.8 1207,2087.3 1209,2088.4 1211,2091 1213,2094.4 1215,2098.2 1217,2101.8 1219,2104.6 1221,2106.1 1223,2106.6 1225,2106.7 1227,2106.7 1229,2106.7 1231,2106.7 1233,2106.7 1235,2106.7 1237,2106.7 1239,2106.7 1241,2106.7 1243,2106.7 1245,2106.7 1247,2106.7 1249,2106.7 1251,2106.7 1253,2106.7 1255,2106.7 1257,2106.7 1259,2106.7 1261,2106.7 1263,2106.5 1265,2106 1267,2104.8 1269,2103.1 1271,2101.2 1273,2099.4 1275,2097.9 1277,2097.1 1279,2097 1281,2097.5 1283,2098.6 1285,2099.9 1287,2101.4 1289,2103 1291,2104.4 1293,2105.5 1295,2106.3 1297,2106.6 1299,2106.5 1301,2106.1 1303,2105.5 1305,2104.8 1307,2104 1309,2103.2 1311,2102.3 1313,2101.4 1315,2100.6 1317,2099.9 1319,2099.1 1321,2098.3 1323,2097.5 1325,2097 1327,2097.4 1329,2099.6 1331,2103.6 1333,2108.5 1335,2113.2 1337,2116.8 1339,2119.4 1341,2121.6 1343,2123.6 1345,2125.5 1347,2127.2 1349,2128.8 1351,2130.3 1353,2131.8 1355,2133.2 1357,2134.6 1359,2136 1361,2137.5 1363,2139.1 1365,2140.6 1367,2142.1 1369,2143.2 1371,2143.8 1373,2143.9 1375,2143.7 1377,2143.3 1379,2142.8 1381,2142.1 1383,2141.3 1385,2140.3 1387,2139.2 1389,2138 1391,2136.7 1393,2135.3 1395,2133.9 1397,2132.3 1399,2130.7 1401,2129 1403,2127.3 1405,2125.5 1407,2123.7 1409,2121.9 1411,2120.1 1413,2118.3 1415,2116.5 1417,2114.7 1419,2113 1421,2111.2 1423,2109.6 1425,2108 1427,2106.5 1429,2105 1431,2103.7 1433,2102.4 1435,2101.3 1437,2100.3 1439,2099.3 1441,2098.5 1443,2097.7 1445,2096.9 1447,2096.2 1449,2095.5 1451,2094.9 1453,2094.3 1455,2093.7 1457,2093.1 1459,2092.6 1461,2092.1 1463,2091.5 1465,2091 1467,2090.5 1469,2090 1471,2089.4 1473,2088.8 1475,2088.3 1477,2087.7 1479,2087 1481,2086.3 1483,2085.6 1485,2084.9 1487,2084.1 1489,2083.2 1491,2082.3 1493,2081.3 1495,2080.3 1497,2079.2 1499,2077.8 1501,2076 1503,2073.6 1505,2070.6 1507,2067.3 1509,2064 1511,2060.9 1513,2058.2 1515,2056.3 1517,2055.3 1519,2055 1521,2055 1523,2055 1525,2055 1527,2055 1529,2055 1531,2055 1533,2055 1535,2055 1537,2055.2 1539,2055.7 1541,2056.7 1543,2058 1545,2059.6 1547,2061.5 1549,2063.5 1551,2065.7 1553,2067.8 1555,2069.9 1557,2071.9 1559,2073.6 1561,2075.2 1563,2076.6 1565,2078 1567,2079.4 1569,2080.8 1571,2082.2 1573,2083.6 1575,2084.9 1577,2086.2 1579,2087.5 1581,2088.7 1583,2089.9 1585,2091 1587,2092 1589,2093 1591,2093.9 1593,2094.8 1595,2095.6 1597,2096.4 1599,2097.2 1601,2098 1603,2098.7 1605,2099.3 1607,2099.7 1609,2099.9 1611,2099.6 1613,2098.8 1615,2097.1 1617,2094.8 1619,2091.9 1621,2088.5 1623,2084.7 1625,2080.6 1627,2076.3 1629,2072 1631,2067.6 1633,2063.3 1635,2059 1637,2054.2 1639,2048.7 1641,2042.5 1643,2035.8 1645,2028.8 1647,2021.7 1649,2014.8 1651,2008.2 1653,2002 1655,1996.5 1657,1992 1659,1988.5 1661,1986.3 1663,1985.6 1665,1986.7 1667,1989.7 1669,1994.2 1671,1999.9 1673,2006.5 1675,2013.5 1677,2020.5 1679,2027.4 1681,2034.3 1683,2041.8 1685,2049.9 1687,2058.4 1689,2066.8 1691,2074.7 1693,2081.7 1695,2087.3 1697,2091.8 1699,2095.8 1701,2099.5 1703,2103.2 1705,2106.8 1707,2110.2 1709,2113.4 1711,2116.5 1713,2119.4 1715,2122.2 1717,2124.7 1719,2126.9 1721,2128.9 1723,2130.7 1725,2132.2 1727,2133.3 1729,2134.2 1731,2134.7 1733,2134.9 1735,2135 1737,2135 1739,2135 1741,2135 1743,2135 1745,2135 1747,2135 1749,2134.9 1751,2134.1 1753,2132.2 1755,2129.1 1757,2124.8 1759,2119.7 1761,2114 1763,2107.9 1765,2101.8 1767,2095.7 1769,2090 1771,2084.9 1773,2080.7 1775,2077.6 1777,2075.8 1779,2075.1 1781,2075 1783,2075 1785,2075 1787,2075 1789,2075 1791,2075 1793,2075 1795,2075 1797,2075 1799,2074.9 1801,2074.6 1803,2073.9 1805,2072.9 1807,2071.4 1809,2069.6 1811,2067.5 1813,2065 1815,2062.3 1817,2059.4 1819,2056.2 1821,2052.8 1823,2049.3 1825,2045.7 1827,2042.9" fill="none" stroke="#ff0000" stroke-width="5.2" stroke-linejoin="round" stroke-linecap="butt"/>
<polyline points="297,2263.1 299,2263.8 301,2264.7 303,2265.6 305,2266.5 307,2267.3 309,2268.1 311,2268.9 313,2269.5 315,2270.1 317,2270.6 319,2271 321,2271.4 323,2271.6 325,2271.9 327,2272.1 329,2272.4 331,2272.6 333,2272.8 335,2273 337,2273.1 339,2273.3 341,2273.4 343,2273.6 345,2273.6 347,2273.7 349,2273.8 351,2273.8 353,2273.8 355,2273.8 357,2273.8 359,2273.8 361,2273.7 363,2273.7 365,2273.6 367,2273.6 369,2273.5 371,2273.4 373,2273.4 375,2273.3 377,2273.2 379,2273.1 381,2273 383,2272.9 385,2272.7 387,2272.5 389,2272.1 391,2271.7 393,2271.1 395,2270.5 397,2269.8 399,2269.1 401,2268.4 403,2267.6 405,2266.7 407,2265.7 409,2264.4 411,2262.8 413,2261.1 415,2259.5 417,2258 419,2256.8 421,2256 423,2255.7 425,2255.8 427,2256 429,2256.5 431,2256.9 433,2257.2 435,2257.4 437,2257.4 439,2256.8 441,2255.9 443,2254.5 445,2252.8 447,2250.7 449,2248.5 451,2246 453,2243.4 455,2240.8 457,2238 459,2235 461,2231.5 463,2227.4 465,2223 467,2218 469,2212.7 471,2206.7 473,2199.4 475,2190.7 477,2181.3 479,2172.2 481,2164.3 483,2157.8 485,2152.1 487,2147.4 489,2144.3 491,2143.4 493,2144.3 495,2146.5 497,2149.5 499,2153.6 501,2159.5 503,2166.9 505,2175.4 507,2183.8 509,2191.7 511,2199.3 513,2206.7 515,2213.8 517,2220.1 519,2225.3 521,2229.7 523,2233.7 525,2237.4 527,2240.9 529,2244.1 531,2247 533,2249.7 535,2252.1 537,2254.3 539,2256.2 541,2257.9 543,2259.4 545,2260.8 547,2262 549,2263.2 551,2264.3 553,2265.3 555,2266.3 557,2267.3 559,2268.2 561,2269.1 563,2270.2 565,2271.2 567,2271.9 569,2272.1 571,2271.3 573,2269.4 575,2266.7 577,2263.4 579,2260 581,2256.7 583,2253.9 585,2252.1 587,2251.3 589,2251.8 591,2253.1 593,2255.1 595,2257.4 597,2259.7 599,2261.9 601,2263.5 603,2264.6 605,2265.3 607,2266 609,2266.6 611,2267.1 613,2267.6 615,2268 617,2268.3 619,2268.5 621,2268.7 623,2268.7 625,2268.6 627,2268.3 629,2267.8 631,2267.2 633,2266.4 635,2265.4 637,2264.4 639,2263.2 641,2261.7 643,2259.5 645,2256.7 647,2253.2 649,2249.3 651,2244.6 653,2239.1 655,2232.7 657,2225.5 659,2217.3 661,2207.5 663,2196.3 665,2184.1 667,2171.5 669,2158 671,2143.3 673,2128.9 675,2116.8 677,2107.8 679,2100.9 681,2095.8 683,2093.5 685,2094.5 687,2098.5 689,2104.7 691,2112.9 693,2124 695,2138.4 697,2154.3 699,2170.1 701,2185.4 703,2199.7 705,2211.7 707,2220.8 709,2227.9 711,2233.2 713,2235.8 715,2236.2 717,2235.5 719,2234.6 721,2233.8 723,2233.4 725,2233.4 727,2233.5 729,2233.8 731,2234.1 733,2234.6 735,2235.3 737,2236.8 739,2239.7 741,2243.8 743,2248.2 745,2252.3 747,2256.3 749,2260.2 751,2263.6 753,2266.3 755,2268.4 757,2270.2 759,2271.9 761,2273.4 763,2274.6 765,2275.6 767,2276.2 769,2276.5 771,2276.7 773,2276.8 775,2276.9 777,2277 779,2277.1 781,2277.2 783,2277.2 785,2277.3 787,2277.4 789,2277.4 791,2277.5 793,2277.5 795,2277.6 797,2277.6 799,2277.6 801,2277.7 803,2277.7 805,2277.7 807,2277.7 809,2277.7 811,2277.7 813,2277.7 815,2277.7 817,2277.7 819,2277.7 821,2277.7 823,2277.7 825,2277.6 827,2277.6 829,2277.6 831,2277.6 833,2277.5 835,2277.5 837,2277.5 839,2277.4 841,2277.4 843,2277.3 845,2277.3 847,2277.2 849,2277.2 851,2277.1 853,2277.1 855,2277 857,2276.9 859,2276.9 861,2276.8 863,2276.7 865,2276.7 867,2276.6 869,2276.5 871,2276.4 873,2276.3 875,2276.2 877,2276.1 879,2276 881,2275.9 883,2275.8 885,2275.7 887,2275.5 889,2275.3 891,2274.9 893,2274.4 895,2273.8 897,2273.1 899,2272.3 901,2271.5 903,2270.7 905,2269.8 907,2269 909,2268.2 911,2267.4 913,2266.7 915,2266.2 917,2265.7 919,2265.2 921,2264.6 923,2264 925,2263.2 927,2262.3 929,2261.4 931,2260.4 933,2259.4 935,2258.3 937,2257.3 939,2256.3 941,2255.4 943,2254.6 945,2253.9 947,2253.3 949,2252.8 951,2252.5 953,2252.5 955,2252.8 957,2253.6 959,2254.8 961,2256.1 963,2257.5 965,2258.6 967,2259.4 969,2259.8 971,2259.7 973,2259.4 975,2258.8 977,2258 979,2257.1 981,2256.1 983,2255 985,2253.8 987,2252.6 989,2251.5 991,2250.3 993,2249.3 995,2248.3 997,2247.5 999,2246.9 1001,2246.4 1003,2246.1 1005,2245.9 1007,2245.7 1009,2245.6 1011,2245.5 1013,2245.4 1015,2245.3 1017,2245.2 1019,2245.1 1021,2245 1023,2244.9 1025,2244.7 1027,2244.6 1029,2244.3 1031,2244.1 1033,2243.7 1035,2243.2 1037,2242.6 1039,2241.9 1041,2241.1 1043,2240.3 1045,2239.3 1047,2238.4 1049,2237.4 1051,2236.3 1053,2235.3 1055,2234.2 1057,2233.1 1059,2231.9 1061,2230.5 1063,2229 1065,2227.4 1067,2225.8 1069,2224 1071,2222.2 1073,2220.4 1075,2218.5 1077,2216.7 1079,2215 1081,2213.3 1083,2211.7 1085,2210.2 1087,2208.9 1089,2207.8 1091,2206.7 1093,2205.7 1095,2204.6 1097,2203.5 1099,2202.2 1101,2200.7 1103,2198.9 1105,2196.8 1107,2193.8 1109,2189.3 1111,2183.4 1113,2176.5 1115,2169.3 1117,2161.8 1119,2153.5 1121,2145.2 1123,2139.4 1125,2137.6 1127,2138.4 1129,2140.2 1131,2142.7 1133,2145.4 1135,2148.2 1137,2150.6 1139,2152.4 1141,2153.4 1143,2153.5 1145,2153 1147,2152.1 1149,2150.7 1151,2148.9 1153,2146.8 1155,2144.4 1157,2141.7 1159,2138.9 1161,2135.8 1163,2132.7 1165,2129.4 1167,2125.7 1169,2121.4 1171,2116.1 1173,2110.1 1175,2103.5 1177,2095.7 1179,2086.6 1181,2079 1183,2075.8 1185,2076.3 1187,2078.9 1189,2082.5 1191,2086 1193,2088.4 1195,2089.3 1197,2088.6 1199,2086.9 1201,2084.6 1203,2082.5 1205,2081.1 1207,2081 1209,2082.4 1211,2085.1 1213,2088.5 1215,2092.4 1217,2096.1 1219,2099.2 1221,2101 1223,2101.5 1225,2101.7 1227,2101.7 1229,2101.7 1231,2101.7 1233,2101.8 1235,2101.8 1237,2101.8 1239,2101.8 1241,2101.8 1243,2101.8 1245,2101.8 1247,2101.8 1249,2101.8 1251,2101.8 1253,2101.8 1255,2101.8 1257,2101.8 1259,2101.8 1261,2101.8 1263,2101.7 1265,2101.2 1267,2100.2 1269,2098.8 1271,2097.2 1273,2095.7 1275,2094.4 1277,2093.7 1279,2093.6 1281,2094 1283,2094.7 1285,2095.8 1287,2097 1289,2098.2 1291,2099.2 1293,2100.1 1295,2100.6 1297,2100.7 1299,2100.4 1301,2099.9 1303,2099.2 1305,2098.3 1307,2097.4 1309,2096.5 1311,2095.7 1313,2094.9 1315,2094.3 1317,2093.6 1319,2093 1321,2092.4 1323,2091.8 1325,2091.5 1327,2092 1329,2094.1 1331,2097.9 1333,2102.7 1335,2107.3 1337,2111 1339,2114.1 1341,2117 1343,2119.6 1345,2121.8 1347,2123.7 1349,2125.3 1351,2126.7 1353,2128 1355,2129.2 1357,2130.5 1359,2131.8 1361,2133.3 1363,2134.9 1365,2136.5 1367,2138.1 1369,2139.3 1371,2140 1373,2140.1 1375,2139.9 1377,2139.6 1379,2139.1 1381,2138.4 1383,2137.6 1385,2136.7 1387,2135.6 1389,2134.5 1391,2133.2 1393,2131.9 1395,2130.4 1397,2128.9 1399,2127.3 1401,2125.7 1403,2124 1405,2122.3 1407,2120.5 1409,2118.7 1411,2117 1413,2115.2 1415,2113.4 1417,2111.7 1419,2109.9 1421,2108.2 1423,2106.6 1425,2105 1427,2103.4 1429,2102 1431,2100.6 1433,2099.3 1435,2098.1 1437,2097 1439,2096 1441,2095.1 1443,2094.2 1445,2093.3 1447,2092.5 1449,2091.7 1451,2091 1453,2090.2 1455,2089.5 1457,2088.8 1459,2088.2 1461,2087.5 1463,2086.8 1465,2086.2 1467,2085.5 1469,2084.8 1471,2084.1 1473,2083.4 1475,2082.7 1477,2081.9 1479,2081.1 1481,2080.3 1483,2079.5 1485,2078.6 1487,2077.6 1489,2076.6 1491,2075.6 1493,2074.5 1495,2073.3 1497,2072.1 1499,2070.6 1501,2068.7 1503,2066.2 1505,2063.2 1507,2059.9 1509,2056.7 1511,2053.6 1513,2051 1515,2049.2 1517,2048.2 1519,2047.9 1521,2047.9 1523,2048 1525,2048.1 1527,2048.2 1529,2048.3 1531,2048.5 1533,2048.6 1535,2048.8 1537,2049.1 1539,2049.8 1541,2050.8 1543,2052.1 1545,2053.7 1547,2055.6 1549,2057.5 1551,2059.6 1553,2061.7 1555,2063.8 1557,2065.7 1559,2067.5 1561,2069.2 1563,2070.8 1565,2072.3 1567,2073.9 1569,2075.6 1571,2077.2 1573,2078.8 1575,2080.5 1577,2082 1579,2083.6 1581,2085.1 1583,2086.5 1585,2087.9 1587,2089.2 1589,2090.3 1591,2091.4 1593,2092.3 1595,2093.2 1597,2094.1 1599,2094.9 1601,2095.7 1603,2096.4 1605,2097 1607,2097.4 1609,2097.6 1611,2097.4 1613,2096.4 1615,2094.6 1617,2092 1619,2088.8 1621,2085.1 1623,2080.9 1625,2076.5 1627,2071.8 1629,2067.1 1631,2062.5 1633,2057.9 1635,2053.4 1637,2048.5 1639,2042.8 1641,2036.6 1643,2029.9 1645,2022.9 1647,2015.9 1649,2009 1651,2002.5 1653,1996.4 1655,1991 1657,1986.5 1659,1983.1 1661,1980.9 1663,1980.2 1665,1981.4 1667,1984.5 1669,1989.2 1671,1995.1 1673,2001.9 1675,2009.1 1677,2016.3 1679,2023.4 1681,2030.4 1683,2038.1 1685,2046.4 1687,2055.1 1689,2063.6 1691,2071.6 1693,2078.6 1695,2084.3 1697,2088.9 1699,2092.8 1701,2096.5 1703,2100.2 1705,2103.7 1707,2107.1 1709,2110.4 1711,2113.4 1713,2116.3 1715,2119 1717,2121.5 1719,2123.7 1721,2125.7 1723,2127.4 1725,2128.9 1727,2130.1 1729,2130.9 1731,2131.4 1733,2131.6 1735,2131.7 1737,2131.6 1739,2131.6 1741,2131.5 1743,2131.4 1745,2131.3 1747,2131.2 1749,2130.9 1751,2130.1 1753,2128 1755,2124.8 1757,2120.4 1759,2115.3 1761,2109.5 1763,2103.4 1765,2097.2 1767,2091.1 1769,2085.4 1771,2080.3 1773,2076.1 1775,2073 1777,2071.2 1779,2070.5 1781,2070.4 1783,2070.5 1785,2070.6 1787,2070.8 1789,2070.9 1791,2071.1 1793,2071.2 1795,2071.3 1797,2071.4 1799,2071.3 1801,2071.1 1803,2070.4 1805,2069.3 1807,2067.9 1809,2066.1 1811,2064 1813,2061.6 1815,2058.9 1817,2056 1819,2052.9 1821,2049.5 1823,2046 1825,2042.4 1827,2039.6" fill="none" stroke="#00ff00" stroke-width="5.2" stroke-linejoin="round" stroke-linecap="butt"/>
<polyline points="297,2261.2 299,2261.9 301,2262.8 303,2263.8 305,2264.7 307,2265.5 309,2266.4 311,2267.1 313,2267.8 315,2268.4 317,2268.9 319,2269.3 321,2269.6 323,2269.9 325,2270.1 327,2270.3 329,2270.6 331,2270.8 333,2271 335,2271.1 337,2271.3 339,2271.4 341,2271.6 343,2271.7 345,2271.8 347,2271.8 349,2271.9 351,2271.9 353,2271.9 355,2271.9 357,2271.9 359,2271.9 361,2271.8 363,2271.8 365,2271.7 367,2271.7 369,2271.6 371,2271.6 373,2271.5 375,2271.4 377,2271.3 379,2271.2 381,2271.1 383,2271 385,2270.8 387,2270.6 389,2270.2 391,2269.8 393,2269.2 395,2268.6 397,2268 399,2267.2 401,2266.5 403,2265.7 405,2264.8 407,2263.8 409,2262.4 411,2260.8 413,2259.1 415,2257.4 417,2255.8 419,2254.6 421,2253.8 423,2253.4 425,2253.5 427,2253.8 429,2254.2 431,2254.6 433,2255 435,2255.2 437,2255.1 439,2254.5 441,2253.5 443,2252.1 445,2250.3 447,2248.2 449,2245.9 451,2243.3 453,2240.6 455,2237.9 457,2235 459,2231.8 461,2228.1 463,2223.9 465,2219.2 467,2214 469,2208.4 471,2202 473,2194.4 475,2185.2 477,2175.2 479,2165.6 481,2157.4 483,2150.8 485,2145.1 487,2140.4 489,2137.3 491,2136.5 493,2137.5 495,2139.8 497,2143 499,2147.2 501,2153.3 503,2161.1 505,2169.8 507,2178.6 509,2186.8 511,2194.6 513,2202.3 515,2209.7 517,2216.2 519,2221.5 521,2225.9 523,2229.8 525,2233.4 527,2236.8 529,2239.9 531,2242.7 533,2245.3 535,2247.6 537,2249.7 539,2251.6 541,2253.3 543,2254.8 545,2256.2 547,2257.5 549,2258.7 551,2259.8 553,2260.9 555,2261.8 557,2262.8 559,2263.7 561,2264.5 563,2265.4 565,2266.3 567,2267 569,2267.1 571,2266.3 573,2264.4 575,2261.7 577,2258.5 579,2255 581,2251.8 583,2249.1 585,2247.2 587,2246.5 589,2246.9 591,2248.2 593,2250 595,2252.2 597,2254.5 599,2256.5 601,2258 603,2259 605,2259.7 607,2260.3 609,2260.9 611,2261.3 613,2261.8 615,2262.1 617,2262.4 619,2262.7 621,2262.8 623,2262.8 625,2262.7 627,2262.5 629,2262 631,2261.5 633,2260.7 635,2259.9 637,2259 639,2257.9 641,2256.4 643,2254.2 645,2251.1 647,2247.5 649,2243.5 651,2238.8 653,2233.4 655,2227.3 657,2220.6 659,2213.3 661,2204.9 663,2195.6 665,2185.7 667,2175.7 669,2165.1 671,2153.8 673,2142.7 675,2133.2 677,2125.9 679,2120.2 681,2116.2 683,2114.3 685,2115.3 687,2118.8 689,2124.4 691,2131.6 693,2140.9 695,2152.5 697,2165.4 699,2178.6 701,2191.6 703,2203.9 705,2214 707,2221.5 709,2227.4 711,2231.8 713,2233.9 715,2233.9 717,2232.7 719,2231.1 721,2229.8 723,2229.2 725,2229.1 727,2229.2 729,2229.5 731,2229.9 733,2230.5 735,2231.2 737,2232.8 739,2235.9 741,2240.3 743,2244.9 745,2249.2 747,2253.4 749,2257.5 751,2261 753,2263.8 755,2266 757,2267.8 759,2269.5 761,2271 763,2272.3 765,2273.3 767,2273.9 769,2274.2 771,2274.4 773,2274.6 775,2274.7 777,2274.8 779,2274.9 781,2275 783,2275.1 785,2275.2 787,2275.3 789,2275.3 791,2275.4 793,2275.4 795,2275.5 797,2275.5 799,2275.6 801,2275.6 803,2275.6 805,2275.6 807,2275.6 809,2275.7 811,2275.7 813,2275.7 815,2275.6 817,2275.6 819,2275.6 821,2275.6 823,2275.6 825,2275.6 827,2275.6 829,2275.5 831,2275.5 833,2275.5 835,2275.4 837,2275.4 839,2275.3 841,2275.3 843,2275.3 845,2275.2 847,2275.1 849,2275.1 851,2275 853,2275 855,2274.9 857,2274.8 859,2274.7 861,2274.7 863,2274.6 865,2274.5 867,2274.4 869,2274.3 871,2274.2 873,2274.1 875,2274 877,2273.9 879,2273.8 881,2273.7 883,2273.5 885,2273.4 887,2273.2 889,2273 891,2272.6 893,2272.1 895,2271.4 897,2270.7 899,2269.9 901,2269 903,2268.1 905,2267.2 907,2266.3 909,2265.4 911,2264.6 913,2263.9 915,2263.2 917,2262.6 919,2262 921,2261.4 923,2260.7 925,2259.9 927,2259 929,2258.1 931,2257.1 933,2256.2 935,2255.2 937,2254.3 939,2253.4 941,2252.5 943,2251.8 945,2251.1 947,2250.6 949,2250.1 951,2249.9 953,2249.9 955,2250.2 957,2250.9 959,2252 961,2253.2 963,2254.4 965,2255.5 967,2256.2 969,2256.5 971,2256.4 973,2256.1 975,2255.5 977,2254.8 979,2253.9 981,2252.9 983,2251.8 985,2250.7 987,2249.6 989,2248.4 991,2247.3 993,2246.3 995,2245.4 997,2244.6 999,2244 1001,2243.5 1003,2243.3 1005,2243.1 1007,2242.9 1009,2242.8 1011,2242.7 1013,2242.6 1015,2242.5 1017,2242.4 1019,2242.3 1021,2242.2 1023,2242.1 1025,2242 1027,2241.8 1029,2241.6 1031,2241.4 1033,2241 1035,2240.5 1037,2239.9 1039,2239.2 1041,2238.4 1043,2237.5 1045,2236.5 1047,2235.5 1049,2234.5 1051,2233.4 1053,2232.3 1055,2231.2 1057,2230 1059,2228.8 1061,2227.4 1063,2225.9 1065,2224.3 1067,2222.6 1069,2220.8 1071,2219 1073,2217.1 1075,2215.2 1077,2213.4 1079,2211.6 1081,2209.9 1083,2208.3 1085,2206.8 1087,2205.5 1089,2204.4 1091,2203.3 1093,2202.3 1095,2201.2 1097,2200.1 1099,2198.8 1101,2197.3 1103,2195.6 1105,2193.4 1107,2190.3 1109,2185.7 1111,2179.6 1113,2172.5 1115,2165.1 1117,2157.3 1119,2148.8 1121,2140.3 1123,2134.4 1125,2132.5 1127,2133.1 1129,2134.8 1131,2137 1133,2139.5 1135,2142 1137,2144.2 1139,2145.9 1141,2146.8 1143,2146.9 1145,2146.5 1147,2145.6 1149,2144.3 1151,2142.7 1153,2140.8 1155,2138.6 1157,2136.1 1159,2133.5 1161,2130.7 1163,2127.7 1165,2124.6 1167,2121.2 1169,2117.2 1171,2112.1 1173,2106.2 1175,2099.1 1177,2089.6 1179,2077.2 1181,2067.5 1183,2063.1 1185,2063 1187,2065.7 1189,2069.5 1191,2073.2 1193,2075.6 1195,2076.4 1197,2075.8 1199,2074.4 1201,2072.7 1203,2071.2 1205,2070.5 1207,2071 1209,2072.9 1211,2075.7 1213,2079.2 1215,2083.1 1217,2087.1 1219,2090.6 1221,2092.7 1223,2093.5 1225,2093.7 1227,2093.7 1229,2093.8 1231,2093.9 1233,2093.9 1235,2094 1237,2094 1239,2094 1241,2094 1243,2094.1 1245,2094.1 1247,2094.1 1249,2094.1 1251,2094.1 1253,2094.1 1255,2094 1257,2094 1259,2094 1261,2094 1263,2093.9 1265,2093.5 1267,2092.9 1269,2091.9 1271,2090.8 1273,2089.7 1275,2088.8 1277,2088.3 1279,2088.1 1281,2088.3 1283,2088.7 1285,2089.2 1287,2089.9 1289,2090.5 1291,2091.1 1293,2091.5 1295,2091.6 1297,2091.4 1299,2090.8 1301,2090 1303,2089.1 1305,2088 1307,2087 1309,2086 1311,2085.2 1313,2084.6 1315,2084.1 1317,2083.7 1319,2083.4 1321,2083.1 1323,2082.8 1325,2082.8 1327,2083.4 1329,2085.4 1331,2089 1333,2093.4 1335,2097.8 1337,2101.9 1339,2105.8 1341,2109.7 1343,2113.2 1345,2116 1347,2118.1 1349,2119.6 1351,2120.8 1353,2121.9 1355,2122.9 1357,2124 1359,2125.2 1361,2126.5 1363,2128.2 1365,2130 1367,2131.8 1369,2133.1 1371,2133.9 1373,2134.1 1375,2134 1377,2133.6 1379,2133.2 1381,2132.5 1383,2131.8 1385,2130.9 1387,2129.9 1389,2128.8 1391,2127.6 1393,2126.3 1395,2124.9 1397,2123.5 1399,2122 1401,2120.4 1403,2118.8 1405,2117.1 1407,2115.5 1409,2113.7 1411,2112 1413,2110.3 1415,2108.5 1417,2106.8 1419,2105.1 1421,2103.4 1423,2101.8 1425,2100.1 1427,2098.6 1429,2097.1 1431,2095.6 1433,2094.3 1435,2093 1437,2091.8 1439,2090.7 1441,2089.6 1443,2088.6 1445,2087.6 1447,2086.6 1449,2085.7 1451,2084.7 1453,2083.8 1455,2082.9 1457,2082 1459,2081.1 1461,2080.2 1463,2079.3 1465,2078.5 1467,2077.6 1469,2076.7 1471,2075.7 1473,2074.8 1475,2073.8 1477,2072.8 1479,2071.8 1481,2070.8 1483,2069.7 1485,2068.6 1487,2067.4 1489,2066.2 1491,2064.9 1493,2063.6 1495,2062.2 1497,2060.8 1499,2059.2 1501,2057.1 1503,2054.6 1505,2051.5 1507,2048.3 1509,2045.1 1511,2042.1 1513,2039.6 1515,2037.8 1517,2036.8 1519,2036.6 1521,2036.7 1523,2036.9 1525,2037.1 1527,2037.4 1529,2037.8 1531,2038.2 1533,2038.6 1535,2039 1537,2039.5 1539,2040.3 1541,2041.4 1543,2042.7 1545,2044.3 1547,2046.1 1549,2048 1551,2050 1553,2052.1 1555,2054.1 1557,2056 1559,2057.9 1561,2059.7 1563,2061.4 1565,2063.3 1567,2065.2 1569,2067.2 1571,2069.3 1573,2071.3 1575,2073.4 1577,2075.5 1579,2077.5 1581,2079.4 1583,2081.3 1585,2083 1587,2084.6 1589,2086.1 1591,2087.3 1593,2088.4 1595,2089.4 1597,2090.3 1599,2091.2 1601,2092.1 1603,2092.8 1605,2093.5 1607,2093.9 1609,2094.1 1611,2093.8 1613,2092.6 1615,2090.6 1617,2087.6 1619,2083.9 1621,2079.7 1623,2075 1625,2069.9 1627,2064.7 1629,2059.5 1631,2054.3 1633,2049.4 1635,2044.6 1637,2039.4 1639,2033.6 1641,2027.3 1643,2020.6 1645,2013.7 1647,2006.7 1649,1999.9 1651,1993.4 1653,1987.5 1655,1982.2 1657,1977.8 1659,1974.4 1661,1972.3 1663,1971.7 1665,1973 1667,1976.2 1669,1981.1 1671,1987.4 1673,1994.5 1675,2002 1677,2009.6 1679,2017 1681,2024.3 1683,2032.2 1685,2040.8 1687,2049.7 1689,2058.5 1691,2066.6 1693,2073.8 1695,2079.6 1697,2084.1 1699,2088 1701,2091.8 1703,2095.4 1705,2098.9 1707,2102.3 1709,2105.5 1711,2108.5 1713,2111.4 1715,2114 1717,2116.4 1719,2118.6 1721,2120.6 1723,2122.3 1725,2123.7 1727,2124.9 1729,2125.7 1731,2126.2 1733,2126.4 1735,2126.4 1737,2126.3 1739,2126.2 1741,2126 1743,2125.7 1745,2125.4 1747,2125.1 1749,2124.6 1751,2123.6 1753,2121.4 1755,2118 1757,2113.5 1759,2108.2 1761,2102.4 1763,2096.2 1765,2089.9 1767,2083.8 1769,2078.1 1771,2073 1773,2068.8 1775,2065.7 1777,2063.8 1779,2063.2 1781,2063.2 1783,2063.4 1785,2063.7 1787,2064.1 1789,2064.5 1791,2064.9 1793,2065.2 1795,2065.5 1797,2065.7 1799,2065.7 1801,2065.4 1803,2064.8 1805,2063.7 1807,2062.3 1809,2060.6 1811,2058.5 1813,2056.2 1815,2053.6 1817,2050.7 1819,2047.5 1821,2044.2 1823,2040.7 1825,2037.1 1827,2034.2" fill="none" stroke="#0000ff" stroke-width="5.2" stroke-linejoin="round" stroke-linecap="butt"/>
<polyline points="297,2259.2 299,2260 301,2260.9 303,2261.9 305,2262.8 307,2263.7 309,2264.5 311,2265.3 313,2266 315,2266.6 317,2267.1 319,2267.5 321,2267.8 323,2268.1 325,2268.3 327,2268.5 329,2268.7 331,2268.9 333,2269.1 335,2269.2 337,2269.4 339,2269.5 341,2269.6 343,2269.7 345,2269.8 347,2269.9 349,2269.9 351,2270 353,2270 355,2269.9 357,2269.9 359,2269.9 361,2269.9 363,2269.8 365,2269.8 367,2269.7 369,2269.7 371,2269.6 373,2269.5 375,2269.4 377,2269.3 379,2269.2 381,2269.1 383,2269 385,2268.9 387,2268.6 389,2268.3 391,2267.8 393,2267.3 395,2266.7 397,2266 399,2265.3 401,2264.5 403,2263.8 405,2262.9 407,2261.8 409,2260.4 411,2258.7 413,2256.9 415,2255.2 417,2253.6 419,2252.3 421,2251.4 423,2251 425,2251.1 427,2251.4 429,2251.8 431,2252.2 433,2252.6 435,2252.8 437,2252.7 439,2252.2 441,2251.1 443,2249.7 445,2247.8 447,2245.6 449,2243.2 451,2240.5 453,2237.7 455,2234.8 457,2231.8 459,2228.5 461,2224.6 463,2220.2 465,2215.3 467,2209.8 469,2203.9 471,2197.2 473,2189.1 475,2179.4 477,2168.9 479,2158.8 481,2150.3 483,2143.6 485,2137.9 487,2133.2 489,2130.2 491,2129.4 493,2130.5 495,2132.9 497,2136.2 499,2140.6 501,2147 503,2155 505,2164.1 507,2173.2 509,2181.7 511,2189.8 513,2197.8 515,2205.5 517,2212.2 519,2217.6 521,2221.9 523,2225.8 525,2229.3 527,2232.6 529,2235.5 531,2238.3 533,2240.8 535,2243 537,2245 539,2246.9 541,2248.5 543,2250 545,2251.5 547,2252.8 549,2254 551,2255.2 553,2256.2 555,2257.2 557,2258.1 559,2259 561,2259.8 563,2260.6 565,2261.3 567,2261.8 569,2261.9 571,2261.1 573,2259.3 575,2256.6 577,2253.3 579,2249.9 581,2246.7 583,2244 585,2242.1 587,2241.4 589,2241.8 591,2243 593,2244.8 595,2246.9 597,2249 599,2250.9 601,2252.4 603,2253.3 605,2253.9 607,2254.4 609,2254.9 611,2255.4 613,2255.8 615,2256.1 617,2256.3 619,2256.5 621,2256.7 623,2256.7 625,2256.6 627,2256.4 629,2256 631,2255.5 633,2254.9 635,2254.2 637,2253.4 639,2252.4 641,2250.9 643,2248.6 645,2245.4 647,2241.6 649,2237.4 651,2232.7 653,2227.4 655,2221.6 657,2215.5 659,2209.1 661,2202.2 663,2194.8 665,2187.4 667,2180 669,2172.5 671,2164.7 673,2156.9 675,2150.1 677,2144.6 679,2140.3 681,2137.3 683,2135.9 685,2136.8 687,2139.9 689,2144.7 691,2150.9 693,2158.5 695,2167.3 697,2177 699,2187.4 701,2198.1 703,2208.2 705,2216.4 707,2222.3 709,2227 711,2230.3 713,2231.9 715,2231.5 717,2229.8 719,2227.5 721,2225.7 723,2224.8 725,2224.6 727,2224.8 729,2225.1 731,2225.6 733,2226.2 735,2227 737,2228.7 739,2232 741,2236.6 743,2241.4 745,2245.9 747,2250.4 749,2254.7 751,2258.4 753,2261.3 755,2263.5 757,2265.4 759,2267.1 761,2268.6 763,2269.9 765,2270.9 767,2271.5 769,2271.9 771,2272.1 773,2272.2 775,2272.4 777,2272.5 779,2272.6 781,2272.8 783,2272.9 785,2273 787,2273 789,2273.1 791,2273.2 793,2273.3 795,2273.3 797,2273.4 799,2273.4 801,2273.5 803,2273.5 805,2273.5 807,2273.5 809,2273.5 811,2273.5 813,2273.5 815,2273.5 817,2273.5 819,2273.5 821,2273.5 823,2273.5 825,2273.4 827,2273.4 829,2273.4 831,2273.4 833,2273.3 835,2273.3 837,2273.2 839,2273.2 841,2273.1 843,2273.1 845,2273 847,2273 849,2272.9 851,2272.8 853,2272.8 855,2272.7 857,2272.6 859,2272.5 861,2272.4 863,2272.3 865,2272.2 867,2272.2 869,2272 871,2271.9 873,2271.8 875,2271.7 877,2271.6 879,2271.5 881,2271.3 883,2271.2 885,2271.1 887,2270.9 889,2270.6 891,2270.2 893,2269.7 895,2269 897,2268.2 899,2267.4 901,2266.4 903,2265.5 905,2264.5 907,2263.6 909,2262.6 911,2261.7 913,2260.9 915,2260.1 917,2259.4 919,2258.7 921,2258 923,2257.2 925,2256.4 927,2255.6 929,2254.7 931,2253.8 933,2252.9 935,2252 937,2251.1 939,2250.3 941,2249.5 943,2248.8 945,2248.2 947,2247.7 949,2247.4 951,2247.2 953,2247.1 955,2247.4 957,2248.1 959,2249 961,2250.1 963,2251.2 965,2252.2 967,2252.8 969,2253.1 971,2253 973,2252.7 975,2252.1 977,2251.4 979,2250.6 981,2249.6 983,2248.6 985,2247.5 987,2246.4 989,2245.3 991,2244.2 993,2243.2 995,2242.3 997,2241.6 999,2241 1001,2240.6 1003,2240.3 1005,2240.1 1007,2240 1009,2239.9 1011,2239.8 1013,2239.7 1015,2239.6 1017,2239.5 1019,2239.5 1021,2239.4 1023,2239.3 1025,2239.2 1027,2239 1029,2238.8 1031,2238.6 1033,2238.2 1035,2237.7 1037,2237.1 1039,2236.3 1041,2235.5 1043,2234.6 1045,2233.6 1047,2232.6 1049,2231.5 1051,2230.4 1053,2229.2 1055,2228.1 1057,2226.9 1059,2225.6 1061,2224.2 1063,2222.7 1065,2221 1067,2219.3 1069,2217.5 1071,2215.6 1073,2213.7 1075,2211.8 1077,2210 1079,2208.2 1081,2206.4 1083,2204.8 1085,2203.3 1087,2202 1089,2200.9 1091,2199.8 1093,2198.8 1095,2197.7 1097,2196.6 1099,2195.3 1101,2193.8 1103,2192 1105,2189.9 1107,2186.7 1109,2182 1111,2175.7 1113,2168.4 1115,2160.7 1117,2152.7 1119,2144 1121,2135.2 1123,2129.1 1125,2127.1 1127,2127.6 1129,2129.2 1131,2131.2 1133,2133.4 1135,2135.7 1137,2137.6 1139,2139.1 1141,2139.9 1143,2140.1 1145,2139.7 1147,2138.9 1149,2137.7 1151,2136.3 1153,2134.5 1155,2132.6 1157,2130.3 1159,2127.9 1161,2125.3 1163,2122.6 1165,2119.7 1167,2116.5 1169,2112.8 1171,2108 1173,2102.1 1175,2094.6 1177,2083.3 1179,2067.5 1181,2055.4 1183,2049.9 1185,2049.3 1187,2051.9 1189,2056 1191,2060 1193,2062.4 1195,2063 1197,2062.5 1199,2061.5 1201,2060.3 1203,2059.5 1205,2059.5 1207,2060.7 1209,2063 1211,2066 1213,2069.4 1215,2073.4 1217,2077.8 1219,2081.7 1221,2084.2 1223,2085.1 1225,2085.3 1227,2085.5 1229,2085.6 1231,2085.7 1233,2085.8 1235,2085.9 1237,2085.9 1239,2086 1241,2086 1243,2086 1245,2086 1247,2086 1249,2086 1251,2086 1253,2086 1255,2086 1257,2086 1259,2085.9 1261,2085.9 1263,2085.8 1265,2085.6 1267,2085.3 1269,2084.7 1271,2084.2 1273,2083.6 1275,2083.1 1277,2082.7 1279,2082.4 1281,2082.3 1283,2082.4 1285,2082.4 1287,2082.5 1289,2082.6 1291,2082.6 1293,2082.5 1295,2082.3 1297,2081.7 1299,2080.9 1301,2079.8 1303,2078.6 1305,2077.3 1307,2076.1 1309,2075.1 1311,2074.3 1313,2073.8 1315,2073.6 1317,2073.5 1319,2073.4 1321,2073.4 1323,2073.5 1325,2073.7 1327,2074.4 1329,2076.4 1331,2079.7 1333,2083.7 1335,2088 1337,2092.4 1339,2097.2 1341,2102 1343,2106.5 1345,2110 1347,2112.3 1349,2113.7 1351,2114.7 1353,2115.6 1355,2116.4 1357,2117.3 1359,2118.2 1361,2119.5 1363,2121.3 1365,2123.2 1367,2125.2 1369,2126.8 1371,2127.7 1373,2127.9 1375,2127.8 1377,2127.5 1379,2127 1381,2126.4 1383,2125.7 1385,2124.9 1387,2124 1389,2122.9 1391,2121.8 1393,2120.6 1395,2119.3 1397,2117.9 1399,2116.5 1401,2115 1403,2113.4 1405,2111.8 1407,2110.2 1409,2108.6 1411,2106.9 1413,2105.2 1415,2103.5 1417,2101.8 1419,2100.1 1421,2098.4 1423,2096.8 1425,2095.1 1427,2093.6 1429,2092 1431,2090.5 1433,2089.1 1435,2087.7 1437,2086.4 1439,2085.2 1441,2084 1443,2082.8 1445,2081.6 1447,2080.5 1449,2079.4 1451,2078.2 1453,2077.1 1455,2076 1457,2074.9 1459,2073.8 1461,2072.7 1463,2071.6 1465,2070.5 1467,2069.3 1469,2068.2 1471,2067 1473,2065.8 1475,2064.6 1477,2063.4 1479,2062.1 1481,2060.8 1483,2059.5 1485,2058.2 1487,2056.8 1489,2055.3 1491,2053.8 1493,2052.3 1495,2050.7 1497,2049.1 1499,2047.3 1501,2045.1 1503,2042.5 1505,2039.4 1507,2036.2 1509,2033 1511,2030.1 1513,2027.7 1515,2026 1517,2025.1 1519,2024.9 1521,2025 1523,2025.3 1525,2025.7 1527,2026.2 1529,2026.8 1531,2027.4 1533,2028.1 1535,2028.8 1537,2029.5 1539,2030.5 1541,2031.6 1543,2033 1545,2034.6 1547,2036.3 1549,2038.1 1551,2040.1 1553,2042 1555,2044 1557,2046 1559,2047.9 1561,2049.8 1563,2051.8 1565,2053.9 1567,2056.2 1569,2058.6 1571,2061.1 1573,2063.6 1575,2066.1 1577,2068.6 1579,2071.1 1581,2073.5 1583,2075.8 1585,2077.9 1587,2079.9 1589,2081.6 1591,2083.1 1593,2084.4 1595,2085.5 1597,2086.5 1599,2087.4 1601,2088.3 1603,2089.1 1605,2089.8 1607,2090.2 1609,2090.4 1611,2090 1613,2088.8 1615,2086.4 1617,2083 1619,2078.9 1621,2074.1 1623,2068.8 1625,2063.1 1627,2057.3 1629,2051.5 1631,2045.9 1633,2040.5 1635,2035.4 1637,2030 1639,2024.1 1641,2017.7 1643,2010.9 1645,2004 1647,1997.1 1649,1990.4 1651,1984 1653,1978.2 1655,1973 1657,1968.7 1659,1965.5 1661,1963.4 1663,1962.9 1665,1964.2 1667,1967.6 1669,1972.8 1671,1979.4 1673,1986.8 1675,1994.8 1677,2002.7 1679,2010.4 1681,2018 1683,2026.1 1685,2035 1687,2044.1 1689,2053.1 1691,2061.5 1693,2068.8 1695,2074.7 1697,2079.2 1699,2083.1 1701,2086.8 1703,2090.4 1705,2093.9 1707,2097.2 1709,2100.4 1711,2103.4 1713,2106.2 1715,2108.8 1717,2111.2 1719,2113.4 1721,2115.3 1723,2117 1725,2118.4 1727,2119.5 1729,2120.3 1731,2120.8 1733,2121 1735,2120.9 1737,2120.8 1739,2120.5 1741,2120.2 1743,2119.8 1745,2119.3 1747,2118.8 1749,2118.1 1751,2116.8 1753,2114.5 1755,2110.9 1757,2106.3 1759,2100.9 1761,2094.9 1763,2088.7 1765,2082.4 1767,2076.2 1769,2070.5 1771,2065.4 1773,2061.2 1775,2058 1777,2056.2 1779,2055.6 1781,2055.7 1783,2056.1 1785,2056.6 1787,2057.1 1789,2057.8 1791,2058.4 1793,2059 1795,2059.4 1797,2059.7 1799,2059.8 1801,2059.5 1803,2058.9 1805,2057.9 1807,2056.6 1809,2054.9 1811,2052.9 1813,2050.6 1815,2048 1817,2045.1 1819,2042 1821,2038.7 1823,2035.2 1825,2031.6 1827,2028.7" fill="none" stroke="#ff00ff" stroke-width="5.2" stroke-linejoin="round" stroke-linecap="butt"/>
<polyline points="297,2257.3 299,2258 301,2259 303,2260 305,2260.9 307,2261.8 309,2262.7 311,2263.4 313,2264.1 315,2264.8 317,2265.3 319,2265.7 321,2266 323,2266.2 325,2266.4 327,2266.6 329,2266.8 331,2267 333,2267.2 335,2267.3 337,2267.5 339,2267.6 341,2267.7 343,2267.8 345,2267.9 347,2267.9 349,2268 351,2268 353,2268 355,2268 357,2268 359,2267.9 361,2267.9 363,2267.9 365,2267.8 367,2267.8 369,2267.7 371,2267.6 373,2267.6 375,2267.5 377,2267.4 379,2267.3 381,2267.2 383,2267.1 385,2266.9 387,2266.7 389,2266.3 391,2265.9 393,2265.3 395,2264.7 397,2264.1 399,2263.4 401,2262.6 403,2261.8 405,2260.9 407,2259.8 409,2258.3 411,2256.6 413,2254.8 415,2253 417,2251.3 419,2249.9 421,2249 423,2248.7 425,2248.7 427,2249 429,2249.4 431,2249.9 433,2250.3 435,2250.5 437,2250.4 439,2249.8 441,2248.7 443,2247.2 445,2245.3 447,2243 449,2240.5 451,2237.7 453,2234.8 455,2231.8 457,2228.7 459,2225.2 461,2221.2 463,2216.6 465,2211.4 467,2205.7 469,2199.4 471,2192.4 473,2183.9 475,2173.6 477,2162.6 479,2152 481,2143.2 483,2136.3 485,2130.6 487,2126 489,2123 491,2122.2 493,2123.4 495,2125.9 497,2129.4 499,2134 501,2140.6 503,2149 505,2158.3 507,2167.7 509,2176.6 511,2185 513,2193.3 515,2201.2 517,2208.1 519,2213.6 521,2218 523,2221.7 525,2225.2 527,2228.3 529,2231.2 531,2233.8 533,2236.2 535,2238.4 537,2240.3 539,2242.1 541,2243.8 543,2245.3 545,2246.7 547,2248.1 549,2249.3 551,2250.5 553,2251.6 555,2252.6 557,2253.5 559,2254.3 561,2255 563,2255.7 565,2256.3 567,2256.7 569,2256.7 571,2255.9 573,2254.1 575,2251.4 577,2248.2 579,2244.8 581,2241.6 583,2238.9 585,2237.1 587,2236.4 589,2236.7 591,2237.9 593,2239.6 595,2241.5 597,2243.5 599,2245.3 601,2246.7 603,2247.5 605,2248.1 607,2248.6 609,2249 611,2249.4 613,2249.7 615,2250 617,2250.3 619,2250.4 621,2250.5 623,2250.6 625,2250.5 627,2250.3 629,2250 631,2249.6 633,2249.1 635,2248.5 637,2247.7 639,2246.8 641,2245.4 643,2243 645,2239.6 647,2235.7 649,2231.4 651,2226.7 653,2221.4 655,2215.9 657,2210.3 659,2204.9 661,2199.5 663,2194.1 665,2189 667,2184.3 669,2179.9 671,2175.5 673,2171.2 675,2167.1 677,2163.4 679,2160.4 681,2158.4 683,2157.6 685,2158.4 687,2160.9 689,2165.1 691,2170.2 693,2176 695,2182 697,2188.5 699,2196.2 701,2204.6 703,2212.5 705,2218.7 707,2223.2 709,2226.5 711,2228.9 713,2229.9 715,2229.1 717,2226.8 719,2224 721,2221.6 723,2220.4 725,2220.2 727,2220.4 729,2220.7 731,2221.2 733,2221.9 735,2222.8 737,2224.6 739,2228.1 741,2232.9 743,2237.9 745,2242.7 747,2247.4 749,2251.9 751,2255.8 753,2258.7 755,2261 757,2262.9 759,2264.7 761,2266.2 763,2267.5 765,2268.4 767,2269.1 769,2269.5 771,2269.7 773,2269.9 775,2270.1 777,2270.2 779,2270.4 781,2270.5 783,2270.6 785,2270.7 787,2270.8 789,2270.9 791,2271 793,2271.1 795,2271.2 797,2271.2 799,2271.3 801,2271.3 803,2271.3 805,2271.4 807,2271.4 809,2271.4 811,2271.4 813,2271.4 815,2271.4 817,2271.4 819,2271.4 821,2271.4 823,2271.3 825,2271.3 827,2271.3 829,2271.2 831,2271.2 833,2271.2 835,2271.1 837,2271.1 839,2271 841,2271 843,2270.9 845,2270.9 847,2270.8 849,2270.7 851,2270.6 853,2270.6 855,2270.5 857,2270.4 859,2270.3 861,2270.2 863,2270.1 865,2270 867,2269.9 869,2269.8 871,2269.7 873,2269.6 875,2269.4 877,2269.3 879,2269.2 881,2269 883,2268.9 885,2268.7 887,2268.5 889,2268.3 891,2267.8 893,2267.2 895,2266.5 897,2265.7 899,2264.8 901,2263.9 903,2262.9 905,2261.8 907,2260.8 909,2259.8 911,2258.8 913,2257.9 915,2257 917,2256.2 919,2255.4 921,2254.6 923,2253.8 925,2253 927,2252.2 929,2251.3 931,2250.4 933,2249.6 935,2248.7 937,2248 939,2247.2 941,2246.5 943,2245.9 945,2245.4 947,2244.9 949,2244.6 951,2244.4 953,2244.4 955,2244.7 957,2245.2 959,2246.1 961,2247.1 963,2248 965,2248.9 967,2249.4 969,2249.7 971,2249.6 973,2249.3 975,2248.7 977,2248.1 979,2247.2 981,2246.3 983,2245.3 985,2244.2 987,2243.2 989,2242.1 991,2241.1 993,2240.1 995,2239.3 997,2238.5 999,2238 1001,2237.6 1003,2237.3 1005,2237.2 1007,2237.1 1009,2237 1011,2236.9 1013,2236.8 1015,2236.7 1017,2236.7 1019,2236.6 1021,2236.5 1023,2236.4 1025,2236.3 1027,2236.2 1029,2236 1031,2235.8 1033,2235.4 1035,2234.9 1037,2234.2 1039,2233.5 1041,2232.6 1043,2231.7 1045,2230.7 1047,2229.6 1049,2228.5 1051,2227.3 1053,2226.2 1055,2225 1057,2223.8 1059,2222.5 1061,2221.1 1063,2219.5 1065,2217.8 1067,2216 1069,2214.2 1071,2212.3 1073,2210.3 1075,2208.4 1077,2206.5 1079,2204.7 1081,2203 1083,2201.3 1085,2199.8 1087,2198.5 1089,2197.4 1091,2196.3 1093,2195.3 1095,2194.2 1097,2193.1 1099,2191.8 1101,2190.3 1103,2188.5 1105,2186.3 1107,2183.2 1109,2178.3 1111,2171.8 1113,2164.2 1115,2156.3 1117,2148.1 1119,2139.1 1121,2130.1 1123,2123.9 1125,2121.8 1127,2122.2 1129,2123.5 1131,2125.3 1133,2127.3 1135,2129.3 1137,2131 1139,2132.4 1141,2133.1 1143,2133.2 1145,2132.9 1147,2132.2 1149,2131.2 1151,2129.9 1153,2128.3 1155,2126.5 1157,2124.5 1159,2122.3 1161,2120 1163,2117.5 1165,2114.8 1167,2111.9 1169,2108.4 1171,2103.9 1173,2098.1 1175,2090.1 1177,2076.9 1179,2057.9 1181,2043.4 1183,2036.8 1185,2035.6 1187,2038.2 1189,2042.6 1191,2046.8 1193,2049.2 1195,2049.6 1197,2049.2 1199,2048.5 1201,2047.9 1203,2047.8 1205,2048.5 1207,2050.3 1209,2053 1211,2056.2 1213,2059.7 1215,2063.8 1217,2068.5 1219,2072.8 1221,2075.6 1223,2076.7 1225,2077 1227,2077.2 1229,2077.4 1231,2077.5 1233,2077.7 1235,2077.8 1237,2077.8 1239,2077.9 1241,2077.9 1243,2078 1245,2078 1247,2078 1249,2078 1251,2078 1253,2078 1255,2077.9 1257,2077.9 1259,2077.9 1261,2077.8 1263,2077.8 1265,2077.7 1267,2077.7 1269,2077.6 1271,2077.5 1273,2077.4 1275,2077.3 1277,2077 1279,2076.8 1281,2076.4 1283,2076.1 1285,2075.6 1287,2075.2 1289,2074.7 1291,2074.1 1293,2073.6 1295,2072.9 1297,2072.1 1299,2071 1301,2069.6 1303,2068.1 1305,2066.6 1307,2065.3 1309,2064.2 1311,2063.4 1313,2063.1 1315,2063.1 1317,2063.2 1319,2063.4 1321,2063.7 1323,2064.1 1325,2064.6 1327,2065.5 1329,2067.3 1331,2070.3 1333,2074.1 1335,2078.2 1337,2083 1339,2088.6 1341,2094.4 1343,2099.9 1345,2104 1347,2106.5 1349,2107.9 1351,2108.7 1353,2109.3 1355,2109.9 1357,2110.5 1359,2111.3 1361,2112.6 1363,2114.3 1365,2116.5 1367,2118.6 1369,2120.4 1371,2121.4 1373,2121.7 1375,2121.6 1377,2121.3 1379,2120.9 1381,2120.3 1383,2119.7 1385,2118.9 1387,2118 1389,2117 1391,2116 1393,2114.8 1395,2113.6 1397,2112.3 1399,2110.9 1401,2109.5 1403,2108 1405,2106.5 1407,2105 1409,2103.4 1411,2101.7 1413,2100.1 1415,2098.4 1417,2096.8 1419,2095.1 1421,2093.4 1423,2091.8 1425,2090.1 1427,2088.5 1429,2087 1431,2085.4 1433,2083.9 1435,2082.5 1437,2081.1 1439,2079.7 1441,2078.4 1443,2077 1445,2075.7 1447,2074.4 1449,2073.1 1451,2071.8 1453,2070.5 1455,2069.1 1457,2067.8 1459,2066.5 1461,2065.2 1463,2063.8 1465,2062.5 1467,2061.1 1469,2059.7 1471,2058.3 1473,2056.9 1475,2055.4 1477,2054 1479,2052.5 1481,2050.9 1483,2049.4 1485,2047.8 1487,2046.1 1489,2044.5 1491,2042.8 1493,2041 1495,2039.2 1497,2037.4 1499,2035.4 1501,2033.1 1503,2030.4 1505,2027.3 1507,2024.1 1509,2021 1511,2018.2 1513,2015.8 1515,2014.2 1517,2013.3 1519,2013.1 1521,2013.4 1523,2013.8 1525,2014.4 1527,2015.1 1529,2015.8 1531,2016.7 1533,2017.6 1535,2018.5 1537,2019.5 1539,2020.6 1541,2021.9 1543,2023.3 1545,2024.8 1547,2026.5 1549,2028.3 1551,2030.1 1553,2032 1555,2033.9 1557,2035.9 1559,2037.9 1561,2040 1563,2042.1 1565,2044.6 1567,2047.2 1569,2049.9 1571,2052.8 1573,2055.8 1575,2058.8 1577,2061.8 1579,2064.8 1581,2067.6 1583,2070.3 1585,2072.9 1587,2075.2 1589,2077.2 1591,2078.9 1593,2080.3 1595,2081.5 1597,2082.6 1599,2083.6 1601,2084.6 1603,2085.4 1605,2086.1 1607,2086.5 1609,2086.7 1611,2086.3 1613,2084.9 1615,2082.2 1617,2078.5 1619,2073.8 1621,2068.5 1623,2062.6 1625,2056.3 1627,2050 1629,2043.6 1631,2037.5 1633,2031.7 1635,2026.2 1637,2020.6 1639,2014.5 1641,2008 1643,2001.2 1645,1994.4 1647,1987.5 1649,1980.9 1651,1974.7 1653,1968.9 1655,1963.9 1657,1959.7 1659,1956.5 1661,1954.6 1663,1954 1665,1955.5 1667,1959.1 1669,1964.5 1671,1971.4 1673,1979.2 1675,1987.5 1677,1995.8 1679,2003.7 1681,2011.6 1683,2020.1 1685,2029.2 1687,2038.6 1689,2047.8 1691,2056.4 1693,2063.8 1695,2069.7 1697,2074.3 1699,2078.2 1701,2081.9 1703,2085.5 1705,2088.9 1707,2092.2 1709,2095.3 1711,2098.3 1713,2101.1 1715,2103.6 1717,2106 1719,2108.1 1721,2110 1723,2111.6 1725,2113 1727,2114.1 1729,2114.9 1731,2115.3 1733,2115.5 1735,2115.5 1737,2115.3 1739,2114.9 1741,2114.5 1743,2113.9 1745,2113.2 1747,2112.5 1749,2111.6 1751,2110.1 1753,2107.5 1755,2103.8 1757,2099 1759,2093.5 1761,2087.5 1763,2081.2 1765,2074.8 1767,2068.7 1769,2062.9 1771,2057.8 1773,2053.5 1775,2050.4 1777,2048.6 1779,2048 1781,2048.2 1783,2048.7 1785,2049.4 1787,2050.2 1789,2051.1 1791,2051.9 1793,2052.7 1795,2053.3 1797,2053.8 1799,2053.9 1801,2053.7 1803,2053.1 1805,2052.1 1807,2050.8 1809,2049.2 1811,2047.2 1813,2044.9 1815,2042.4 1817,2039.6 1819,2036.5 1821,2033.2 1823,2029.7 1825,2026 1827,2023.2" fill="none" stroke="#808000" stroke-width="5.2" stroke-linejoin="round" stroke-linecap="butt"/>
<line x1="1805.9" y1="2307.5" x2="1805.9" y2="2292" stroke="#000" stroke-width="5"/>
<line x1="1782.3" y1="2307.5" x2="1782.3" y2="2292" stroke="#000" stroke-width="5"/>
<line x1="1758.7" y1="2307.5" x2="1758.7" y2="2292" stroke="#000" stroke-width="5"/>
<line x1="1735" y1="2307.5" x2="1735" y2="2292" stroke="#000" stroke-width="5"/>
<line x1="1711.4" y1="2307.5" x2="1711.4" y2="2292" stroke="#000" stroke-width="5"/>
<line x1="1687.8" y1="2307.5" x2="1687.8" y2="2292" stroke="#000" stroke-width="5"/>
<line x1="1664.2" y1="2307.5" x2="1664.2" y2="2292" stroke="#000" stroke-width="5"/>
<line x1="1640.6" y1="2307.5" x2="1640.6" y2="2292" stroke="#000" stroke-width="5"/>
<line x1="1617" y1="2307.5" x2="1617" y2="2292" stroke="#000" stroke-width="5"/>
<line x1="1593.3" y1="2307.5" x2="1593.3" y2="2278" stroke="#000" stroke-width="5"/>
<line x1="1569.7" y1="2307.5" x2="1569.7" y2="2292" stroke="#000" stroke-width="5"/>
<line x1="1546.1" y1="2307.5" x2="1546.1" y2="2292" stroke="#000" stroke-width="5"/>
<line x1="1522.5" y1="2307.5" x2="1522.5" y2="2292" stroke="#000" stroke-width="5"/>
<line x1="1498.9" y1="2307.5" x2="1498.9" y2="2292" stroke="#000" stroke-width="5"/>
<line x1="1475.3" y1="2307.5" x2="1475.3" y2="2292" stroke="#000" stroke-width="5"/>
<line x1="1451.7" y1="2307.5" x2="1451.7" y2="2292" stroke="#000" stroke-width="5"/>
<line x1="1428" y1="2307.5" x2="1428" y2="2292" stroke="#000" stroke-width="5"/>
<line x1="1404.4" y1="2307.5" x2="1404.4" y2="2292" stroke="#000" stroke-width="5"/>
<line x1="1380.8" y1="2307.5" x2="1380.8" y2="2292" stroke="#000" stroke-width="5"/>
<line x1="1357.2" y1="2307.5" x2="1357.2" y2="2278" stroke="#000" stroke-width="5"/>
<line x1="1333.6" y1="2307.5" x2="1333.6" y2="2292" stroke="#000" stroke-width="5"/>
<line x1="1310" y1="2307.5" x2="1310" y2="2292" stroke="#000" stroke-width="5"/>
<line x1="1286.3" y1="2307.5" x2="1286.3" y2="2292" stroke="#000" stroke-width="5"/>
<line x1="1262.7" y1="2307.5" x2="1262.7" y2="2292" stroke="#000" stroke-width="5"/>
<line x1="1239.1" y1="2307.5" x2="1239.1" y2="2292" stroke="#000" stroke-width="5"/>
<line x1="1215.5" y1="2307.5" x2="1215.5" y2="2292" stroke="#000" stroke-width="5"/>
<line x1="1191.9" y1="2307.5" x2="1191.9" y2="2292" stroke="#000" stroke-width="5"/>
<line x1="1168.3" y1="2307.5" x2="1168.3" y2="2292" stroke="#000" stroke-width="5"/>
<line x1="1144.7" y1="2307.5" x2="1144.7" y2="2292" stroke="#000" stroke-width="5"/>
<line x1="1121" y1="2307.5" x2="1121" y2="2278" stroke="#000" stroke-width="5"/>
<line x1="1097.4" y1="2307.5" x2="1097.4" y2="2292" stroke="#000" stroke-width="5"/>
<line x1="1073.8" y1="2307.5" x2="1073.8" y2="2292" stroke="#000" stroke-width="5"/>
<line x1="1050.2" y1="2307.5" x2="1050.2" y2="2292" stroke="#000" stroke-width="5"/>
<line x1="1026.6" y1="2307.5" x2="1026.6" y2="2292" stroke="#000" stroke-width="5"/>
<line x1="1003" y1="2307.5" x2="1003" y2="2292" stroke="#000" stroke-width="5"/>
<line x1="979.3" y1="2307.5" x2="979.3" y2="2292" stroke="#000" stroke-width="5"/>
<line x1="955.7" y1="2307.5" x2="955.7" y2="2292" stroke="#000" stroke-width="5"/>
<line x1="932.1" y1="2307.5" x2="932.1" y2="2292" stroke="#000" stroke-width="5"/>
<line x1="908.5" y1="2307.5" x2="908.5" y2="2292" stroke="#000" stroke-width="5"/>
<line x1="884.9" y1="2307.5" x2="884.9" y2="2278" stroke="#000" stroke-width="5"/>
<line x1="861.3" y1="2307.5" x2="861.3" y2="2292" stroke="#000" stroke-width="5"/>
<line x1="837.7" y1="2307.5" x2="837.7" y2="2292" stroke="#000" stroke-width="5"/>
<line x1="814" y1="2307.5" x2="814" y2="2292" stroke="#000" stroke-width="5"/>
<line x1="790.4" y1="2307.5" x2="790.4" y2="2292" stroke="#000" stroke-width="5"/>
<line x1="766.8" y1="2307.5" x2="766.8" y2="2292" stroke="#000" stroke-width="5"/>
<line x1="743.2" y1="2307.5" x2="743.2" y2="2292" stroke="#000" stroke-width="5"/>
<line x1="719.6" y1="2307.5" x2="719.6" y2="2292" stroke="#000" stroke-width="5"/>
<line x1="696" y1="2307.5" x2="696" y2="2292" stroke="#000" stroke-width="5"/>
<line x1="672.3" y1="2307.5" x2="672.3" y2="2292" stroke="#000" stroke-width="5"/>
<line x1="648.7" y1="2307.5" x2="648.7" y2="2278" stroke="#000" stroke-width="5"/>
<line x1="625.1" y1="2307.5" x2="625.1" y2="2292" stroke="#000" stroke-width="5"/>
<line x1="601.5" y1="2307.5" x2="601.5" y2="2292" stroke="#000" stroke-width="5"/>
<line x1="577.9" y1="2307.5" x2="577.9" y2="2292" stroke="#000" stroke-width="5"/>
<line x1="554.3" y1="2307.5" x2="554.3" y2="2292" stroke="#000" stroke-width="5"/>
<line x1="530.7" y1="2307.5" x2="530.7" y2="2292" stroke="#000" stroke-width="5"/>
<line x1="507" y1="2307.5" x2="507" y2="2292" stroke="#000" stroke-width="5"/>
<line x1="483.4" y1="2307.5" x2="483.4" y2="2292" stroke="#000" stroke-width="5"/>
<line x1="459.8" y1="2307.5" x2="459.8" y2="2292" stroke="#000" stroke-width="5"/>
<line x1="436.2" y1="2307.5" x2="436.2" y2="2292" stroke="#000" stroke-width="5"/>
<line x1="412.6" y1="2307.5" x2="412.6" y2="2278" stroke="#000" stroke-width="5"/>
<line x1="389" y1="2307.5" x2="389" y2="2292" stroke="#000" stroke-width="5"/>
<line x1="365.3" y1="2307.5" x2="365.3" y2="2292" stroke="#000" stroke-width="5"/>
<line x1="341.7" y1="2307.5" x2="341.7" y2="2292" stroke="#000" stroke-width="5"/>
<line x1="318.1" y1="2307.5" x2="318.1" y2="2292" stroke="#000" stroke-width="5"/>
<line x1="294.5" y1="2030.5" x2="324" y2="2030.5" stroke="#000" stroke-width="5"/>
<line x1="294.5" y1="2169" x2="310.5" y2="2169" stroke="#000" stroke-width="5"/>
<line x1="294.5" y1="1892" x2="310.5" y2="1892" stroke="#000" stroke-width="5"/>
<rect x="294.5" y="1753.5" width="1535" height="554" fill="none" stroke="#000" stroke-width="5"/>
<text x="1780.7" y="2384.5" font-size="58.5">500</text>
<text x="1544.2" y="2384.5" font-size="58.5">600</text>
<text x="1308" y="2384.5" font-size="58.5">700</text>
<text x="1072.1" y="2384.5" font-size="58.5">800</text>
<text x="835.9" y="2384.5" font-size="58.5">900</text>
<text x="582.6" y="2384.5" font-size="58.5">1000</text>
<text x="346.4" y="2384.5" font-size="58.5">1100</text>
<text x="170" y="2326.5" font-size="66">0.0</text>
<text x="170.8" y="2049.5" font-size="66">0.2</text>
<text x="169.4" y="1772.5" font-size="66">0.4</text>
<text transform="translate(118.7 2031.7) rotate(-90)" x="-192.6" y="0" font-size="74" textLength="388.4" lengthAdjust="spacingAndGlyphs">Absorbance</text>
<text x="727.3" y="2487" font-size="80.5" textLength="627.3" lengthAdjust="spacingAndGlyphs">Wavenumber, cm</text>
<text x="1353.1" y="2445.4" font-size="43.3">-1</text>
<text x="362.5" y="236.3" font-size="92" textLength="120.6" lengthAdjust="spacingAndGlyphs">(a)</text>
<path d="M597 142.5 H903.5 V497.5 H597" fill="none" stroke="#000" stroke-width="2.7"/>
<line x1="599.6" y1="177.2" x2="711" y2="177.2" stroke="#000000" stroke-width="4.6"/>
<text x="720.3" y="192.7" font-size="46.5">Comp. <tspan font-weight="bold">2</tspan></text>
<line x1="599.6" y1="234.7" x2="711" y2="234.7" stroke="#ff0000" stroke-width="4.6"/>
<text x="720.6" y="250.2" font-size="46.5">Scan 1</text>
<line x1="599.6" y1="292.2" x2="711" y2="292.2" stroke="#00ff00" stroke-width="4.6"/>
<text x="720.6" y="307.7" font-size="46.5">Scan 2</text>
<line x1="599.6" y1="349.7" x2="711" y2="349.7" stroke="#0000ff" stroke-width="4.6"/>
<text x="720.6" y="365.2" font-size="46.5">Scan 3</text>
<line x1="599.6" y1="407.2" x2="711" y2="407.2" stroke="#ff00ff" stroke-width="4.6"/>
<text x="720.6" y="422.7" font-size="46.5">Scan 4</text>
<line x1="599.6" y1="464.7" x2="711" y2="464.7" stroke="#808000" stroke-width="4.6"/>
<text x="720.6" y="480.2" font-size="46.5">Scan 5</text>
<text x="334.7" y="408.5" font-size="60.5">Comp. <tspan font-weight="bold">2</tspan></text>
<line x1="454" y1="425" x2="454" y2="489.8" stroke="#000" stroke-width="7.7"/>
<polygon points="442,487.8 443.5,500.1 446.7,511.2 449.5,520.2 454,528.8 458.5,520.2 461.3,511.2 464.5,500.1 466,487.8" fill="#000"/>
<rect x="409.25" y="553.25" width="83.5" height="112.5" fill="none" stroke="#000" stroke-width="4.5"/>
<line x1="1507.8" y1="474.3" x2="1762.5" y2="474.3" stroke="#000" stroke-width="4.6" stroke-dasharray="26 23"/>
<line x1="1510" y1="472" x2="1510" y2="653" stroke="#000" stroke-width="4.2" stroke-dasharray="23 25.5"/>
<line x1="1760.6" y1="472" x2="1760.6" y2="653" stroke="#000" stroke-width="4.2" stroke-dasharray="20.3 21.7 27.5 23.3 26 23.2 24.8 50"/>
<line x1="1510" y1="651" x2="1762.5" y2="651" stroke="#000" stroke-width="4" stroke-dasharray="24 25" stroke-dashoffset="32.5"/>
<line x1="1619" y1="519.6" x2="1619" y2="460.5" stroke="#000" stroke-width="5.2"/>
<polygon points="1630,462.5 1628.6,450.5 1625.7,439.6 1623.1,430.8 1619,422.4 1614.9,430.8 1612.3,439.6 1609.4,450.5 1608,462.5" fill="#000"/>
<text x="1362.8" y="249.5" font-size="67">DES:</text>
<text x="1364" y="330" font-size="66.3">peaks increase</text>
<text x="378" y="1071.4" font-size="92" textLength="118" lengthAdjust="spacingAndGlyphs">(b)</text>
<line x1="1473.5" y1="1355.3" x2="1781" y2="1355.3" stroke="#dcdcdc" stroke-width="2"/>
<path d="M1473.5 1356 V1002.5 H1781 V1356" fill="none" stroke="#000" stroke-width="2.7"/>
<line x1="1477.6" y1="1036" x2="1586.5" y2="1036" stroke="#000000" stroke-width="4.6"/>
<text x="1597.2" y="1051.5" font-size="46.5">Comp. <tspan font-weight="bold">2</tspan></text>
<line x1="1477.6" y1="1093.4" x2="1586.5" y2="1093.4" stroke="#ff0000" stroke-width="4.6"/>
<text x="1597.5" y="1108.9" font-size="46.5">Scan 1</text>
<line x1="1477.6" y1="1150.8" x2="1586.5" y2="1150.8" stroke="#00ff00" stroke-width="4.6"/>
<text x="1597.5" y="1166.3" font-size="46.5">Scan 2</text>
<line x1="1477.6" y1="1208.2" x2="1586.5" y2="1208.2" stroke="#0000ff" stroke-width="4.6"/>
<text x="1597.5" y="1223.7" font-size="46.5">Scan 3</text>
<line x1="1477.6" y1="1265.6" x2="1586.5" y2="1265.6" stroke="#ff00ff" stroke-width="4.6"/>
<text x="1597.5" y="1281.1" font-size="46.5">Scan 4</text>
<line x1="1477.6" y1="1323" x2="1586.5" y2="1323" stroke="#808000" stroke-width="4.6"/>
<text x="1597.5" y="1338.5" font-size="46.5">Scan 5</text>
<line x1="932.5" y1="1005.3" x2="991" y2="1005.3" stroke="#000" stroke-width="7.5"/>
<polygon points="989,1016 1001.3,1014.7 1012.4,1011.8 1021.4,1009.3 1030,1005.3 1021.4,1001.3 1012.4,998.8 1001.3,995.9 989,994.6" fill="#000"/>
<text x="1069.9" y="1022.7" font-size="66.3">Comp. <tspan font-weight="bold">2</tspan></text>
<text x="1091.1" y="1114" font-size="59.8">peak shifts</text>
<text x="358.6" y="1871.6" font-size="92" textLength="113.5" lengthAdjust="spacingAndGlyphs">(c)</text>
<path d="M808.3 1768.8 V2122 H1113.3" fill="none" stroke="#000" stroke-width="2.6"/>
<line x1="1113.5" y1="1768.8" x2="1113.5" y2="2122" stroke="#ebe6ea" stroke-width="2.2"/>
<line x1="808.3" y1="1768.7" x2="1114.6" y2="1768.7" stroke="#8e8e98" stroke-width="2.3"/>
<line x1="812.3" y1="1803" x2="921" y2="1803" stroke="#000000" stroke-width="4.6"/>
<text x="932.3" y="1818.5" font-size="46.5">Comp. <tspan font-weight="bold">2</tspan></text>
<line x1="812.3" y1="1860.8" x2="921" y2="1860.8" stroke="#ff0000" stroke-width="4.6"/>
<text x="932.6" y="1876.3" font-size="46.5">Scan 1</text>
<line x1="812.3" y1="1918.6" x2="921" y2="1918.6" stroke="#00ff00" stroke-width="4.6"/>
<text x="932.6" y="1934.1" font-size="46.5">Scan 2</text>
<line x1="812.3" y1="1976.4" x2="921" y2="1976.4" stroke="#0000ff" stroke-width="4.6"/>
<text x="932.6" y="1991.9" font-size="46.5">Scan 3</text>
<line x1="812.3" y1="2034.2" x2="921" y2="2034.2" stroke="#ff00ff" stroke-width="4.6"/>
<text x="932.6" y="2049.7" font-size="46.5">Scan 4</text>
<line x1="812.3" y1="2092" x2="921" y2="2092" stroke="#808000" stroke-width="4.6"/>
<text x="932.6" y="2107.5" font-size="46.5">Scan 5</text>
<text x="531.6" y="1900.9" font-size="66.3">Comp. <tspan font-weight="bold">2</tspan></text>
<text x="353.2" y="1977.6" font-size="59.6">peak</text>
<text x="353.9" y="2050" font-size="59.6">decreases</text>
<line x1="681" y1="1942" x2="681" y2="2007" stroke="#000" stroke-width="6.3"/>
<polygon points="669.6,2005 671.1,2017.3 674.1,2028.4 676.7,2037.4 681,2046 685.3,2037.4 687.9,2028.4 690.9,2017.3 692.4,2005" fill="#000"/>
<line x1="646" y1="2058" x2="646" y2="2281" stroke="#000" stroke-width="4.6" stroke-dasharray="24.6 24.6"/>
<line x1="643.8" y1="2060.5" x2="719" y2="2060.5" stroke="#000" stroke-width="4.6" stroke-dasharray="25.7 22.5"/>
<line x1="716.7" y1="2086.7" x2="716.7" y2="2262" stroke="#000" stroke-width="4.6" stroke-dasharray="26.5 22.5"/>
<line x1="656.8" y1="2299.6" x2="681" y2="2299.6" stroke="#000" stroke-width="4.6"/>
<line x1="707" y1="2301.5" x2="715" y2="2284.5" stroke="#000" stroke-width="4.2"/>
<line x1="711" y1="2287.2" x2="719" y2="2287.2" stroke="#000" stroke-width="2.5"/>
</svg></body></html>
